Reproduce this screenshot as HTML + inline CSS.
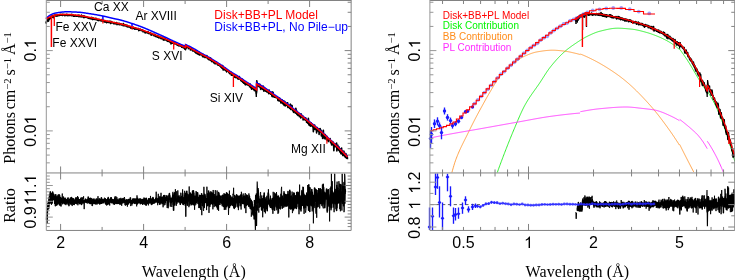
<!DOCTYPE html>
<html><head><meta charset="utf-8"><title>Spectrum</title>
<style>
html,body{margin:0;padding:0;background:#fff;}
body{width:735px;height:280px;overflow:hidden;font-family:"Liberation Sans",sans-serif;}
svg{display:block;}
</style></head><body>
<svg width="735" height="280" viewBox="0 0 735 280">
<rect width="735" height="280" fill="#fff"/>
<defs>
<clipPath id="cl"><rect x="46.5" y="0" width="305" height="230.5"/></clipPath>
<clipPath id="cr"><rect x="430" y="0" width="305" height="230.5"/></clipPath>
</defs>
<g id="left-top">
<polyline points="46,21.62 46.25,23.22 46.5,21.38 46.75,21.5 47,21.31 47.25,20.54 47.5,19.8 47.75,20.9 48,20.42 48.25,18.57 48.5,21.19 48.75,19.98 49,18.57 49.25,19.39 49.5,18.23 49.75,18.24 50,18.53 50.25,17.07 50.5,18.08 50.75,18.45 51,18.24 51.25,17.09 51.5,17.68 51.75,16 52,16.75 52.25,16.97 52.5,15.77 52.75,16.38 53,17.29 53.25,17.71 53.5,16.57 53.75,16.51 54,15.43 54.25,15.23 54.5,15.06 54.75,16.07 55,16.13 55.25,15.32 55.5,14.98 55.75,15.73 56,15.72 56.25,15.45 56.5,16.12 56.75,15.39 57,15.37 57.25,14.82 57.5,15.4 57.75,15.95 58,15.29 58.25,15.27 58.5,15.41 58.75,15.31 59,15.4 59.25,15.38 59.5,15.39 59.75,14.74 60,15.21 60.25,14.36 60.5,15.18 60.75,14.5 61,15.02 61.25,15.26 61.5,14.87 61.75,15.09 62,14.33 62.25,14.67 62.5,15.35 62.75,14.54 63,15.34 63.25,14.44 63.5,14.65 63.75,14.56 64,15.05 64.25,15.29 64.5,14.58 64.75,14.97 65,15.77 65.25,14.91 65.5,14.69 65.75,15.22 66,14.95 66.25,14.74 66.5,14.25 66.75,15.41 67,14.8 67.25,15.05 67.5,14.58 67.75,15.64 68,15.4 68.25,15.51 68.5,15.03 68.75,15.3 69,15.49 69.25,15.57 69.5,15.26 69.75,15.1 70,14.99 70.25,14.83 70.5,14.74 70.75,15.36 71,15.1 71.25,14.33 71.5,15.18 71.75,15.75 72,15.17 72.25,14.48 72.5,15.28 72.75,15.71 73,15.47 73.25,15.21 73.5,16.27 73.75,16.31 74,15.44 74.25,15.87 74.5,15.71 74.75,15.91 75,16.24 75.25,15.99 75.5,15.68 75.75,15.37 76,15.33 76.25,15.71 76.5,16.28 76.75,15.92 77,15.83 77.25,15.95 77.5,15.88 77.75,16.14 78,15.41 78.25,15.04 78.5,15.78 78.75,15.48 79,16.77 79.25,15.99 79.5,15.98 79.75,15.42 80,16.29 80.25,15.91 80.5,16.75 80.75,16.66 81,15.96 81.25,16.54 81.5,15.14 81.75,16.12 82,17.05 82.25,16.88 82.5,16.64 82.75,16.59 83,15.99 83.25,16.07 83.5,16.84 83.75,17.6 84,15.83 84.25,17.17 84.5,17.2 84.75,17.41 85,16.62 85.25,16.83 85.5,17.14 85.75,16.69 86,16.65 86.25,16.86 86.5,17.29 86.75,17.54 87,17.41 87.25,17.5 87.5,17.2 87.75,17.23 88,18.14 88.25,17.64 88.5,17.68 88.75,18.2 89,18.39 89.25,18.46 89.5,18.1 89.75,17.94 90,18.14 90.25,18.14 90.5,18.76 90.75,18.29 91,18.5 91.25,18.24 91.5,18.95 91.75,17.39 92,18.58 92.25,18.81 92.5,17.97 92.75,19.57 93,18.54 93.25,18.59 93.5,18.21 93.75,19.18 94,18.93 94.25,18.6 94.5,19.04 94.75,19.31 95,19.61 95.25,19.2 95.5,18.69 95.75,18.94 96,18.17 96.25,18.96 96.5,19.71 96.75,19.64 97,19.42 97.25,19.37 97.5,20.33 97.75,19.77 98,20.12 98.25,19.94 98.5,19.49 98.75,20.6 99,19.32 99.25,19.4 99.5,19.82 99.75,19.73 100,19.87 100.25,19.9 100.5,20.71 100.75,20.32 101,20.51 101.25,19.64 101.5,20.05 101.75,21.02 102,19.99 102.25,21.18 102.5,20.17 102.75,20.86 103,20.37 103.25,20.92 103.5,20.44 103.75,20.8 104,21.78 104.25,20.85 104.5,22.06 104.75,20.91 105,20.62 105.25,21.27 105.5,21.09 105.75,22.18 106,21.8 106.25,22.01 106.5,21.8 106.75,22.73 107,21.98 107.25,21.9 107.5,21.3 107.75,21.31 108,21.89 108.25,22.33 108.5,22.44 108.75,21.5 109,22.26 109.25,22.15 109.5,21.56 109.75,22.4 110,21.11 110.25,22.39 110.5,23.51 110.75,21.87 111,22.42 111.25,21.55 111.5,22.15 111.75,22.94 112,22.12 112.25,22.66 112.5,22.56 112.75,22.6 113,22.93 113.25,23.12 113.5,23.54 113.75,23.4 114,22.77 114.25,23.79 114.5,23.76 114.75,22.44 115,23.58 115.25,23.71 115.5,23.83 115.75,23.68 116,22.83 116.25,23.39 116.5,22.56 116.75,23.55 117,24.67 117.25,24.07 117.5,24.2 117.75,23.59 118,23.4 118.25,23.43 118.5,24.07 118.75,23.67 119,23.81 119.25,24.74 119.5,23.43 119.75,23.64 120,24.1 120.25,24.36 120.5,24.4 120.75,23.84 121,24.68 121.25,24.58 121.5,24.88 121.75,24.23 122,24.95 122.25,25 122.5,24.62 122.75,24.9 123,24.79 123.25,25.8 123.5,23.64 123.75,24.54 124,24.47 124.25,25.19 124.5,25.11 124.75,25.3 125,25.93 125.25,24.82 125.5,25.28 125.75,25.65 126,25.23 126.25,26.08 126.5,26.12 126.75,25.67 127,25.2 127.25,26.95 127.5,26.45 127.75,26.5 128,26.39 128.25,26.41 128.5,26.9 128.75,26.54 129,26.3 129.25,27.04 129.5,26.79 129.75,26.44 130,26.44 130.25,27.55 130.5,27.35 130.75,28.09 131,26.9 131.25,26.86 131.5,27.51 131.75,28.07 132,27.75 132.25,27.74 132.5,28.54 132.75,27.29 133,27.11 133.25,27.43 133.5,27.72 133.75,28.14 134,28.54 134.25,28.31 134.5,28.95 134.75,27.83 135,29.29 135.25,27.99 135.5,29.07 135.75,28.07 136,28.8 136.25,28.73 136.5,29.04 136.75,29.24 137,28.82 137.25,28.97 137.5,29.21 137.75,28.5 138,28.87 138.25,28.49 138.5,29.4 138.75,30.61 139,29.94 139.25,29.2 139.5,29.36 139.75,30.3 140,29.64 140.25,29.14 140.5,29.52 140.75,29.59 141,29.69 141.25,30.64 141.5,30.41 141.75,29.7 142,30.27 142.25,30.05 142.5,30.09 142.75,30.03 143,31.78 143.25,30.81 143.5,31.35 143.75,31.59 144,31.03 144.25,31.6 144.5,31.69 144.75,31.61 145,32.71 145.25,31.83 145.5,31.65 145.75,32.2 146,32.87 146.25,32.56 146.5,31.89 146.75,31.79 147,31.85 147.25,32.08 147.5,32.72 147.75,33.05 148,31.53 148.25,32.79 148.5,32.33 148.75,33.35 149,33.57 149.25,32.78 149.5,33.05 149.75,32.89 150,33.68 150.25,32.74 150.5,33.08 150.75,33.41 151,34.51 151.25,35.22 151.5,34.07 151.75,33.51 152,34.3 152.25,33.9 152.5,34.69 152.75,33.96 153,34.45 153.25,34.74 153.5,35.12 153.75,34.9 154,35.71 154.25,35.2 154.5,34.26 154.75,35.82 155,35.26 155.25,35.16 155.5,36.43 155.75,35.17 156,35.84 156.25,35.52 156.5,36.73 156.75,35.9 157,36.32 157.25,35.53 157.5,37.17 157.75,35.9 158,37.08 158.25,37.29 158.5,37.45 158.75,37.87 159,36.32 159.25,37.29 159.5,37.24 159.75,37.49 160,37.97 160.25,37.52 160.5,37.1 160.75,37.6 161,38.61 161.25,37.19 161.5,37.99 161.75,37.5 162,38.77 162.25,37.32 162.5,38.15 162.75,38.38 163,38.61 163.25,39.98 163.5,39.63 163.75,38.26 164,40.18 164.25,38.37 164.5,38.09 164.75,38.4 165,39.48 165.25,39.77 165.5,38.3 165.75,39.92 166,39.62 166.25,40.29 166.5,39.76 166.75,40.61 167,40.53 167.25,39.63 167.5,41.26 167.75,40.65 168,41.06 168.25,41.48 168.5,40.29 168.75,40.92 169,40.59 169.25,40.63 169.5,41.45 169.75,41.61 170,42.31 170.25,42.45 170.5,41.73 170.75,41.36 171,43.87 171.25,43.35 171.5,42.12 171.75,41.74 172,42.16 172.25,42.69 172.5,43.31 172.75,43.32 173,43.11 173.25,42.81 173.5,43.17 173.75,42.98 174,43.32 174.25,43.32 174.5,43.81 174.75,42.46 175,43.5 175.25,43.64 175.5,43.23 175.75,43.92 176,43.49 176.25,43.83 176.5,44.17 176.75,44.3 177,44.21 177.25,45.34 177.5,44.9 177.75,45.08 178,45.13 178.25,44.68 178.5,44.65 178.75,45.82 179,45.19 179.25,44.41 179.5,44.25 179.75,45.86 180,45.37 180.25,45.89 180.5,45.69 180.75,45.88 181,46.14 181.25,45.56 181.5,46.44 181.75,47.18 182,47.1 182.25,45.67 182.5,46.02 182.75,46.13 183,46.92 183.25,47.73 183.5,47.49 183.75,46.27 184,47.53 184.25,48.11 184.5,47.41 184.75,49.02 185,47.49 185.25,48.76 185.5,49.62 185.6,47.33 185.6,45.74 185.85,46.47 186.1,48.33 186.35,45.24 186.6,46.92 186.85,46.88 187.1,46.57 187.35,46.45 187.6,46.8 187.85,47.09 188.1,46.61 188.35,48.62 188.6,47.01 188.85,47.6 189.1,47.59 189.35,47.9 189.6,48.38 189.85,47.96 190.1,48.45 190.35,49.9 190.6,49.6 190.85,48.85 191.1,49.79 191.35,48.82 191.6,49.63 191.85,48.67 192.1,49 192.35,49.33 192.6,50.87 192.85,50.34 193.1,50.7 193.35,50.57 193.6,50.86 193.85,51.04 194.1,51.41 194.35,51.14 194.6,50.55 194.85,50.78 195.1,52.28 195.35,52.55 195.6,52.11 195.85,50.75 196.1,53.08 196.35,52.36 196.6,52.23 196.85,52.43 197.1,52.29 197.35,53.89 197.6,53.97 197.85,52.21 198.1,52.95 198.35,53.42 198.6,54.22 198.85,51.79 199.1,54.24 199.35,54.88 199.6,53.62 199.85,53.95 200.1,54.98 200.35,54.49 200.6,53.43 200.85,53.67 201.1,53.89 201.35,53.75 201.6,54.86 201.85,54.63 202.1,55.15 202.35,55.75 202.6,56.64 202.85,55.66 203.1,54.32 203.35,56.75 203.6,55.81 203.85,56.85 204.1,55.83 204.35,56.5 204.6,56.32 204.85,56.53 205.1,57.59 205.35,56.34 205.6,57.06 205.85,57.24 206.1,56.94 206.35,55.77 206.6,57.74 206.85,55.58 207.1,56.68 207.35,57.58 207.6,58.36 207.85,58.82 208.1,58.94 208.35,58.91 208.6,58.36 208.85,59.65 209.1,58.72 209.35,59.88 209.6,57.58 209.85,58.66 210.1,59.08 210.35,59.65 210.6,58.05 210.85,60.55 211.1,60.83 211.35,60.83 211.6,60.02 211.85,61.63 212.1,60.31 212.35,61.53 212.6,60.97 212.85,61.16 213.1,61.21 213.35,61.46 213.6,62.46 213.85,62.86 214.1,63.01 214.35,62.78 214.6,62.76 214.85,62.76 215.1,63.89 215.35,62.4 215.6,62.42 215.85,63.09 216.1,61.96 216.35,63.19 216.6,63.49 216.85,62.91 217.1,63.42 217.35,64.54 217.6,64 217.85,64.39 218.1,65.28 218.35,64.19 218.6,63.96 218.85,64.96 219.1,65.48 219.35,63.94 219.6,65.99 219.85,65.42 220.1,65.51 220.35,65.34 220.6,66.02 220.85,67.08 221.1,66.91 221.35,67.3 221.6,66.57 221.85,68.25 222.1,68.18 222.35,67.36 222.6,65.51 222.85,67.77 223.1,70.03 223.35,68.02 223.6,67.45 223.85,69.75 224.1,68.11 224.35,69.15 224.6,69.54 224.85,67.97 225.1,69.4 225.35,70.42 225.6,69.4 225.85,70.36 226.1,70.01 226.35,71.02 226.6,71.86 226.85,69.72 227.1,70.54 227.35,71.27 227.6,70.64 227.85,70.67 228.1,71.23 228.35,71.47 228.6,71.35 228.85,72.31 229.1,72.87 229.35,73 229.6,73.12 229.85,73.7 230.1,71.82 230.35,72.99 230.6,73.4 230.85,73.84 231.1,72.27 231.35,75.26 231.6,73.17 231.85,74.26 232.1,74.81 232.35,75.25 232.6,73.95 232.85,74.23 233.1,75.13 233.35,75.47 233.6,75.89 233.85,75.24 234.1,74.87 234.35,74.48 234.6,77.22 234.85,74.76 235.1,76.66 235.35,76.46 235.6,77.03 235.85,77.36 236.1,77.86 236.35,76.82 236.6,77.37 236.85,75.52 237.1,77.4 237.35,76.74 237.6,77.55 237.85,78.91 238.1,78.1 238.35,79.12 238.6,78.16 238.85,78.84 239.1,78.3 239.35,76.6 239.6,78.36 239.85,78.92 240.1,79.45 240.35,79.48 240.6,79.53 240.85,80.65 241.1,80.53 241.35,79.79 241.6,81.08 241.85,78.69 242.1,80.38 242.35,80.67 242.6,82.14 242.85,80.65 243.1,79.97 243.35,81.63 243.6,83.17 243.85,81.61 244.1,81.87 244.35,81.94 244.6,82.34 244.85,83.66 245.1,84.44 245.35,83.23 245.6,82.87 245.85,84.85 246.1,83.39 246.35,83.52 246.6,83.3 246.85,83.5 247.1,84.19 247.35,83.86 247.6,84.69 247.85,84.55 248.1,85.16 248.35,84.44 248.6,84.78 248.85,85.36 249.1,85.37 249.35,85.56 249.6,86.76 249.85,84.78 250.1,84.11 250.35,86.84 250.6,86.07 250.85,87.78 251.1,86.56 251.35,85.68 251.6,89.11 251.85,87.54 252.1,86.87 252.35,86.75 252.6,88.2 252.85,87.16 253.1,88.37 253.35,89.31 253.6,86.95 253.85,88.14 254.1,89.14 254.35,90.49 254.6,89.93 254.85,88.72 255.1,90.81 255.35,89.15 255.6,89.52 255.85,90.23 256.1,88.92 256.35,93.3 256.6,91.57 256.6,90.58 256.6,83.99 256.85,83.52 257.1,85.21 257.35,85.68 257.6,84.71 257.85,85.05 258.1,85.96 258.35,85.47 258.6,83.77 258.85,86.51 259.1,86.22 259.35,86.86 259.6,85.47 259.85,84.19 260.1,85.25 260.35,87 260.6,89.01 260.85,89.45 261.1,87.46 261.35,85.76 261.6,87.09 261.85,88.06 262.1,88.21 262.35,88 262.6,89.47 262.85,87.25 263.1,86.06 263.35,87.59 263.6,87.44 263.85,91.23 264.1,88.8 264.35,87.63 264.6,89.99 264.85,90.58 265.1,89.72 265.35,90.03 265.6,91.1 265.85,90.72 266.1,89.57 266.35,91.14 266.6,91.69 266.85,91.22 267.1,91.97 267.35,91.83 267.6,91.1 267.85,91.37 268.1,92.39 268.35,91.27 268.6,93.34 268.85,93.59 269.1,90.16 269.35,92.52 269.6,91.93 269.85,92.24 270.1,93.29 270.35,93.12 270.6,94.12 270.85,94.03 271.1,94.26 271.35,93.14 271.6,93.81 271.85,96.04 272.1,91.74 272.35,96.69 272.6,94.28 272.85,96.44 273.1,92.3 273.35,94.97 273.6,96.61 273.85,95.98 274.1,97.16 274.35,95.15 274.6,95.69 274.85,95.76 275.1,97.28 275.35,97.41 275.6,96.9 275.85,96.91 276.1,97.05 276.35,97.67 276.6,96.63 276.85,97.85 277.1,97.93 277.35,97.63 277.6,97.77 277.85,100.37 278.1,98.07 278.35,99.46 278.6,100.77 278.85,100.2 279.1,99.52 279.35,100.88 279.6,98.14 279.85,98.55 280.1,99.72 280.35,100.11 280.6,100.44 280.85,103 281.1,102.95 281.35,101.04 281.6,101.57 281.85,100.33 282.1,102 282.35,100.16 282.6,103.68 282.85,101.51 283.1,103.01 283.35,100.9 283.6,104.39 283.85,103.61 284.1,105.46 284.35,103.31 284.6,101.4 284.85,102.61 285.1,102.21 285.35,105.91 285.6,103.35 285.85,103.37 286.1,105.24 286.35,105.01 286.6,105.48 286.85,104.41 287.1,102.72 287.35,103.7 287.6,102.83 287.85,107.4 288.1,107.12 288.35,105.69 288.6,107.14 288.85,107.39 289.1,107.53 289.35,107.59 289.6,108.23 289.85,107.4 290.1,104.64 290.35,104.12 290.6,109.49 290.85,108.82 291.1,105.01 291.35,108.66 291.6,107.5 291.85,108.12 292.1,105.64 292.35,110.21 292.6,109.3 292.85,110.66 293.1,111.22 293.35,111.67 293.6,112.34 293.85,110.76 294.1,110.86 294.35,109.93 294.6,111.66 294.85,110.85 295.1,109.8 295.35,113.14 295.6,112.7 295.85,108.38 296.1,109.66 296.35,112.05 296.6,110.74 296.85,114.38 297.1,113.18 297.35,113.9 297.6,114.6 297.85,115.34 298.1,113.36 298.35,114.78 298.6,114.48 298.85,115.42 299.1,115.29 299.35,116.67 299.6,115.66 299.85,114.47 300.1,115.49 300.35,113.96 300.6,116.17 300.85,118.02 301.1,115.28 301.35,114.02 301.6,116.41 301.85,116.01 302.1,116.93 302.35,116.29 302.6,117.44 302.85,116.08 303.1,119.96 303.35,117.61 303.6,118.88 303.85,119.44 304.1,118.32 304.35,119.41 304.6,118.59 304.85,118.49 305.1,119.02 305.35,120.28 305.6,117.88 305.85,118.61 306.1,118.97 306.35,119.52 306.6,122.32 306.85,120.73 307.1,120.52 307.35,121.4 307.6,123.01 307.85,120.45 308.1,123.37 308.35,118.41 308.6,120.83 308.85,124.7 309.1,125.04 309.35,123.13 309.6,122.36 309.85,124.53 310.1,122.79 310.35,126.09 310.6,125.73 310.85,125.28 311.1,122.91 311.35,126.02 311.6,124.26 311.85,124.49 312.1,124.38 312.35,125.08 312.6,126.29 312.85,127.06 313.1,127.27 313.35,131.66 313.6,125.72 313.85,128.41 314.1,125.59 314.35,126.57 314.6,125.15 314.85,129.33 315.1,127.94 315.35,127.93 315.6,127.71 315.85,129.68 316.1,127.47 316.35,129.21 316.6,133.05 316.85,128.7 317.1,128.07 317.35,127.61 317.6,130.97 317.85,129.89 318.1,128.67 318.35,128.74 318.6,130.46 318.85,128.86 319.1,134.54 319.35,130.71 319.6,130.95 319.85,131.32 320.1,128.46 320.35,129.32 320.6,131.49 320.85,132.32 321.1,130.35 321.35,135.89 321.6,133.87 321.85,135.62 322.1,135.63 322.35,133.31 322.6,138.43 322.85,134.4 323.1,130.92 323.35,130.31 323.6,134.87 323.85,136.72 324.1,135.46 324.35,138.81 324.6,135.23 324.85,137.09 325.1,137.64 325.35,134.53 325.6,137.3 325.85,137.64 326.1,139.27 326.35,139.72 326.6,139.53 326.85,136.4 327.1,139.51 327.35,140.39 327.6,138.61 327.85,140.23 328.1,140.5 328.35,141.54 328.6,139.61 328.85,140.62 329.1,140.3 329.35,140.27 329.6,139.15 329.85,139.93 330.1,138.59 330.35,140.65 330.6,142.65 330.85,142.74 331.1,143.23 331.35,141.73 331.6,144.99 331.85,141.49 332.1,144.2 332.35,143.73 332.6,141.59 332.85,141.9 333.1,145.1 333.35,143.88 333.6,144.6 333.85,150.62 334.1,145.68 334.35,145 334.6,146.51 334.85,143.97 335.1,145.09 335.35,146.62 335.6,144.21 335.85,146.09 336.1,146 336.35,146.86 336.6,143.12 336.85,150.86 337.1,147.14 337.35,148.74 337.6,145.58 337.85,145.23 338.1,148.32 338.35,147.81 338.6,150.14 338.85,146.97 339.1,147.07 339.35,150.17 339.6,151.21 339.85,151.94 340.1,150.09 340.35,150.97 340.6,148.88 340.85,153.78 341.1,153.64 341.35,153.81 341.6,148.03 341.85,153.8 342.1,150.45 342.35,153.43 342.6,153.53 342.85,155.56 343.1,152.63 343.35,152.54 343.6,151.27 343.85,151.12 344.1,155.38 344.35,152.24 344.6,156.1 344.85,153.95 345.1,153.77 345.35,157.54 345.6,157.57 345.85,153.57 346.1,155.73 346.35,156.37 346.6,158.22 346.85,155.24 347.1,156.26 347.35,157.25 347.5,159.31" fill="none" stroke="#000" stroke-width="1.6" stroke-linejoin="round"/>
<polyline points="255.9,90 256.3,97 256.8,80 257.6,84.5" fill="none" stroke="#000" stroke-width="1.3" />
<polyline points="185,47.5 185.5,49.6 185.9,45" fill="none" stroke="#000" stroke-width="1.1" />
<polyline points="46,18.6 46.25,18.35 46.5,18.11 46.75,17.87 47,17.63 47.25,17.39 47.5,17.15 47.75,16.92 48,16.69 48.25,16.47 48.5,16.25 48.75,16.05 49,15.86 49.25,15.68 49.5,15.52 49.75,15.37 50,15.23 50.25,15.1 50.5,14.96 50.75,14.83 51,14.7 51.25,14.58 51.5,14.45 51.75,14.34 52,14.22 52.25,14.11 52.5,14 52.75,13.9 53,13.8 53.25,13.71 53.5,13.62 53.75,13.53 54,13.45 54.25,13.38 54.5,13.31 54.75,13.24 55,13.18 55.25,13.13 55.5,13.08 55.75,13.03 56,12.99 56.25,12.94 56.5,12.9 56.75,12.85 57,12.81 57.25,12.76 57.5,12.72 57.75,12.68 58,12.64 58.25,12.6 58.5,12.56 58.75,12.52 59,12.48 59.25,12.44 59.5,12.4 59.75,12.37 60,12.33 60.25,12.3 60.5,12.26 60.75,12.23 61,12.2 61.25,12.17 61.5,12.14 61.75,12.11 62,12.08 62.25,12.05 62.5,12.03 62.75,12.01 63,11.98 63.25,11.96 63.5,11.94 63.75,11.92 64,11.9 64.25,11.89 64.5,11.87 64.75,11.86 65,11.85 65.25,11.83 65.5,11.82 65.75,11.82 66,11.81 66.25,11.81 66.5,11.8 66.75,11.8 67,11.8 67.25,11.8 67.5,11.8 67.75,11.8 68,11.81 68.25,11.81 68.5,11.81 68.75,11.81 69,11.82 69.25,11.82 69.5,11.83 69.75,11.83 70,11.84 70.25,11.84 70.5,11.85 70.75,11.86 71,11.87 71.25,11.87 71.5,11.88 71.75,11.89 72,11.9 72.25,11.91 72.5,11.92 72.75,11.93 73,11.94 73.25,11.95 73.5,11.96 73.75,11.97 74,11.98 74.25,11.99 74.5,12 74.75,12.01 75,12.03 75.25,12.04 75.5,12.05 75.75,12.06 76,12.08 76.25,12.09 76.5,12.1 76.75,12.12 77,12.13 77.25,12.14 77.5,12.16 77.75,12.17 78,12.18 78.25,12.2 78.5,12.21 78.75,12.23 79,12.24 79.25,12.26 79.5,12.28 79.75,12.3 80,12.33 80.25,12.35 80.5,12.37 80.75,12.4 81,12.43 81.25,12.45 81.5,12.48 81.75,12.51 82,12.54 82.25,12.58 82.5,12.61 82.75,12.64 83,12.67 83.25,12.71 83.5,12.74 83.75,12.78 84,12.82 84.25,12.85 84.5,12.89 84.75,12.93 85,12.97 85.25,13 85.5,13.04 85.75,13.08 86,13.12 86.25,13.16 86.5,13.2 86.75,13.24 87,13.28 87.25,13.32 87.5,13.36 87.75,13.4 88,13.44 88.25,13.48 88.5,13.52 88.75,13.56 89,13.59 89.25,13.63 89.5,13.67 89.75,13.71 90,13.74 90.25,13.78 90.5,13.82 90.75,13.86 91,13.9 91.25,13.94 91.5,13.97 91.75,14.01 92,14.05 92.25,14.09 92.5,14.13 92.75,14.17 93,14.21 93.25,14.25 93.5,14.29 93.75,14.33 94,14.37 94.25,14.42 94.5,14.46 94.75,14.5 95,14.54 95.25,14.58 95.5,14.63 95.75,14.67 96,14.71 96.25,14.75 96.5,14.8 96.75,14.84 97,14.88 97.25,14.93 97.5,14.97 97.75,15.02 98,15.06 98.25,15.11 98.5,15.15 98.75,15.2 99,15.25 99.25,15.29 99.5,15.34 99.75,15.39 100,15.43 100.25,15.48 100.5,15.53 100.75,15.58 101,15.62 101.25,15.67 101.5,15.72 101.75,15.77 102,15.82 102.25,15.87 102.5,15.92 102.75,15.97 103,16.02 103.25,16.07 103.5,16.12 103.75,16.18 104,16.23 104.25,16.29 104.5,16.34 104.75,16.4 105,16.46 105.25,16.52 105.5,16.57 105.75,16.63 106,16.69 106.25,16.75 106.5,16.81 106.75,16.87 107,16.94 107.25,17 107.5,17.06 107.75,17.12 108,17.18 108.25,17.25 108.5,17.31 108.75,17.37 109,17.43 109.25,17.5 109.5,17.56 109.75,17.62 110,17.68 110.25,17.74 110.5,17.8 110.75,17.87 111,17.93 111.25,17.99 111.5,18.05 111.75,18.1 112,18.16 112.25,18.22 112.5,18.28 112.75,18.33 113,18.39 113.25,18.44 113.5,18.5 113.75,18.55 114,18.6 114.25,18.66 114.5,18.71 114.75,18.76 115,18.81 115.25,18.86 115.5,18.92 115.75,18.97 116,19.02 116.25,19.07 116.5,19.12 116.75,19.17 117,19.22 117.25,19.28 117.5,19.33 117.75,19.38 118,19.44 118.25,19.49 118.5,19.55 118.75,19.6 119,19.66 119.25,19.72 119.5,19.78 119.75,19.84 120,19.9 120.25,19.96 120.5,20.03 120.75,20.09 121,20.15 121.25,20.22 121.5,20.29 121.75,20.35 122,20.42 122.25,20.49 122.5,20.56 122.75,20.63 123,20.7 123.25,20.77 123.5,20.84 123.75,20.91 124,20.98 124.25,21.06 124.5,21.13 124.75,21.2 125,21.28 125.25,21.35 125.5,21.43 125.75,21.51 126,21.58 126.25,21.66 126.5,21.74 126.75,21.81 127,21.89 127.25,21.97 127.5,22.05 127.75,22.13 128,22.21 128.25,22.29 128.5,22.37 128.75,22.45 129,22.53 129.25,22.61 129.5,22.69 129.75,22.77 130,22.85 130.25,22.93 130.5,23.01 130.75,23.09 131,23.17 131.25,23.26 131.5,23.34 131.75,23.42 132,23.5 132.25,23.58 132.5,23.66 132.75,23.75 133,23.83 133.25,23.91 133.5,24 133.75,24.08 134,24.16 134.25,24.25 134.5,24.33 134.75,24.42 135,24.51 135.25,24.59 135.5,24.68 135.75,24.76 136,24.85 136.25,24.94 136.5,25.03 136.75,25.11 137,25.2 137.25,25.29 137.5,25.38 137.75,25.47 138,25.56 138.25,25.65 138.5,25.74 138.75,25.83 139,25.92 139.25,26.02 139.5,26.11 139.75,26.2 140,26.29 140.25,26.39 140.5,26.48 140.75,26.58 141,26.67 141.25,26.76 141.5,26.86 141.75,26.96 142,27.05 142.25,27.15 142.5,27.24 142.75,27.34 143,27.44 143.25,27.54 143.5,27.64 143.75,27.74 144,27.84 144.25,27.94 144.5,28.04 144.75,28.14 145,28.24 145.25,28.35 145.5,28.45 145.75,28.56 146,28.66 146.25,28.77 146.5,28.87 146.75,28.98 147,29.09 147.25,29.2 147.5,29.3 147.75,29.41 148,29.52 148.25,29.63 148.5,29.74 148.75,29.85 149,29.96 149.25,30.07 149.5,30.18 149.75,30.29 150,30.4 150.25,30.51 150.5,30.62 150.75,30.73 151,30.84 151.25,30.95 151.5,31.06 151.75,31.17 152,31.28 152.25,31.4 152.5,31.51 152.75,31.62 153,31.73 153.25,31.84 153.5,31.95 153.75,32.06 154,32.17 154.25,32.28 154.5,32.39 154.75,32.5 155,32.61 155.25,32.72 155.5,32.83 155.75,32.94 156,33.05 156.25,33.16 156.5,33.27 156.75,33.38 157,33.49 157.25,33.6 157.5,33.71 157.75,33.82 158,33.93 158.25,34.04 158.5,34.15 158.75,34.26 159,34.37 159.25,34.48 159.5,34.59 159.75,34.71 160,34.82 160.25,34.93 160.5,35.04 160.75,35.15 161,35.26 161.25,35.38 161.5,35.49 161.75,35.6 162,35.71 162.25,35.83 162.5,35.94 162.75,36.05 163,36.17 163.25,36.28 163.5,36.39 163.75,36.51 164,36.62 164.25,36.73 164.5,36.85 164.75,36.96 165,37.08 165.25,37.19 165.5,37.31 165.75,37.42 166,37.54 166.25,37.66 166.5,37.77 166.75,37.89 167,38.01 167.25,38.13 167.5,38.25 167.75,38.37 168,38.49 168.25,38.61 168.5,38.73 168.75,38.85 169,38.97 169.25,39.09 169.5,39.21 169.75,39.33 170,39.45 170.25,39.58 170.5,39.7 170.75,39.82 171,39.94 171.25,40.06 171.5,40.18 171.75,40.29 172,40.41 172.25,40.53 172.5,40.65 172.75,40.76 173,40.88 173.25,41 173.5,41.11 173.75,41.22 174,41.34 174.25,41.45 174.5,41.56 174.75,41.67 175,41.78 175.25,41.9 175.5,42.01 175.75,42.12 176,42.23 176.25,42.34 176.5,42.45 176.75,42.56 177,42.67 177.25,42.78 177.5,42.89 177.75,43 178,43.11 178.25,43.22 178.5,43.33 178.75,43.44 179,43.55 179.25,43.65 179.5,43.76 179.75,43.87 180,43.98 180.25,44.08 180.5,44.19 180.75,44.3 181,44.4 181.25,44.51 181.5,44.61 181.75,44.72 182,44.82 182.25,44.93 182.5,45.03 182.75,45.14 183,45.24 183.25,45.34 183.5,45.45 183.75,45.55 184,45.65 184.25,45.75 184.5,45.86 184.75,45.96 185,46.06 185.25,46.16 185.5,46.26 185.6,46.3 185.6,44.6 185.85,44.7 186.1,44.81 186.35,44.91 186.6,45.02 186.85,45.13 187.1,45.24 187.35,45.35 187.6,45.47 187.85,45.58 188.1,45.7 188.35,45.81 188.6,45.93 188.85,46.05 189.1,46.17 189.35,46.29 189.6,46.42 189.85,46.54 190.1,46.66 190.35,46.79 190.6,46.92 190.85,47.04 191.1,47.17 191.35,47.3 191.6,47.43 191.85,47.57 192.1,47.7 192.35,47.83 192.6,47.97 192.85,48.1 193.1,48.24 193.35,48.37 193.6,48.51 193.85,48.65 194.1,48.79 194.35,48.93 194.6,49.07 194.85,49.21 195.1,49.36 195.35,49.5 195.6,49.65 195.85,49.8 196.1,49.95 196.35,50.11 196.6,50.26 196.85,50.42 197.1,50.58 197.35,50.74 197.6,50.9 197.85,51.06 198.1,51.22 198.35,51.39 198.6,51.55 198.85,51.72 199.1,51.89 199.35,52.06 199.6,52.23 199.85,52.4 200.1,52.66 200.35,52.79 200.6,52.91 200.85,53.04 201.1,53.17 201.35,53.29 201.6,53.42 201.85,53.54 202.1,53.67 202.35,53.8 202.6,53.92 202.85,54.05 203.1,54.18 203.35,54.3 203.6,54.43 203.85,54.56 204.1,54.69 204.35,54.82 204.6,54.95 204.85,55.08 205.1,55.21 205.35,55.34 205.6,55.47 205.85,55.61 206.1,55.74 206.35,55.88 206.6,56.01 206.85,56.15 207.1,56.29 207.35,56.43 207.6,56.57 207.85,56.71 208.1,56.85 208.35,56.99 208.6,57.14 208.85,57.28 209.1,57.42 209.35,57.57 209.6,57.71 209.85,57.86 210.1,58.01 210.35,58.15 210.6,58.3 210.85,58.45 211.1,58.6 211.35,58.75 211.6,58.9 211.85,59.05 212.1,59.2 212.35,59.35 212.6,59.5 212.85,59.65 213.1,59.81 213.35,59.96 213.6,60.11 213.85,60.27 214.1,60.42 214.35,60.58 214.6,60.73 214.85,60.89 215.1,61.04 215.35,61.2 215.6,61.36 215.85,61.52 216.1,61.67 216.35,61.83 216.6,61.99 216.85,62.15 217.1,62.31 217.35,62.47 217.6,62.63 217.85,62.79 218.1,62.95 218.35,63.11 218.6,63.27 218.85,63.44 219.1,63.6 219.35,63.77 219.6,63.93 219.85,64.1 220.1,64.27 220.35,64.43 220.6,64.6 220.85,64.77 221.1,64.94 221.35,65.11 221.6,65.28 221.85,65.45 222.1,65.62 222.35,65.79 222.6,65.97 222.85,66.14 223.1,66.31 223.35,66.48 223.6,66.66 223.85,66.83 224.1,67 224.35,67.18 224.6,67.35 224.85,67.53 225.1,67.7 225.35,67.88 225.6,68.06 225.85,68.24 226.1,68.42 226.35,68.61 226.6,68.79 226.85,68.97 227.1,69.16 227.35,69.34 227.6,69.52 227.85,69.71 228.1,69.89 228.35,70.07 228.6,70.25 228.85,70.42 229.1,70.6 229.35,70.78 229.6,70.95 229.85,71.12 230.1,71.28 230.35,71.45 230.6,71.61 230.85,71.77 231.1,71.93 231.35,72.09 231.6,72.25 231.85,72.41 232.1,72.56 232.35,72.72 232.6,72.87 232.85,73.02 233.1,73.18 233.35,73.33 233.6,73.48 233.85,73.64 234.1,73.79 234.35,73.95 234.6,74.1 234.85,74.26 235.1,74.41 235.35,74.57 235.6,74.73 235.85,74.89 236.1,75.05 236.35,75.21 236.6,75.37 236.85,75.53 237.1,75.69 237.35,75.86 237.6,76.02 237.85,76.18 238.1,76.34 238.35,76.5 238.6,76.67 238.85,76.83 239.1,76.99 239.35,77.16 239.6,77.32 239.85,77.48 240.1,77.65 240.35,77.81 240.6,77.97 240.85,78.14 241.1,78.3 241.35,78.47 241.6,78.63 241.85,78.8 242.1,78.96 242.35,79.12 242.6,79.29 242.85,79.45 243.1,79.62 243.35,79.78 243.6,79.95 243.85,80.12 244.1,80.28 244.35,80.45 244.6,80.61 244.85,80.78 245.1,80.94 245.35,81.11 245.6,81.27 245.85,81.44 246.1,81.61 246.35,81.77 246.6,81.94 246.85,82.1 247.1,82.27 247.35,82.44 247.6,82.6 247.85,82.77 248.1,82.93 248.35,83.1 248.6,83.27 248.85,83.43 249.1,83.6 249.35,83.77 249.6,83.93 249.85,84.1 250.1,84.27 250.35,84.44 250.6,84.6 250.85,84.77 251.1,84.94 251.35,85.11 251.6,85.27 251.85,85.44 252.1,85.61 252.35,85.78 252.6,85.95 252.85,86.11 253.1,86.28 253.35,86.45 253.6,86.62 253.85,86.79 254.1,86.96 254.35,87.13 254.6,87.29 254.85,87.46 255.1,87.63 255.35,87.8 255.6,87.97 255.85,88.14 256.1,88.31 256.35,88.48 256.6,88.65 256.6,88.65 256.6,82.85 256.85,82.99 257.1,83.13 257.35,83.27 257.6,83.41 257.85,83.55 258.1,83.69 258.35,83.84 258.6,83.98 258.85,84.12 259.1,84.27 259.35,84.41 259.6,84.56 259.85,84.71 260.1,84.85 260.35,85 260.6,85.15 260.85,85.3 261.1,85.45 261.35,85.61 261.6,85.76 261.85,85.91 262.1,86.07 262.35,86.22 262.6,86.38 262.85,86.53 263.1,86.69 263.35,86.85 263.6,87.01 263.85,87.17 264.1,87.33 264.35,87.5 264.6,87.66 264.85,87.83 265.1,87.99 265.35,88.16 265.6,88.33 265.85,88.5 266.1,88.67 266.35,88.84 266.6,89.01 266.85,89.19 267.1,89.36 267.35,89.53 267.6,89.71 267.85,89.88 268.1,90.06 268.35,90.24 268.6,90.41 268.85,90.59 269.1,90.77 269.35,90.95 269.6,91.13 269.85,91.31 270.1,91.49 270.35,91.67 270.6,91.85 270.85,92.03 271.1,92.21 271.35,92.39 271.6,92.57 271.85,92.75 272.1,92.93 272.35,93.11 272.6,93.29 272.85,93.47 273.1,93.65 273.35,93.83 273.6,94.01 273.85,94.19 274.1,94.36 274.35,94.54 274.6,94.72 274.85,94.9 275.1,95.07 275.35,95.25 275.6,95.43 275.85,95.61 276.1,95.78 276.35,95.96 276.6,96.13 276.85,96.31 277.1,96.49 277.35,96.66 277.6,96.84 277.85,97.02 278.1,97.19 278.35,97.37 278.6,97.55 278.85,97.72 279.1,97.9 279.35,98.08 279.6,98.25 279.85,98.43 280.1,98.61 280.35,98.78 280.6,98.96 280.85,99.14 281.1,99.32 281.35,99.49 281.6,99.67 281.85,99.85 282.1,100.03 282.35,100.21 282.6,100.39 282.85,100.56 283.1,100.74 283.35,100.92 283.6,101.1 283.85,101.28 284.1,101.47 284.35,101.65 284.6,101.83 284.85,102.01 285.1,102.19 285.35,102.37 285.6,102.56 285.85,102.74 286.1,102.92 286.35,103.11 286.6,103.29 286.85,103.48 287.1,103.66 287.35,103.85 287.6,104.04 287.85,104.23 288.1,104.41 288.35,104.6 288.6,104.79 288.85,104.98 289.1,105.17 289.35,105.36 289.6,105.55 289.85,105.74 290.1,105.93 290.35,106.13 290.6,106.32 290.85,106.52 291.1,106.71 291.35,106.91 291.6,107.1 291.85,107.3 292.1,107.49 292.35,107.69 292.6,107.89 292.85,108.09 293.1,108.28 293.35,108.48 293.6,108.68 293.85,108.88 294.1,109.08 294.35,109.28 294.6,109.47 294.85,109.67 295.1,109.87 295.35,110.07 295.6,110.27 295.85,110.47 296.1,110.67 296.35,110.87 296.6,111.07 296.85,111.27 297.1,111.47 297.35,111.67 297.6,111.87 297.85,112.08 298.1,112.28 298.35,112.48 298.6,112.68 298.85,112.88 299.1,113.08 299.35,113.28 299.6,113.48 299.85,113.68 300.1,113.89 300.35,114.09 300.6,114.29 300.85,114.49 301.1,114.7 301.35,114.9 301.6,115.11 301.85,115.31 302.1,115.51 302.35,115.72 302.6,115.92 302.85,116.13 303.1,116.33 303.35,116.54 303.6,116.74 303.85,116.95 304.1,117.15 304.35,117.36 304.6,117.57 304.85,117.77 305.1,117.98 305.35,118.18 305.6,118.39 305.85,118.6 306.1,118.8 306.35,119.01 306.6,119.22 306.85,119.42 307.1,119.63 307.35,119.84 307.6,120.04 307.85,120.25 308.1,120.46 308.35,120.66 308.6,120.87 308.85,121.07 309.1,121.28 309.35,121.49 309.6,121.69 309.85,121.9 310.1,122.11 310.35,122.31 310.6,122.52 310.85,122.72 311.1,122.93 311.35,123.13 311.6,123.34 311.85,123.54 312.1,123.74 312.35,123.95 312.6,124.15 312.85,124.35 313.1,124.55 313.35,124.76 313.6,124.96 313.85,125.16 314.1,125.37 314.35,125.57 314.6,125.77 314.85,125.98 315.1,126.18 315.35,126.38 315.6,126.59 315.85,126.79 316.1,127 316.35,127.21 316.6,127.41 316.85,127.62 317.1,127.83 317.35,128.04 317.6,128.25 317.85,128.46 318.1,128.67 318.35,128.89 318.6,129.1 318.85,129.32 319.1,129.53 319.35,129.75 319.6,129.97 319.85,130.19 320.1,130.41 320.35,130.63 320.6,130.85 320.85,131.08 321.1,131.3 321.35,131.53 321.6,131.76 321.85,131.98 322.1,132.21 322.35,132.44 322.6,132.67 322.85,132.9 323.1,133.13 323.35,133.37 323.6,133.6 323.85,133.83 324.1,134.06 324.35,134.3 324.6,134.53 324.85,134.76 325.1,135 325.35,135.23 325.6,135.46 325.85,135.7 326.1,135.93 326.35,136.16 326.6,136.39 326.85,136.62 327.1,136.85 327.35,137.08 327.6,137.31 327.85,137.54 328.1,137.78 328.35,138.01 328.6,138.24 328.85,138.47 329.1,138.7 329.35,138.93 329.6,139.16 329.85,139.39 330.1,139.62 330.35,139.85 330.6,140.08 330.85,140.31 331.1,140.54 331.35,140.78 331.6,141.01 331.85,141.24 332.1,141.47 332.35,141.71 332.6,141.94 332.85,142.18 333.1,142.41 333.35,142.64 333.6,142.88 333.85,143.12 334.1,143.35 334.35,143.59 334.6,143.83 334.85,144.06 335.1,144.3 335.35,144.54 335.6,144.77 335.85,145.01 336.1,145.25 336.35,145.48 336.6,145.72 336.85,145.95 337.1,146.19 337.35,146.42 337.6,146.66 337.85,146.9 338.1,147.13 338.35,147.37 338.6,147.61 338.85,147.84 339.1,148.08 339.35,148.32 339.6,148.56 339.85,148.8 340.1,149.04 340.35,149.28 340.6,149.52 340.85,149.76 341.1,150 341.35,150.25 341.6,150.49 341.85,150.74 342.1,150.98 342.35,151.23 342.6,151.48 342.85,151.73 343.1,151.98 343.35,152.23 343.6,152.48 343.85,152.74 344.1,152.99 344.35,153.25 344.6,153.51 344.85,153.76 345.1,154.03 345.35,154.29 345.6,154.55 345.85,154.82 346.1,155.09 346.35,155.37 346.6,155.65 346.85,155.93 347.1,156.22 347.35,156.5 347.5,156.68" fill="none" stroke="#0000ff" stroke-width="1.5" />
<line x1="102.9" y1="16" x2="102.9" y2="20.2" stroke="#0000ff" stroke-width="1.5" />
<line x1="132" y1="23.5" x2="132" y2="26.3" stroke="#0000ff" stroke-width="1.5" />
<line x1="173.7" y1="41.2" x2="173.7" y2="42.8" stroke="#0000ff" stroke-width="1.5" />
<polyline points="46,19.1 46.25,18.93 46.5,18.78 46.75,18.63 47,18.48 47.25,18.34 47.5,18.2 47.75,18.06 48,17.92 48.25,17.79 48.5,17.66 48.75,17.54 49,17.42 49.25,17.3 49.5,17.19 49.75,17.08 50,16.97 50.25,16.86 50.5,16.75 50.75,16.65 51,16.54 51.25,16.43 51.5,16.33 51.75,16.23 52,16.12 52.25,16.03 52.5,15.93 52.75,15.83 53,15.74 53.25,15.66 53.5,15.57 53.75,15.49 54,15.42 54.25,15.35 54.5,15.29 54.75,15.23 55,15.17 55.25,15.13 55.5,15.08 55.75,15.04 56,15 56.25,14.96 56.5,14.93 56.75,14.89 57,14.85 57.25,14.81 57.5,14.78 57.75,14.75 58,14.71 58.25,14.68 58.5,14.66 58.75,14.63 59,14.61 59.25,14.58 59.5,14.56 59.75,14.55 60,14.53 60.25,14.52 60.5,14.51 60.75,14.5 61,14.5 61.25,14.5 61.5,14.5 61.75,14.5 62,14.5 62.25,14.5 62.5,14.5 62.75,14.5 63,14.5 63.25,14.5 63.5,14.5 63.75,14.5 64,14.5 64.25,14.5 64.5,14.5 64.75,14.5 65,14.5 65.25,14.5 65.5,14.5 65.75,14.5 66,14.5 66.25,14.5 66.5,14.5 66.75,14.5 67,14.5 67.25,14.5 67.5,14.5 67.75,14.51 68,14.51 68.25,14.52 68.5,14.53 68.75,14.54 69,14.55 69.25,14.56 69.5,14.57 69.75,14.58 70,14.6 70.25,14.61 70.5,14.63 70.75,14.64 71,14.66 71.25,14.68 71.5,14.7 71.75,14.72 72,14.74 72.25,14.76 72.5,14.79 72.75,14.81 73,14.83 73.25,14.86 73.5,14.88 73.75,14.91 74,14.93 74.25,14.96 74.5,14.98 74.75,15.01 75,15.04 75.25,15.06 75.5,15.09 75.75,15.12 76,15.15 76.25,15.17 76.5,15.2 76.75,15.23 77,15.26 77.25,15.28 77.5,15.31 77.75,15.34 78,15.37 78.25,15.39 78.5,15.42 78.75,15.45 79,15.48 79.25,15.51 79.5,15.54 79.75,15.58 80,15.61 80.25,15.65 80.5,15.69 80.75,15.72 81,15.76 81.25,15.8 81.5,15.84 81.75,15.88 82,15.92 82.25,15.97 82.5,16.01 82.75,16.05 83,16.1 83.25,16.14 83.5,16.19 83.75,16.24 84,16.28 84.25,16.33 84.5,16.38 84.75,16.43 85,16.47 85.25,16.52 85.5,16.57 85.75,16.62 86,16.67 86.25,16.72 86.5,16.77 86.75,16.82 87,16.87 87.25,16.92 87.5,16.97 87.75,17.02 88,17.07 88.25,17.12 88.5,17.17 88.75,17.22 89,17.26 89.25,17.31 89.5,17.36 89.75,17.41 90,17.46 90.25,17.51 90.5,17.56 90.75,17.6 91,17.65 91.25,17.7 91.5,17.75 91.75,17.81 92,17.86 92.25,17.91 92.5,17.96 92.75,18.01 93,18.06 93.25,18.12 93.5,18.17 93.75,18.22 94,18.27 94.25,18.33 94.5,18.38 94.75,18.44 95,18.49 95.25,18.54 95.5,18.6 95.75,18.65 96,18.71 96.25,18.76 96.5,18.81 96.75,18.87 97,18.92 97.25,18.98 97.5,19.03 97.75,19.09 98,19.14 98.25,19.2 98.5,19.25 98.75,19.31 99,19.36 99.25,19.42 99.5,19.47 99.75,19.53 100,19.58 100.25,19.63 100.5,19.69 100.75,19.74 101,19.8 101.25,19.85 101.5,19.9 101.75,19.96 102,20.01 102.25,20.06 102.5,20.12 102.75,20.17 103,20.22 103.25,20.27 103.5,20.32 103.75,20.38 104,20.43 104.25,20.48 104.5,20.53 104.75,20.58 105,20.63 105.25,20.69 105.5,20.74 105.75,20.79 106,20.84 106.25,20.89 106.5,20.94 106.75,20.99 107,21.04 107.25,21.1 107.5,21.15 107.75,21.2 108,21.25 108.25,21.3 108.5,21.35 108.75,21.4 109,21.45 109.25,21.5 109.5,21.56 109.75,21.61 110,21.66 110.25,21.71 110.5,21.76 110.75,21.81 111,21.87 111.25,21.92 111.5,21.97 111.75,22.02 112,22.07 112.25,22.13 112.5,22.18 112.75,22.23 113,22.28 113.25,22.34 113.5,22.39 113.75,22.44 114,22.49 114.25,22.55 114.5,22.6 114.75,22.65 115,22.7 115.25,22.76 115.5,22.81 115.75,22.86 116,22.92 116.25,22.97 116.5,23.02 116.75,23.08 117,23.13 117.25,23.18 117.5,23.24 117.75,23.29 118,23.35 118.25,23.4 118.5,23.46 118.75,23.51 119,23.57 119.25,23.63 119.5,23.68 119.75,23.74 120,23.8 120.25,23.86 120.5,23.92 120.75,23.98 121,24.04 121.25,24.1 121.5,24.16 121.75,24.22 122,24.28 122.25,24.34 122.5,24.4 122.75,24.46 123,24.52 123.25,24.58 123.5,24.64 123.75,24.71 124,24.77 124.25,24.83 124.5,24.89 124.75,24.96 125,25.02 125.25,25.08 125.5,25.15 125.75,25.21 126,25.28 126.25,25.34 126.5,25.41 126.75,25.47 127,25.54 127.25,25.6 127.5,25.67 127.75,25.73 128,25.8 128.25,25.87 128.5,25.93 128.75,26 129,26.07 129.25,26.14 129.5,26.21 129.75,26.27 130,26.34 130.25,26.41 130.5,26.48 130.75,26.55 131,26.62 131.25,26.69 131.5,26.76 131.75,26.83 132,26.9 132.25,26.97 132.5,27.04 132.75,27.11 133,27.19 133.25,27.26 133.5,27.33 133.75,27.4 134,27.48 134.25,27.55 134.5,27.62 134.75,27.7 135,27.77 135.25,27.85 135.5,27.92 135.75,28 136,28.07 136.25,28.15 136.5,28.23 136.75,28.3 137,28.38 137.25,28.46 137.5,28.54 137.75,28.61 138,28.69 138.25,28.77 138.5,28.85 138.75,28.93 139,29.01 139.25,29.09 139.5,29.17 139.75,29.25 140,29.33 140.25,29.41 140.5,29.5 140.75,29.58 141,29.66 141.25,29.74 141.5,29.83 141.75,29.91 142,30 142.25,30.08 142.5,30.16 142.75,30.25 143,30.33 143.25,30.42 143.5,30.51 143.75,30.59 144,30.68 144.25,30.77 144.5,30.86 144.75,30.95 145,31.04 145.25,31.13 145.5,31.22 145.75,31.31 146,31.4 146.25,31.5 146.5,31.59 146.75,31.68 147,31.78 147.25,31.87 147.5,31.97 147.75,32.06 148,32.16 148.25,32.25 148.5,32.35 148.75,32.44 149,32.54 149.25,32.64 149.5,32.73 149.75,32.83 150,32.93 150.25,33.02 150.5,33.12 150.75,33.22 151,33.32 151.25,33.41 151.5,33.51 151.75,33.61 152,33.71 152.25,33.8 152.5,33.9 152.75,34 153,34.1 153.25,34.19 153.5,34.29 153.75,34.39 154,34.48 154.25,34.58 154.5,34.68 154.75,34.77 155,34.87 155.25,34.97 155.5,35.06 155.75,35.16 156,35.26 156.25,35.35 156.5,35.45 156.75,35.54 157,35.64 157.25,35.74 157.5,35.83 157.75,35.93 158,36.03 158.25,36.12 158.5,36.22 158.75,36.32 159,36.42 159.25,36.51 159.5,36.61 159.75,36.71 160,36.81 160.25,36.9 160.5,37 160.75,37.1 161,37.2 161.25,37.3 161.5,37.4 161.75,37.5 162,37.6 162.25,37.7 162.5,37.8 162.75,37.9 163,38 163.25,38.1 163.5,38.2 163.75,38.3 164,38.4 164.25,38.5 164.5,38.6 164.75,38.71 165,38.81 165.25,38.91 165.5,39.02 165.75,39.12 166,39.23 166.25,39.33 166.5,39.44 166.75,39.54 167,39.65 167.25,39.76 167.5,39.87 167.75,39.98 168,40.09 168.25,40.2 168.5,40.31 168.75,40.42 169,40.53 169.25,40.64 169.5,40.75 169.75,40.86 170,40.97 170.25,41.08 170.5,41.19 170.75,41.3 171,41.42 171.25,41.53 171.5,41.64 171.75,41.75 172,41.86 172.25,41.97 172.5,42.08 172.75,42.19 173,42.3 173.25,42.41 173.5,42.51 173.75,42.62 174,42.73 174.25,42.84 174.5,42.94 174.75,43.05 175,43.16 175.25,43.26 175.5,43.37 175.75,43.48 176,43.58 176.25,43.69 176.5,43.8 176.75,43.9 177,44.01 177.25,44.12 177.5,44.22 177.75,44.33 178,44.43 178.25,44.54 178.5,44.64 178.75,44.75 179,44.86 179.25,44.96 179.5,45.07 179.75,45.17 180,45.28 180.25,45.38 180.5,45.49 180.75,45.59 181,45.7 181.25,45.8 181.5,45.9 181.75,46.01 182,46.11 182.25,46.22 182.5,46.32 182.75,46.42 183,46.53 183.25,46.63 183.5,46.74 183.75,46.84 184,46.94 184.25,47.05 184.5,47.15 184.75,47.25 185,47.35 185.25,47.46 185.5,47.56 185.6,47.6 185.6,45.4 185.85,45.55 186.1,45.7 186.35,45.85 186.6,46 186.85,46.15 187.1,46.3 187.35,46.45 187.6,46.59 187.85,46.74 188.1,46.89 188.35,47.04 188.6,47.18 188.85,47.33 189.1,47.48 189.35,47.62 189.6,47.77 189.85,47.91 190.1,48.06 190.35,48.2 190.6,48.35 190.85,48.49 191.1,48.64 191.35,48.78 191.6,48.93 191.85,49.07 192.1,49.21 192.35,49.35 192.6,49.5 192.85,49.64 193.1,49.78 193.35,49.92 193.6,50.06 193.85,50.2 194.1,50.34 194.35,50.48 194.6,50.62 194.85,50.76 195.1,50.9 195.35,51.04 195.6,51.18 195.85,51.32 196.1,51.46 196.35,51.59 196.6,51.73 196.85,51.86 197.1,52 197.35,52.13 197.6,52.26 197.85,52.4 198.1,52.53 198.35,52.66 198.6,52.79 198.85,52.92 199.1,53.05 199.35,53.18 199.6,53.3 199.85,53.43 200.1,53.56 200.35,53.69 200.6,53.82 200.85,53.94 201.1,54.07 201.35,54.2 201.6,54.33 201.85,54.45 202.1,54.58 202.35,54.71 202.6,54.84 202.85,54.97 203.1,55.09 203.35,55.22 203.6,55.35 203.85,55.48 204.1,55.61 204.35,55.74 204.6,55.88 204.85,56.01 205.1,56.14 205.35,56.27 205.6,56.41 205.85,56.54 206.1,56.68 206.35,56.81 206.6,56.95 206.85,57.09 207.1,57.23 207.35,57.37 207.6,57.51 207.85,57.66 208.1,57.8 208.35,57.94 208.6,58.09 208.85,58.23 209.1,58.38 209.35,58.52 209.6,58.67 209.85,58.82 210.1,58.97 210.35,59.12 210.6,59.26 210.85,59.41 211.1,59.56 211.35,59.72 211.6,59.87 211.85,60.02 212.1,60.17 212.35,60.32 212.6,60.48 212.85,60.63 213.1,60.79 213.35,60.94 213.6,61.1 213.85,61.25 214.1,61.41 214.35,61.56 214.6,61.72 214.85,61.88 215.1,62.04 215.35,62.19 215.6,62.35 215.85,62.51 216.1,62.67 216.35,62.83 216.6,62.99 216.85,63.15 217.1,63.31 217.35,63.47 217.6,63.64 217.85,63.8 218.1,63.96 218.35,64.12 218.6,64.29 218.85,64.45 219.1,64.62 219.35,64.78 219.6,64.95 219.85,65.12 220.1,65.29 220.35,65.46 220.6,65.63 220.85,65.8 221.1,65.97 221.35,66.14 221.6,66.31 221.85,66.48 222.1,66.66 222.35,66.83 222.6,67 222.85,67.18 223.1,67.35 223.35,67.52 223.6,67.7 223.85,67.87 224.1,68.05 224.35,68.22 224.6,68.4 224.85,68.58 225.1,68.75 225.35,68.93 225.6,69.12 225.85,69.3 226.1,69.48 226.35,69.67 226.6,69.85 226.85,70.04 227.1,70.22 227.35,70.41 227.6,70.59 227.85,70.77 228.1,70.96 228.35,71.14 228.6,71.32 228.85,71.5 229.1,71.68 229.35,71.85 229.6,72.03 229.85,72.2 230.1,72.37 230.35,72.53 230.6,72.7 230.85,72.86 231.1,73.02 231.35,73.18 231.6,73.34 231.85,73.5 232.1,73.66 232.35,73.81 232.6,73.97 232.85,74.12 233.1,74.28 233.35,74.43 233.6,74.58 233.85,74.74 234.1,74.89 234.35,75.05 234.6,75.2 234.85,75.36 235.1,75.52 235.35,75.68 235.6,75.84 235.85,76 236.1,76.16 236.35,76.32 236.6,76.48 236.85,76.64 237.1,76.8 237.35,76.97 237.6,77.13 237.85,77.29 238.1,77.45 238.35,77.62 238.6,77.78 238.85,77.94 239.1,78.11 239.35,78.27 239.6,78.43 239.85,78.6 240.1,78.76 240.35,78.93 240.6,79.09 240.85,79.25 241.1,79.42 241.35,79.58 241.6,79.75 241.85,79.91 242.1,80.08 242.35,80.24 242.6,80.41 242.85,80.58 243.1,80.74 243.35,80.91 243.6,81.07 243.85,81.24 244.1,81.4 244.35,81.57 244.6,81.74 244.85,81.9 245.1,82.07 245.35,82.24 245.6,82.4 245.85,82.57 246.1,82.73 246.35,82.9 246.6,83.07 246.85,83.23 247.1,83.4 247.35,83.57 247.6,83.73 247.85,83.9 248.1,84.07 248.35,84.23 248.6,84.4 248.85,84.57 249.1,84.74 249.35,84.9 249.6,85.07 249.85,85.24 250.1,85.41 250.35,85.57 250.6,85.74 250.85,85.91 251.1,86.08 251.35,86.25 251.6,86.41 251.85,86.58 252.1,86.75 252.35,86.92 252.6,87.09 252.85,87.26 253.1,87.43 253.35,87.59 253.6,87.76 253.85,87.93 254.1,88.1 254.35,88.27 254.6,88.44 254.85,88.61 255.1,88.78 255.35,88.95 255.6,89.12 255.85,89.29 256.1,89.46 256.35,89.63 256.6,89.8 256.6,89.8 256.6,84 256.85,84.14 257.1,84.28 257.35,84.41 257.6,84.55 257.85,84.69 258.1,84.83 258.35,84.98 258.6,85.12 258.85,85.26 259.1,85.4 259.35,85.55 259.6,85.69 259.85,85.84 260.1,85.99 260.35,86.13 260.6,86.28 260.85,86.43 261.1,86.58 261.35,86.73 261.6,86.88 261.85,87.04 262.1,87.19 262.35,87.34 262.6,87.5 262.85,87.65 263.1,87.81 263.35,87.97 263.6,88.13 263.85,88.29 264.1,88.45 264.35,88.61 264.6,88.77 264.85,88.94 265.1,89.1 265.35,89.27 265.6,89.44 265.85,89.61 266.1,89.78 266.35,89.95 266.6,90.12 266.85,90.29 267.1,90.46 267.35,90.63 267.6,90.81 267.85,90.98 268.1,91.16 268.35,91.33 268.6,91.51 268.85,91.69 269.1,91.86 269.35,92.04 269.6,92.22 269.85,92.4 270.1,92.57 270.35,92.75 270.6,92.93 270.85,93.11 271.1,93.29 271.35,93.47 271.6,93.65 271.85,93.83 272.1,94.01 272.35,94.19 272.6,94.37 272.85,94.54 273.1,94.72 273.35,94.9 273.6,95.08 273.85,95.26 274.1,95.43 274.35,95.61 274.6,95.79 274.85,95.96 275.1,96.14 275.35,96.32 275.6,96.49 275.85,96.67 276.1,96.84 276.35,97.02 276.6,97.19 276.85,97.37 277.1,97.54 277.35,97.72 277.6,97.89 277.85,98.07 278.1,98.25 278.35,98.42 278.6,98.6 278.85,98.77 279.1,98.95 279.35,99.12 279.6,99.3 279.85,99.47 280.1,99.65 280.35,99.83 280.6,100 280.85,100.18 281.1,100.35 281.35,100.53 281.6,100.71 281.85,100.89 282.1,101.06 282.35,101.24 282.6,101.42 282.85,101.6 283.1,101.77 283.35,101.95 283.6,102.13 283.85,102.31 284.1,102.49 284.35,102.67 284.6,102.85 284.85,103.03 285.1,103.21 285.35,103.39 285.6,103.58 285.85,103.76 286.1,103.94 286.35,104.13 286.6,104.31 286.85,104.49 287.1,104.68 287.35,104.86 287.6,105.05 287.85,105.23 288.1,105.42 288.35,105.61 288.6,105.8 288.85,105.98 289.1,106.17 289.35,106.36 289.6,106.55 289.85,106.74 290.1,106.93 290.35,107.12 290.6,107.31 290.85,107.5 291.1,107.7 291.35,107.89 291.6,108.08 291.85,108.27 292.1,108.47 292.35,108.66 292.6,108.85 292.85,109.05 293.1,109.24 293.35,109.44 293.6,109.63 293.85,109.83 294.1,110.02 294.35,110.22 294.6,110.41 294.85,110.61 295.1,110.8 295.35,111 295.6,111.2 295.85,111.39 296.1,111.59 296.35,111.79 296.6,111.98 296.85,112.18 297.1,112.38 297.35,112.58 297.6,112.77 297.85,112.97 298.1,113.17 298.35,113.37 298.6,113.56 298.85,113.76 299.1,113.96 299.35,114.16 299.6,114.35 299.85,114.55 300.1,114.75 300.35,114.95 300.6,115.15 300.85,115.35 301.1,115.55 301.35,115.75 301.6,115.95 301.85,116.15 302.1,116.35 302.35,116.55 302.6,116.75 302.85,116.96 303.1,117.16 303.35,117.36 303.6,117.56 303.85,117.76 304.1,117.97 304.35,118.17 304.6,118.37 304.85,118.57 305.1,118.78 305.35,118.98 305.6,119.18 305.85,119.39 306.1,119.59 306.35,119.79 306.6,119.99 306.85,120.2 307.1,120.4 307.35,120.6 307.6,120.81 307.85,121.01 308.1,121.21 308.35,121.42 308.6,121.62 308.85,121.82 309.1,122.03 309.35,122.23 309.6,122.43 309.85,122.64 310.1,122.84 310.35,123.04 310.6,123.24 310.85,123.44 311.1,123.65 311.35,123.85 311.6,124.05 311.85,124.25 312.1,124.45 312.35,124.65 312.6,124.85 312.85,125.05 313.1,125.25 313.35,125.45 313.6,125.64 313.85,125.84 314.1,126.04 314.35,126.24 314.6,126.44 314.85,126.64 315.1,126.85 315.35,127.05 315.6,127.25 315.85,127.45 316.1,127.65 316.35,127.86 316.6,128.06 316.85,128.26 317.1,128.47 317.35,128.68 317.6,128.88 317.85,129.09 318.1,129.3 318.35,129.51 318.6,129.72 318.85,129.93 319.1,130.14 319.35,130.36 319.6,130.57 319.85,130.79 320.1,131.01 320.35,131.23 320.6,131.45 320.85,131.67 321.1,131.89 321.35,132.11 321.6,132.34 321.85,132.56 322.1,132.79 322.35,133.02 322.6,133.25 322.85,133.47 323.1,133.7 323.35,133.93 323.6,134.16 323.85,134.39 324.1,134.62 324.35,134.85 324.6,135.08 324.85,135.32 325.1,135.55 325.35,135.78 325.6,136.01 325.85,136.24 326.1,136.47 326.35,136.7 326.6,136.93 326.85,137.15 327.1,137.38 327.35,137.61 327.6,137.84 327.85,138.07 328.1,138.29 328.35,138.52 328.6,138.75 328.85,138.98 329.1,139.21 329.35,139.43 329.6,139.66 329.85,139.89 330.1,140.12 330.35,140.35 330.6,140.58 330.85,140.8 331.1,141.03 331.35,141.26 331.6,141.49 331.85,141.72 332.1,141.95 332.35,142.18 332.6,142.41 332.85,142.65 333.1,142.88 333.35,143.11 333.6,143.34 333.85,143.58 334.1,143.81 334.35,144.05 334.6,144.28 334.85,144.52 335.1,144.75 335.35,144.98 335.6,145.22 335.85,145.45 336.1,145.68 336.35,145.92 336.6,146.15 336.85,146.38 337.1,146.62 337.35,146.85 337.6,147.08 337.85,147.32 338.1,147.55 338.35,147.79 338.6,148.02 338.85,148.26 339.1,148.49 339.35,148.73 339.6,148.96 339.85,149.2 340.1,149.44 340.35,149.67 340.6,149.91 340.85,150.15 341.1,150.39 341.35,150.63 341.6,150.88 341.85,151.12 342.1,151.36 342.35,151.61 342.6,151.85 342.85,152.1 343.1,152.35 343.35,152.6 343.6,152.85 343.85,153.1 344.1,153.35 344.35,153.6 344.6,153.86 344.85,154.12 345.1,154.37 345.35,154.63 345.6,154.9 345.85,155.16 346.1,155.43 346.35,155.7 346.6,155.98 346.85,156.26 347.1,156.55 347.35,156.83 347.5,157" fill="none" stroke="#ff0000" stroke-width="1.5" />
<line x1="51.4" y1="16.37" x2="51.4" y2="47" stroke="#ff0000" stroke-width="1.5" />
<line x1="54.3" y1="15.34" x2="54.3" y2="26" stroke="#ff0000" stroke-width="1.3" />
<line x1="102.9" y1="20.2" x2="102.9" y2="23.6" stroke="#ff0000" stroke-width="1.2" />
<line x1="132" y1="26.9" x2="132" y2="29.6" stroke="#ff0000" stroke-width="1.2" />
<line x1="173.7" y1="42.6" x2="173.7" y2="49.4" stroke="#ff0000" stroke-width="1.3" />
<line x1="233.4" y1="74.46" x2="233.4" y2="87" stroke="#ff0000" stroke-width="1.3" />
<line x1="326.9" y1="137.2" x2="326.9" y2="143.7" stroke="#ff0000" stroke-width="1.2" />
</g>
<g id="left-ratio">
<polyline points="46.6,219.76 46.8,215.73 47,219 47.2,215.01 47.4,211.04 47.6,207.96 47.8,209.05 48,203.14 48.2,208.17 48.4,207.9 48.6,208.61 48.8,205.3 49,197.73 49.2,201.23 49.4,203.48 49.6,194.47 49.8,197.82 50,201.51 50.2,199.21 50.4,192.37 50.6,196.31 50.8,197.31 51,203.07 51.2,195.24 51.4,193.71 51.6,197.28 51.8,197.52 52,198.23 52.2,200.93 52.4,196.1 52.6,191.97 52.8,196.34 53,196.21 53.2,199.24 53.4,198.95 53.6,194.33 53.8,198.95 54,199.74 54.2,196.36 54.4,199.79 54.6,197.64 54.8,197.79 55,196.99 55.2,199.79 55.4,205.66 55.6,198.41 55.8,194.72 56,197.4 56.2,196.59 56.4,199.12 56.6,198.03 56.8,205 57,200.52 57.2,203.35 57.4,197.13 57.6,198.45 57.8,203.91 58,195.29 58.2,199.6 58.4,195.92 58.6,202.86 58.8,196.54 59,199.05 59.2,199.43 59.4,196.47 59.6,204.94 59.8,199.79 60,203.38 60.2,199.01 60.4,197.69 60.6,200.94 60.8,200.99 61,206 61.2,198.98 61.4,198.23 61.6,199.85 61.8,201.69 62,202.23 62.2,200.04 62.4,200.71 62.6,202.15 62.8,203 63,200.34 63.2,201.47 63.4,197.09 63.6,199.82 63.8,201.89 64,201.24 64.2,200.99 64.4,203.58 64.6,200.84 64.8,199.68 65,201.56 65.2,201.56 65.4,199.61 65.6,202.7 65.8,203.72 66,200.41 66.2,200 66.4,201.14 66.6,203.06 66.8,200.45 67,200.21 67.2,200.41 67.4,201.61 67.6,201.57 67.8,201.02 68,203 68.2,204.51 68.4,200.43 68.6,202.76 68.8,201.66 69,205.59 69.2,200 69.4,200.77 69.6,201.42 69.8,199.21 70,200.97 70.2,202.3 70.4,199.19 70.6,201.45 70.8,203.84 71,200.41 71.2,199.98 71.4,197.62 71.6,201.11 71.8,198.92 72,202.07 72.2,203.64 72.4,202.07 72.6,200.13 72.8,202.21 73,200.59 73.2,199.64 73.4,200.55 73.6,201.61 73.8,200.74 74,202.03 74.2,204.36 74.4,202.15 74.6,202.36 74.8,200.31 75,203.19 75.2,201.78 75.4,202.72 75.6,200.15 75.8,201.6 76,197.88 76.2,200.75 76.4,200.05 76.6,199.81 76.8,203.76 77,199.05 77.2,201.05 77.4,201.06 77.6,202.03 77.8,202.71 78,198.95 78.2,200.48 78.4,200.24 78.6,202.26 78.8,202.61 79,200.66 79.2,200.47 79.4,199.79 79.6,201.78 79.8,203.65 80,201.79 80.2,200.24 80.4,200.05 80.6,200.22 80.8,198.87 81,203.75 81.2,201.35 81.4,200.77 81.6,204.47 81.8,201.56 82,203.38 82.2,201.64 82.4,202.83 82.6,201.35 82.8,200.72 83,201.84 83.2,202.28 83.4,202.81 83.6,201.53 83.8,200.89 84,200.71 84.2,201.69 84.4,200.54 84.6,200.77 84.8,202.03 85,202.09 85.2,201.97 85.4,200.17 85.6,199.17 85.8,201.64 86,201.41 86.2,200.7 86.4,201.54 86.6,202.47 86.8,200.96 87,201.82 87.2,199.84 87.4,200.93 87.6,200.05 87.8,199.16 88,201.87 88.2,197.16 88.4,201.16 88.6,202.37 88.8,201.82 89,199.01 89.2,201.59 89.4,198.61 89.6,199.97 89.8,203.31 90,201.47 90.2,202.94 90.4,199.66 90.6,198.25 90.8,200.16 91,203.09 91.2,202.57 91.4,202.78 91.6,201.03 91.8,201.12 92,200.95 92.2,205.42 92.4,201.37 92.6,203.79 92.8,201 93,203.24 93.2,199.69 93.4,200.53 93.6,201.77 93.8,200.43 94,200.67 94.2,201.03 94.4,200.48 94.6,203.5 94.8,202.9 95,199.25 95.2,203.74 95.4,201.21 95.6,201.22 95.8,201.03 96,202.53 96.2,202.3 96.4,200.52 96.6,201.35 96.8,199.39 97,203.95 97.2,200.05 97.4,200 97.6,200.25 97.8,201.48 98,202.36 98.2,200.77 98.4,201.32 98.6,200.8 98.8,203.15 99,201.62 99.2,198.84 99.4,203.42 99.6,201.78 99.8,204.07 100,200.41 100.2,200.58 100.4,201.04 100.6,199.27 100.8,200.76 101,203.11 101.2,202.31 101.4,197.83 101.6,203.16 101.8,201.82 102,202.48 102.2,201.36 102.4,201.58 102.6,201.39 102.8,201.38 103,199.81 103.2,202.81 103.4,201.62 103.6,201.86 103.8,201.8 104,200.87 104.2,201.22 104.4,199.38 104.6,201.69 104.8,201.71 105,200.96 105.2,198.83 105.4,203.23 105.6,201.06 105.8,201.28 106,200.86 106.2,200.45 106.4,200.73 106.6,199.71 106.8,200.47 107,204.28 107.2,203.01 107.4,204.2 107.6,200.42 107.8,198.59 108,199.35 108.2,197.51 108.4,202.88 108.6,203.08 108.8,201.47 109,201.86 109.2,201.85 109.4,201.15 109.6,202.37 109.8,199.85 110,200.68 110.2,201.1 110.4,198.86 110.6,199.86 110.8,201.95 111,201.82 111.2,197.76 111.4,202.64 111.6,201.82 111.8,202.43 112,201.22 112.2,202.16 112.4,199.45 112.6,201.01 112.8,199.78 113,200.57 113.2,203.01 113.4,203.66 113.6,201.37 113.8,200.68 114,202.44 114.2,201.98 114.4,204.08 114.6,202.23 114.8,197.95 115,201.41 115.2,200.86 115.4,200.16 115.6,201.52 115.8,201.4 116,200.81 116.2,203.49 116.4,201.86 116.6,201.91 116.8,201.55 117,203.08 117.2,199.72 117.4,203.06 117.6,200.98 117.8,203.47 118,203.37 118.2,202.04 118.4,200.67 118.6,201.73 118.8,201.84 119,199.23 119.2,200.86 119.4,200.32 119.6,203.3 119.8,203.77 120,200.28 120.2,200.57 120.4,199.43 120.6,201.7 120.8,202.49 121,203.91 121.2,199.48 121.4,202.66 121.6,201.11 121.8,200.29 122,200.83 122.2,200.23 122.4,201.97 122.6,201.33 122.8,203.03 123,200.57 123.2,198.64 123.4,199.9 123.6,201.81 123.8,199.2 124,200.24 124.2,202.09 124.4,199.35 124.6,202.53 124.8,201.81 125,200.48 125.2,201.26 125.4,200.6 125.6,200.75 125.8,200.85 126,201.35 126.2,201.19 126.4,200.25 126.6,199.91 126.8,204.29 127,199.74 127.2,201.1 127.4,203.04 127.6,202.74 127.8,200.28 128,204.2 128.2,203.85 128.4,200.87 128.6,199.55 128.8,202.23 129,201.06 129.2,200.9 129.4,200.16 129.6,200.46 129.8,201.56 130,202.61 130.2,198.35 130.4,197.91 130.6,202.71 130.8,200.11 131,202.31 131.2,201.48 131.4,203.11 131.6,202.63 131.8,200.93 132,201.09 132.2,201.78 132.4,202.39 132.6,200.42 132.8,199.15 133,201.47 133.2,201.26 133.4,201.1 133.6,199.89 133.8,202.2 134,198.85 134.2,200.63 134.4,203.18 134.6,199.73 134.8,201.93 135,201.98 135.2,201.94 135.4,198.93 135.6,202.78 135.8,201.54 136,202.04 136.2,201.77 136.4,201.42 136.6,203.09 136.8,203.4 137,198.67 137.2,200.22 137.4,201.1 137.6,198.22 137.8,203.44 138,200.23 138.2,202.15 138.4,201.66 138.6,201.03 138.8,199.9 139,200.83 139.2,201.48 139.4,202.47 139.6,201.05 139.8,200.78 140,200.99 140.2,203.22 140.4,201.76 140.6,200.37 140.8,199.52 141,200.74 141.2,200.02 141.4,200.72 141.6,203.27 141.8,202.31 142,201.64 142.2,201.89 142.4,203.78 142.6,199.66 142.8,201.93 143,201 143.2,201.49 143.4,201.39 143.6,200.82 143.8,202.05 144,198.17 144.2,201.68 144.4,202.24 144.6,199.89 144.8,199.85 145,203.99 145.2,199.96 145.4,200.7 145.6,200.13 145.8,200.36 146,200.27 146.2,198.2 146.4,204.64 146.6,200.18 146.8,201.76 147,201.09 147.2,203.14 147.4,202.19 147.6,202.81 147.8,202.86 148,202.39 148.2,201.23 148.4,202.48 148.6,198.89 148.8,202.44 149,202.17 149.2,201.6 149.4,199.25 149.6,203.06 149.8,200.18 150,202.04 150.2,198.46 150.4,200.87 150.6,200.17 150.8,199.96 151,200.12 151.2,203.85 151.4,201.06 151.6,201.65 151.8,204.49 152,198.81 152.2,203.58 152.4,200.49 152.6,200.06 152.8,200.41 153,198.03 153.2,198.47 153.4,199.13 153.6,200.1 153.8,202.32 154,202.99 154.2,200.4 154.4,201.73 154.6,201.85 154.8,200.63 155,201.47 155.2,199.93 155.4,202.07 155.6,200.58 155.8,201.07 156,201.47 156.2,201.25 156.4,199.54 156.6,198.25 156.8,200.79 157,199.76 157.2,199.81 157.4,200.67 157.6,199.39 157.8,201.8 158,201.69 158.2,198.92 158.4,201.61 158.6,198.73 158.8,202.36 159,202.13 159.2,200.74 159.4,202.73 159.6,203.03 159.8,201.72 160,196.52 160.2,200.99 160.4,201.14 160.6,202.54 160.8,198.34 161,202.3 161.2,201.46 161.4,201.58 161.6,197.6 161.8,198.47 162,203.34 162.2,202.59 162.4,200.33 162.6,203.24 162.8,201.17 163,199.44 163.2,196.45 163.4,203.07 163.6,200.09 163.8,201.05 164,195.71 164.2,198.98 164.4,201.18 164.6,199.72 164.8,198.38 165,197.34 165.2,200.89 165.4,199.32 165.6,199.38 165.8,199.5 166,198.52 166.2,199.36 166.4,198.57 166.6,200.3 166.8,196.48 167,197.22 167.2,200.25 167.4,199.72 167.6,200.58 167.8,205.6 168,202.16 168.2,203.18 168.4,201.23 168.6,199.76 168.8,197.9 169,194.98 169.2,196.18 169.4,193.65 169.6,196.95 169.8,195.66 170,197.34 170.2,199.92 170.4,198.85 170.6,202.39 170.8,202.42 171,202.75 171.2,202.3 171.4,200.66 171.6,198.51 171.8,201.16 172,199.23 172.2,199.35 172.4,201.02 172.6,196.88 172.8,195.39 173,200.76 173.2,204.77 173.4,202.95 173.6,210.23 173.8,195.96 174,198.05 174.2,193.46 174.4,197.43 174.6,205.05 174.8,204.28 175,196.97 175.2,198.89 175.4,197.49 175.6,196.03 175.8,199.09 176,198.84 176.2,200.01 176.4,200.47 176.6,201.68 176.8,203.55 177,199.5 177.2,199.12 177.4,199.72 177.6,200.93 177.8,199.32 178,196.91 178.2,198.21 178.4,201.73 178.6,196.77 178.8,201.92 179,195.73 179.2,201.34 179.4,201.28 179.6,199.02 179.8,199.54 180,198.95 180.2,204.32 180.4,198.35 180.6,197.52 180.8,200.63 181,202.68 181.2,200.5 181.4,199.13 181.6,202.42 181.8,197.38 182,197.31 182.2,196.01 182.4,202.92 182.6,193.24 182.8,195.84 183,200.18 183.2,200.63 183.4,204.39 183.6,200.66 183.8,198.04 184,203.37 184.2,202.46 184.4,202.72 184.6,202.45 184.8,200.86 185,195.26 185.2,196.27 185.4,205.51 185.6,199.55 185.8,193.25 186,199.61 186.2,202.77 186.4,200.8 186.6,199.48 186.8,191.37 187,199.65 187.2,198.97 187.4,205.27 187.6,199.47 187.8,199.28 188,197.93 188.2,199.04 188.4,200.42 188.6,197.7 188.8,196.41 189,195.19 189.2,199.89 189.4,198.26 189.6,198.39 189.8,194.23 190,196.69 190.2,192.94 190.4,202.81 190.6,203.6 190.8,200.93 191,199.12 191.2,201.13 191.4,194.38 191.6,194.93 191.8,203.61 192,195.94 192.2,199.36 192.4,197.22 192.6,191.09 192.8,197.22 193,202.4 193.2,204.1 193.4,190.83 193.6,194.13 193.8,197.57 194,203.02 194.2,203.82 194.4,205.09 194.6,205.43 194.8,198.13 195,196.18 195.2,202.81 195.4,198.74 195.6,199.73 195.8,198.39 196,198.28 196.2,202.8 196.4,196.15 196.6,193.6 196.8,197.23 197,200 197.2,198.59 197.4,199.17 197.6,192.77 197.8,196.62 198,203.38 198.2,199.07 198.4,197.31 198.6,203.55 198.8,197.71 199,202.26 199.2,200.4 199.4,201.06 199.6,203.24 199.8,207.44 200,204.07 200.2,196.73 200.4,195.83 200.6,198.54 200.8,199.07 201,202.08 201.2,199.78 201.4,200.37 201.6,193.8 201.8,199.51 202,201.52 202.2,205.58 202.4,202.42 202.6,200.02 202.8,195.62 203,199.68 203.2,199.73 203.4,199.22 203.6,200.25 203.8,201.47 204,201.26 204.2,207.43 204.4,196.35 204.6,194.31 204.8,201.09 205,195.49 205.2,199.02 205.4,199.46 205.6,196.95 205.8,202.49 206,201.97 206.2,200.24 206.4,201.85 206.6,202.76 206.8,198.7 207,201.82 207.2,200.25 207.4,199.76 207.6,198.17 207.8,205.79 208,200.91 208.2,194.89 208.4,201.49 208.6,190.99 208.8,200.72 209,202.44 209.2,204.69 209.4,200.52 209.6,197.39 209.8,206.5 210,203.39 210.2,204.28 210.4,198.96 210.6,202.01 210.8,193.77 211,201.48 211.2,192.6 211.4,196.31 211.6,194.8 211.8,203.79 212,203.03 212.2,197.84 212.4,204.12 212.6,200.14 212.8,193.05 213,198.54 213.2,193.95 213.4,200.14 213.6,201.13 213.8,197.35 214,202.68 214.2,203.52 214.4,196.84 214.6,201.87 214.8,199.58 215,198.96 215.2,205.73 215.4,197.52 215.6,198.72 215.8,199.73 216,201.93 216.2,202.63 216.4,196.74 216.6,204.69 216.8,206.28 217,206.91 217.2,200.58 217.4,198.27 217.6,196.35 217.8,201.22 218,199.78 218.2,199.84 218.4,197.91 218.6,192.46 218.8,199.07 219,199.47 219.2,198.81 219.4,195.21 219.6,199.14 219.8,199.58 220,196.23 220.2,202.32 220.4,199.99 220.6,200.58 220.8,201.48 221,199.27 221.2,199.87 221.4,201.97 221.6,202.76 221.8,203.22 222,199.53 222.2,202.81 222.4,204.1 222.6,195.38 222.8,198.8 223,200.12 223.2,200.22 223.4,206.37 223.6,204.28 223.8,199.77 224,199.85 224.2,195.47 224.4,196.89 224.6,204.86 224.8,194.38 225,202.43 225.2,197.88 225.4,199.25 225.6,199.96 225.8,206.57 226,201.48 226.2,202.07 226.4,203.82 226.6,192.77 226.8,206.75 227,194.65 227.2,197.92 227.4,202.74 227.6,196.2 227.8,194.44 228,204.39 228.2,199.35 228.4,203.64 228.6,202.11 228.8,199.79 229,206.25 229.2,199.59 229.4,207.37 229.6,197.44 229.8,197.09 230,198.17 230.2,201.32 230.4,196.65 230.6,198.15 230.8,205.45 231,201.18 231.2,204.5 231.4,201.83 231.6,198.59 231.8,197.98 232,201.23 232.2,200.85 232.4,198.84 232.6,198.72 232.8,205.56 233,204.18 233.2,201.67 233.4,199.5 233.6,199.23 233.8,207.47 234,198.64 234.2,208.51 234.4,198.44 234.6,195.63 234.8,207.54 235,200.31 235.2,205.87 235.4,202.19 235.6,199.89 235.8,203.9 236,199.72 236.2,202.19 236.4,200.24 236.6,194.76 236.8,202.07 237,198.93 237.2,200.25 237.4,202.13 237.6,195.94 237.8,202.57 238,202.71 238.2,207.25 238.4,203.53 238.6,201.91 238.8,198.57 239,200.68 239.2,196.01 239.4,202.13 239.6,200.09 239.8,199.54 240,200.82 240.2,202.31 240.4,201.68 240.6,196.84 240.8,205.3 241,200.96 241.2,202 241.4,200.92 241.6,197.76 241.8,201.82 242,199.64 242.2,198.12 242.4,201.41 242.6,203.55 242.8,203.08 243,201.7 243.2,199.02 243.4,200 243.6,200.67 243.8,196.37 244,203.86 244.2,201.49 244.4,196.94 244.6,206.23 244.8,207.7 245,196.96 245.2,200.7 245.4,198.52 245.6,203.9 245.8,196.77 246,203.02 246.2,202.68 246.4,205.12 246.6,195.12 246.8,198.9 247,200.79 247.2,204.69 247.4,201.82 247.6,204.04 247.8,203.08 248,198.6 248.2,201.22 248.4,200.3 248.6,200.6 248.8,198.62 249,204.2 249.2,203.11 249.4,196.17 249.6,205.37 249.8,201.46 250,198.82 250.2,208.18 250.4,204.5 250.6,206.15 250.8,204.94 251,205.68 251.2,200.21 251.4,209.14 251.6,204.59 251.8,207.5 252,207.59 252.2,204.89 252.4,204.18 252.6,208.08 252.8,213.06 253,206.88 253.2,207.3 253.4,209.86 253.6,207.86 253.8,214.4 254,211.81 254.2,218.87 254.4,211.49 254.6,217.49 254.8,206.54 255,207.67 255.2,201.78 255.4,202.43 255.6,201.08 255.8,202.57 256,203.48 256.2,198.02 256.4,194 256.6,198.76 256.8,198.13 257,197.01 257.2,201.45 257.4,202.31 257.6,196.26 257.8,196.4 258,190.28 258.2,197.02 258.4,202.09 258.6,196.39 258.8,202.67 259,202.07 259.2,202.06 259.4,202.29 259.6,200.09 259.8,203.95 260,204.25 260.2,202.06 260.4,200.94 260.6,205.58 260.8,206.42 261,199.47 261.2,204.56 261.4,202.13 261.6,209.93 261.8,201.2 262,200.37 262.2,199.37 262.4,205.5 262.6,198.87 262.8,204.58 263,200.67 263.2,206.94 263.4,207.71 263.6,206.25 263.8,195.74 264,197.39 264.2,193.13 264.4,211.35 264.6,200.29 264.8,200.9 265,202.46 265.2,204.37 265.4,201.13 265.6,202.5 265.8,202.23 266,197.73 266.2,208.54 266.4,208.28 266.6,202.33 266.8,201.76 267,208.8 267.2,210.79 267.4,202.39 267.6,204.32 267.8,200.74 268,203.36 268.2,193.12 268.4,194.19 268.6,203.77 268.8,201.48 269,203.57 269.2,202.42 269.4,204.3 269.6,203.05 269.8,201.51 270,203.64 270.2,199.72 270.4,207.22 270.6,198.58 270.8,200.66 271,205.38 271.2,200.76 271.4,205.59 271.6,207.42 271.8,204.96 272,200.47 272.2,209.08 272.4,203.76 272.6,198.51 272.8,209.5 273,202.74 273.2,204.34 273.4,205.39 273.6,200.13 273.8,205.38 274,197.39 274.2,198.35 274.4,200.54 274.6,210.19 274.8,204.26 275,206.37 275.2,200.36 275.4,204 275.6,194 275.8,201.01 276,203.62 276.2,199.81 276.4,194.43 276.6,195.72 276.8,204.35 277,207.05 277.2,200.48 277.4,207.99 277.6,196.9 277.8,204.24 278,203 278.2,205.86 278.4,196.04 278.6,205.64 278.8,202.21 279,198.43 279.2,199.97 279.4,200.87 279.6,202.79 279.8,198.37 280,198.3 280.2,201.97 280.4,201.47 280.6,203.53 280.8,205.1 281,194.3 281.2,201.16 281.4,202.41 281.6,201.65 281.8,197.23 282,204.22 282.2,208.15 282.4,200.7 282.6,198.23 282.8,204.4 283,201.39 283.2,201.77 283.4,202.18 283.6,199.46 283.8,201.2 284,198.36 284.2,193.39 284.4,205.35 284.6,202.34 284.8,200.89 285,206.56 285.2,200.53 285.4,205.64 285.6,204.44 285.8,199.95 286,196.04 286.2,203.01 286.4,201.99 286.6,205.16 286.8,194.78 287,200.54 287.2,201.98 287.4,202.41 287.6,201.49 287.8,202.25 288,191.5 288.2,199.69 288.4,198.22 288.6,194.62 288.8,201.4 289,199.31 289.2,196.15 289.4,195.16 289.6,202.21 289.8,190.41 290,200.47 290.2,196.22 290.4,201.39 290.6,208.77 290.8,205.05 291,200.56 291.2,207.06 291.4,208.63 291.6,204.93 291.8,208.52 292,201.69 292.2,203.44 292.4,200.43 292.6,199.18 292.8,200.87 293,197.49 293.2,200.34 293.4,210.05 293.6,203.74 293.8,199.92 294,208 294.2,206.83 294.4,196.18 294.6,197.73 294.8,208.03 295,201.09 295.2,201.45 295.4,198.41 295.6,195.92 295.8,205.54 296,197.16 296.2,202.93 296.4,208.57 296.6,202.9 296.8,199.68 297,203.29 297.2,202.97 297.4,198.58 297.6,201.69 297.8,195.3 298,192.93 298.2,198.12 298.4,192.87 298.6,197.72 298.8,199.91 299,201.23 299.2,208.53 299.4,196.36 299.6,198.38 299.8,198.34 300,195.92 300.2,209.21 300.4,196.87 300.6,199.21 300.8,199.44 301,210.98 301.2,198.8 301.4,196.73 301.6,205.62 301.8,197.14 302,190.64 302.2,205.11 302.4,204.2 302.6,193.55 302.8,194.36 303,199.75 303.2,195.49 303.4,192.95 303.6,194.37 303.8,207.92 304,204.66 304.2,194.83 304.4,198.97 304.6,200.13 304.8,198.05 305,199.41 305.2,207.64 305.4,196.56 305.6,195.9 305.8,199.23 306,196.27 306.2,197.31 306.4,197.29 306.6,194.65 306.8,204.97 307,196.13 307.2,205.47 307.4,195.18 307.6,194.84 307.8,200.33 308,197.87 308.2,203.12 308.4,202.29 308.6,210.13 308.8,184.89 309,193.99 309.2,198.76 309.4,197.91 309.6,198.66 309.8,211.42 310,187.91 310.2,202.15 310.4,197.7 310.6,198.84 310.8,204.07 311,198.46 311.2,202.61 311.4,205.07 311.6,204.57 311.8,189.44 312,195.4 312.2,192.14 312.4,194.67 312.6,197.58 312.8,208.86 313,195.27 313.2,196.95 313.4,197.57 313.6,205.91 313.8,195.55 314,200.61 314.2,202.45 314.4,201.17 314.6,187.99 314.8,191.58 315,201.59 315.2,189.1 315.4,196.89 315.6,190.32 315.8,199.99 316,197.68 316.2,189.91 316.4,196.55 316.6,192.33 316.8,194.89 317,204.18 317.2,199.15 317.4,199.42 317.6,205.6 317.8,198.17 318,204.4 318.2,199.64 318.4,198.96 318.6,195.64 318.8,193.17 319,192.1 319.2,192.6 319.4,200.17 319.6,199.56 319.8,193 320,203.82 320.2,194 320.4,195.27 320.6,190.04 320.8,192.85 321,201.89 321.2,199.58 321.4,193.85 321.6,203.79 321.8,196.83 322,197.58 322.2,202.81 322.4,199.6 322.6,195.3 322.8,191.35 323,204.03 323.2,184.22 323.4,193.61 323.6,187.43 323.8,193.73 324,201.57 324.2,195.06 324.4,194.52 324.6,196.57 324.8,207.68 325,204.42 325.2,198.05 325.4,193.19 325.6,194.52 325.8,198.63 326,195.36 326.2,196 326.4,190.79 326.6,188.96 326.8,190.41 327,197.94 327.2,191.34 327.4,210.99 327.6,199.75 327.8,200.31 328,202.29 328.2,190.59 328.4,189.83 328.6,195.25 328.8,199.99 329,199.78 329.2,206.13 329.4,204.73 329.6,202.75 329.8,203.28 330,198.27 330.2,201.75 330.4,195.13 330.6,194.32 330.8,202.33 331,187.07 331.2,205.09 331.4,207.84 331.6,193.99 331.8,201.36 332,197.92 332.2,191.07 332.4,199.13 332.6,200.11 332.8,203.02 333,194.94 333.2,197.77 333.4,193.22 333.6,202.99 333.8,196.27 334,202.1 334.2,192.73 334.4,197.56 334.6,191.3 334.8,192.22 335,203.58 335.2,195.6 335.4,196.18 335.6,201.25 335.8,191.6 336,208.84 336.2,191.74 336.4,194.12 336.6,210.44 336.8,185.59 337,207.87 337.2,199.02 337.4,199.82 337.6,189.64 337.8,197.56 338,188.11 338.2,202.95 338.4,194.71 338.6,191.97 338.8,193.02 339,195.19 339.2,202.75 339.4,198.63 339.6,190.94 339.8,190.16 340,189.01 340.2,201.47 340.4,199.29 340.6,188.27 340.8,184.64 341,195.46 341.2,191.8 341.4,199.49 341.6,194.91 341.8,198.36 342,201.42 342.2,203.1 342.4,194.08 342.6,200.72 342.8,191.43 343,186.8 343.2,197.12 343.4,204.2 343.6,205.8 343.8,194.92 344,182.66 344.2,197.7 344.4,193.69 344.6,199.88 344.8,203.24 345,191.91 345.2,189.79 345.4,192.17" fill="none" stroke="#000" stroke-width="1.6" stroke-linejoin="round"/>
<polyline points="46.7,215.23 47,212.05 47.3,214.09 47.6,208.63 47.9,208.34 48.2,206.17 48.5,202.99 48.8,206.48 49.1,199.98 49.4,200.85 49.7,204.17 50,198.73 50.3,191.38 50.6,195.27 50.9,194.33 51.2,199.54 51.5,204.76 51.8,197.22 52.1,195.42 52.4,203.51 52.7,192.44 53,197.38 53.3,198.42 53.6,196 53.9,195.54 54.2,197.47 54.5,203.94 54.8,199.65 55.1,194.46 55.4,198.68 55.7,201.86 56,205.6 56.3,201.42 56.6,198.95 56.9,204.01 57.2,202.06 57.5,199.23 57.8,196.29 58.1,199.31 58.4,202.6 58.7,195.55 59,194 59.3,201.35 59.6,194.84 59.9,195.89 60.2,199.49 60.5,199.57 60.8,200.61 61.1,201.08 61.4,202.25 61.7,200.63 62,198.83 62.3,193.56 62.6,204.3 62.9,203.07 63.2,202.62 63.5,201.01 63.8,198.98 64.1,202.18 64.4,200.89 64.7,197.89 65,203.44 65.3,197.74 65.6,200.04 65.9,205.14 66.2,199.16 66.5,201.46 66.8,203.5 67.1,201.05 67.4,197.75 67.7,199.88 68,200.91 68.3,197.53 68.6,204.35 68.9,201.76 69.2,202.67 69.5,201.63 69.8,201.89 70.1,200.17 70.4,197.57 70.7,202.56 71,201.08 71.3,204.65 71.6,198.29 71.9,201.37 72.2,206.06 72.5,197.87 72.8,198.22 73.1,201.51 73.4,204.93 73.7,198.21 74,201.12 74.3,200.55 74.6,199.67 74.9,200.38 75.2,203.81 75.5,201.28 75.8,197.89 76.1,199.52 76.4,201.18 76.7,197.68 77,199.33 77.3,200 77.6,196.04 77.9,205.26 78.2,197.17 78.5,201.08 78.8,200.53 79.1,199.52 79.4,203.76 79.7,201.08 80,198.98 80.3,203.67 80.6,202.22 80.9,198.51 81.2,197.37 81.5,203 81.8,200.61 82.1,197.52 82.4,202.22 82.7,197.57 83,199.32 83.3,199.02 83.6,196.3 83.9,202.54 84.2,209.14 84.5,202.44 84.8,201.9 85.1,200.35 85.4,200.79 85.7,201.6 86,202.41 86.3,199.78 86.6,201.06 86.9,200.48 87.2,202.29 87.5,203.2 87.8,203.58 88.1,199.98 88.4,199.9 88.7,202.65 89,200.44 89.3,200.56 89.6,202.15 89.9,201.97 90.2,204.2 90.5,198.25 90.8,203.74 91.1,200.02 91.4,202.7 91.7,198.09 92,200.83 92.3,199.68 92.6,205.29 92.9,198.92 93.2,203.82 93.5,199.26 93.8,198.53 94.1,201.88 94.4,203.64 94.7,201.03 95,202.58 95.3,201.73 95.6,201.04 95.9,204.43 96.2,201.2 96.5,203.23 96.8,198.48 97.1,200.76 97.4,203.41 97.7,200.13 98,196.19 98.3,202.98 98.6,202.58 98.9,200.55 99.2,201.49 99.5,200.45 99.8,202.14 100.1,203.83 100.4,201.98 100.7,201.04 101,200.12 101.3,200.88 101.6,200.08 101.9,203.53 102.2,198.78 102.5,199.9 102.8,202.09 103.1,202.06 103.4,201.86 103.7,200.29 104,201.75 104.3,197.94 104.6,197.71 104.9,198.28 105.2,202.18 105.5,204.5 105.8,200.29 106.1,199.99 106.4,200.62 106.7,205.56 107,201.82 107.3,201.56 107.6,200.01 107.9,202.5 108.2,204.39 108.5,201.8 108.8,199.46 109.1,204.43 109.4,201.31 109.7,205.53 110,198.89 110.3,201.02 110.6,201.99 110.9,197.26 111.2,201.59 111.5,202.8 111.8,201.06 112.1,202.39 112.4,201.77 112.7,199.38 113,203.04 113.3,199.59 113.6,200.63 113.9,199.61 114.2,202.83 114.5,200.23 114.8,200.22 115.1,196.32 115.4,200.67 115.7,203.65 116,196.45 116.3,202.18 116.6,201.22 116.9,197.26 117.2,200.34 117.5,203.53 117.8,201.29 118.1,202.13 118.4,203.9 118.7,200.56 119,203.33 119.3,198.41 119.6,199.31 119.9,204.7 120.2,204.48 120.5,203.51 120.8,197.83 121.1,200.81 121.4,199.27 121.7,205.8 122,198.21 122.3,198.38 122.6,199.96 122.9,202.12 123.2,200.01 123.5,200.66 123.8,202.05 124.1,201.44 124.4,197 124.7,198.45 125,205.17 125.3,201.49 125.6,205.61 125.9,204.78 126.2,203.97 126.5,201.55 126.8,204.97 127.1,200.36 127.4,206.61 127.7,202.8 128,202.82 128.3,200.55 128.6,200.14 128.9,200.9 129.2,200.29 129.5,199.48 129.8,199 130.1,201.97 130.4,204.29 130.7,206.08 131,203.31 131.3,201.3 131.6,202.99 131.9,205.52 132.2,201.89 132.5,203.92 132.8,202.49 133.1,201.9 133.4,200.29 133.7,203.26 134,199.68 134.3,199.28 134.6,202.4 134.9,203.86 135.2,203.75 135.5,203.56 135.8,200.9 136.1,201.3 136.4,204.21 136.7,206.38 137,195.38 137.3,204.41 137.6,202.11 137.9,201.47 138.2,199.88 138.5,200.12 138.8,198.8 139.1,202.2 139.4,199.32 139.7,201.14 140,198.08 140.3,204.32 140.6,203.12 140.9,198.83 141.2,202.59 141.5,200.6 141.8,199.49 142.1,201.66 142.4,203.44 142.7,204.98 143,202.1 143.3,204.18 143.6,203.04 143.9,203.02 144.2,203.72 144.5,198.29 144.8,200.51 145.1,204.89 145.4,198.31 145.7,199.45 146,205.77 146.3,199.01 146.6,201.66 146.9,201.98 147.2,200.67 147.5,203.5 147.8,203.34 148.1,199.7 148.4,205.36 148.7,199.39 149,200.24 149.3,200.93 149.6,201.72 149.9,198.66 150.2,201.78 150.5,195.93 150.8,199.97 151.1,198.92 151.4,199.35 151.7,200.89 152,201.7 152.3,199.09 152.6,201.11 152.9,196.93 153.2,199.96 153.5,203.59 153.8,199.02 154.1,200.06 154.4,200.87 154.7,203.32 155,202.02 155.3,200.38 155.6,197.78 155.9,201.58 156.2,191.72 156.5,202.13 156.8,198.33 157.1,202.84 157.4,200.5 157.7,205.2 158,198.48 158.3,193.82 158.6,200.69 158.9,198.85 159.2,200.21 159.5,204.8 159.8,197.22 160.1,202.96 160.4,203.75 160.7,204.46 161,192.82 161.3,200.96 161.6,197.68 161.9,199.43 162.2,197.09 162.5,198.99 162.8,204.08 163.1,207.27 163.4,203.12 163.7,195.1 164,205.45 164.3,194.93 164.6,198.54 164.9,205.02 165.2,197.56 165.5,203.21 165.8,198.92 166.1,195.03 166.4,200.97 166.7,197.68 167,207.69 167.3,208.02 167.6,206.83 167.9,195.49 168.2,208.25 168.5,201.29 168.8,202.13 169.1,200.75 169.4,197.46 169.7,200.43 170,203.73 170.3,206.67 170.6,202.33 170.9,199.87 171.2,197.68 171.5,198.38 171.8,206.98 172.1,202.82 172.4,200.78 172.7,192.42 173,191.85 173.3,202.73 173.6,202.52 173.9,204.68 174.2,200.56 174.5,196.73 174.8,191.97 175.1,195.51 175.4,189.21 175.7,200.95 176,201.73 176.3,205.79 176.6,191.32 176.9,193.16 177.2,202.31 177.5,201.01 177.8,190.4 178.1,196.27 178.4,199.9 178.7,197.68 179,201.13 179.3,199.57 179.6,196.84 179.9,201.13 180.2,199.01 180.5,204.67 180.8,192.71 181.1,198.26 181.4,196.19 181.7,198.17 182,201.15 182.3,202.25 182.6,189.39 182.9,204.6 183.2,201.73 183.5,201.65 183.8,199.53 184.1,203.59 184.4,201.1 184.7,190.83 185,196.07 185.3,197.89 185.6,197.22 185.9,196.62 186.2,202.59 186.5,192.78 186.8,194.88 187.1,193.51 187.4,198.99 187.7,201.66 188,194.02 188.3,201.39 188.6,196.08 188.9,207.19 189.2,186.48 189.5,199.11 189.8,205.72 190.1,197.13 190.4,192.94 190.7,194.3 191,202.39 191.3,196.16 191.6,205.28 191.9,199.58 192.2,196.16 192.5,196.84 192.8,202.03 193.1,205.13 193.4,194.8 193.7,192.67 194,192.76 194.3,202.11 194.6,209.77 194.9,196.49 195.2,203.29 195.5,197.23 195.8,204.76 196.1,191.1 196.4,202.9 196.7,192.14 197,194.74 197.3,201.44 197.6,198.21 197.9,199.19 198.2,202.57 198.5,200.72 198.8,208.05 199.1,203.9 199.4,194.8 199.7,199.24 200,196.53 200.3,197.36 200.6,209.76 200.9,195.26 201.2,206.9 201.5,208.23 201.8,215.18 202.1,199.79 202.4,201.22 202.7,201.46 203,197.72 203.3,209.83 203.6,210.89 203.9,186.83 204.2,198.01 204.5,206.56 204.8,193.98 205.1,195.9 205.4,200 205.7,199.75 206,198.79 206.3,199.04 206.6,210.09 206.9,186.72 207.2,196.96 207.5,193.37 207.8,201.19 208.1,197.33 208.4,202.58 208.7,199.92 209,212.92 209.3,192.43 209.6,197.15 209.9,204.85 210.2,197.74 210.5,200.76 210.8,191.24 211.1,203.95 211.4,199.19 211.7,203.11 212,194.72 212.3,196.8 212.6,195.04 212.9,209.3 213.2,189.98 213.5,202.33 213.8,201.37 214.1,207.11 214.4,201.51 214.7,194.09 215,202.83 215.3,190.15 215.6,205.91 215.9,199.32 216.2,195.73 216.5,197.12 216.8,203.26 217.1,190.49 217.4,209.62 217.7,195.97 218,208.57 218.3,200.94 218.6,210.85 218.9,193.12 219.2,204.97 219.5,199.67 219.8,196.43 220.1,204.78 220.4,198.69 220.7,195.87 221,198.81 221.3,195.64 221.6,198.78 221.9,199.8 222.2,206.17 222.5,199.53 222.8,195.7 223.1,204.35 223.4,198 223.7,194.59 224,193.25 224.3,210.02 224.6,199.47 224.9,209.2 225.2,194.55 225.5,194.11 225.8,209.8 226.1,198.66 226.4,199.03 226.7,198.84 227,194.31 227.3,205.88 227.6,193.29 227.9,204.44 228.2,194.09 228.5,214.91 228.8,204.23 229.1,206.42 229.4,190.62 229.7,202.16 230,196.62 230.3,195.29 230.6,195.46 230.9,204.87 231.2,200.45 231.5,197.42 231.8,196.83 232.1,196.62 232.4,197.21 232.7,198.68 233,193.8 233.3,195.15 233.6,187.79 233.9,200.08 234.2,203.5 234.5,197.52 234.8,208.07 235.1,196.02 235.4,200.5 235.7,206.82 236,201.71 236.3,195.91 236.6,202.37 236.9,198.14 237.2,206.63 237.5,204.69 237.8,199.17 238.1,203.36 238.4,210.12 238.7,206.76 239,205.27 239.3,199.45 239.6,197.21 239.9,196.3 240.2,206.25 240.5,194.54 240.8,202.85 241.1,209.53 241.4,191.81 241.7,202.66 242,195.21 242.3,200.05 242.6,203.69 242.9,195.34 243.2,193.54 243.5,198.65 243.8,202.1 244.1,198.78 244.4,195.7 244.7,204.83 245,194.83 245.3,193.1 245.6,201.71 245.9,213.1 246.2,198.4 246.5,200.74 246.8,195.6 247.1,197.93 247.4,195.07 247.7,202.89 248,197.64 248.3,197.06 248.6,206.62 248.9,193.45 249.2,207.06 249.5,201.53 249.8,198.1 250.1,203.63 250.4,202.89 250.7,206.78 251,204.45 251.3,216.68 251.6,212.73 251.9,213.72 252.2,201.31 252.5,206.43 252.8,215.27 253.1,212.38 253.4,209.56 253.7,209.34 254,215.95 254.3,200 254.6,205.2 254.9,199.94 255.2,211.56 255.5,195.17 255.8,198.91 256.1,206.24 256.4,197.01 256.7,200.16 257,198.66 257.3,202.16 257.6,210.58 257.9,192.19 258.2,198.64 258.5,208.34 258.8,212.57 259.1,198.5 259.4,207.62 259.7,203.93 260,203.96 260.3,192.88 260.6,191.98 260.9,202 261.2,200.81 261.5,201.2 261.8,195.47 262.1,210.16 262.4,201.13 262.7,217.25 263,200.83 263.3,204.2 263.6,206.34 263.9,200.14 264.2,196.41 264.5,198.86 264.8,202.14 265.1,199.18 265.4,213.37 265.7,199.04 266,206.44 266.3,206.66 266.6,203.07 266.9,195.79 267.2,204.93 267.5,207.45 267.8,202.95 268.1,202.07 268.4,189.26 268.7,195.5 269,200.8 269.3,202.99 269.6,206.3 269.9,200.04 270.2,202.87 270.5,195.69 270.8,205.54 271.1,206.11 271.4,201.08 271.7,207.57 272,199.93 272.3,198.75 272.6,199.93 272.9,213.79 273.2,191.83 273.5,202.86 273.8,199.5 274.1,202.31 274.4,192.55 274.7,206.13 275,205.66 275.3,199.95 275.6,198.91 275.9,201.96 276.2,207.49 276.5,192.02 276.8,210.28 277.1,199.57 277.4,206.76 277.7,196.32 278,213.83 278.3,203.2 278.6,212.7 278.9,197.66 279.2,197.46 279.5,208.7 279.8,206.04 280.1,203.73 280.4,209.42 280.7,204.26 281,199.37 281.3,189.41 281.6,186.84 281.9,205.66 282.2,205.16 282.5,195.67 282.8,204.97 283.1,200.14 283.4,201.71 283.7,207.73 284,191.2 284.3,203.74 284.6,204.84 284.9,200.18 285.2,202.49 285.5,193.91 285.8,202.38 286.1,205.52 286.4,206.48 286.7,196.76 287,206.65 287.3,203.32 287.6,205.72 287.9,201.02 288.2,205.46 288.5,202.56 288.8,217.44 289.1,199.18 289.4,208.78 289.7,201.01 290,191.1 290.3,204.3 290.6,209.33 290.9,206.17 291.2,206.35 291.5,195.54 291.8,203.09 292.1,191.61 292.4,213.09 292.7,211.54 293,193.86 293.3,198.26 293.6,192.47 293.9,195.76 294.2,197.84 294.5,192.78 294.8,197.66 295.1,205.24 295.4,198.83 295.7,205.78 296,199.6 296.3,201.46 296.6,191.92 296.9,207.19 297.2,192.74 297.5,198.14 297.8,191.64 298.1,204.18 298.4,193.24 298.7,204.63 299,214.23 299.3,203.01 299.6,184.63 299.9,207.59 300.2,201.79 300.5,204.9 300.8,203.46 301.1,208.81 301.4,207.77 301.7,200.01 302,191.42 302.3,199.77 302.6,205.95 302.9,186.73 303.2,201.4 303.5,187.05 303.8,208.48 304.1,213.9 304.4,206.7 304.7,197.05 305,206.03 305.3,210.09 305.6,212.63 305.9,210.74 306.2,208.28 306.5,192.6 306.8,199.24 307.1,203.55 307.4,200.28 307.7,185.01 308,198.56 308.3,194.38 308.6,201.38 308.9,202.39 309.2,188.61 309.5,193.8 309.8,200.85 310.1,191.43 310.4,199.26 310.7,192.91 311,193.89 311.3,206.29 311.6,198.31 311.9,194.94 312.2,211.39 312.5,196.71 312.8,198.93 313.1,199.28 313.4,223.3 313.7,204.14 314,205.96 314.3,196.04 314.6,205.8 314.9,208.07 315.2,189.42 315.5,202.42 315.8,212.28 316.1,213.72 316.4,200.84 316.7,217.74 317,193.18 317.3,207.41 317.6,203.2 317.9,190.03 318.2,207.1 318.5,188.07 318.8,193.21 319.1,197.85 319.4,188.52 319.7,208.44 320,194.75 320.3,188.03 320.6,200.68 320.9,198.38 321.2,189.12 321.5,193.72 321.8,206.07 322.1,205.47 322.4,184.59 322.7,206.76 323,206.82 323.3,208.36 323.6,194.05 323.9,191.43 324.2,197.35 324.5,192.38 324.8,195.88 325.1,192.74 325.4,195.53 325.7,193.61 326,198.36 326.3,199.49 326.6,195.61 326.9,192.94 327.2,212.61 327.5,206.46 327.8,202.36 328.1,189.66 328.4,203.62 328.7,196.24 329,203.28 329.3,199.84 329.6,221.4 329.9,197.76 330.2,187.96 330.5,207.82 330.8,208.47 331.1,210.27 331.4,173.75 331.7,188.26 332,189.33 332.3,181.24 332.6,198.35 332.9,203.48 333.2,207.57 333.5,205.91 333.8,197.11 334.1,212.2 334.4,199.25 334.7,173.75 335,193.4 335.3,188.9 335.6,199.87 335.9,192.02 336.2,192.93 336.5,210.46 336.8,188.21 337.1,181.64 337.4,198.57 337.7,202.79 338,194.62 338.3,195.71 338.6,189.32 338.9,181.2 339.2,187.24 339.5,183.74 339.8,209.14 340.1,192.55 340.4,211.25 340.7,193.77 341,184.84 341.3,197.37 341.6,197.5 341.9,210.56 342.2,173.75 342.5,190.07 342.8,199.79 343.1,186.01 343.4,196.36 343.7,191.39 344,212.18 344.3,210.16 344.6,173.75 344.9,175.8 345.2,184.91 345.5,193.85" fill="none" stroke="#000" stroke-width="0.9" stroke-linejoin="round"/>
<polyline points="46.8,212 47,224 47.4,206" fill="none" stroke="#000" stroke-width="1" />
<polyline points="185.4,200 185.8,216.7 186.2,200" fill="none" stroke="#000" stroke-width="1" />
<polyline points="254.9,212 255.4,230.3 256,205 256.6,226 257.2,181.6 257.8,200 258.2,188 258.7,200" fill="none" stroke="#000" stroke-width="1.1" />
</g>
<g id="right-top">
<polyline points="497.3,172.5 497.8,171.09 498.3,169.68 498.8,168.29 499.3,166.9 499.8,165.54 500.3,164.2 500.8,162.86 501.3,161.52 501.8,160.2 502.3,158.87 502.8,157.55 503.3,156.23 503.8,154.92 504.3,153.61 504.8,152.31 505.3,151.01 505.8,149.72 506.3,148.43 506.8,147.15 507.3,145.87 507.8,144.6 508.3,143.34 508.8,142.08 509.3,140.83 509.8,139.59 510.3,138.35 510.8,137.12 511.3,135.89 511.8,134.68 512.3,133.47 512.8,132.26 513.3,131.07 513.8,129.88 514.3,128.69 514.8,127.5 515.3,126.31 515.8,125.12 516.3,123.93 516.8,122.74 517.3,121.55 517.8,120.37 518.3,119.2 518.8,118.04 519.3,116.88 519.8,115.74 520.3,114.62 520.8,113.51 521.3,112.41 521.8,111.34 522.3,110.28 522.8,109.25 523.3,108.24 523.8,107.25 524.3,106.29 524.8,105.36 525.3,104.46 525.8,103.58 526.3,102.72 526.8,101.87 527.3,101.04 527.8,100.23 528.3,99.43 528.8,98.65 529.3,97.88 529.8,97.12 530.3,96.37 530.8,95.63 531.3,94.9 531.8,94.17 532.3,93.46 532.8,92.75 533.3,92.04 533.8,91.34 534.3,90.64 534.8,89.94 535.3,89.24 535.8,88.54 536.3,87.84 536.8,87.13 537.3,86.43 537.8,85.72 538.3,85 538.8,84.27 539.3,83.54 539.8,82.8 540.3,82.05 540.8,81.29 541.3,80.52 541.8,79.74 542.3,78.96 542.8,78.17 543.3,77.38 543.8,76.59 544.3,75.81 544.8,75.02 545.3,74.25 545.8,73.47 546.3,72.71 546.8,71.96 547.3,71.22 547.8,70.49 548.3,69.78 548.8,69.09 549.3,68.41 549.8,67.76 550.3,67.12 550.8,66.49 551.3,65.87 551.8,65.25 552.3,64.64 552.8,64.04 553.3,63.44 553.8,62.85 554.3,62.26 554.8,61.68 555.3,61.11 555.8,60.54 556.3,59.98 556.8,59.42 557.3,58.88 557.8,58.34 558.3,57.8 558.8,57.27 559.3,56.75 559.8,56.24 560.3,55.73 560.8,55.23 561.3,54.73 561.8,54.25 562.3,53.77 562.8,53.29 563.3,52.83 563.8,52.37 564.3,51.92 564.8,51.48 565.3,51.04 565.8,50.61 566.3,50.19 566.8,49.78 567.3,49.37 567.8,48.98 568.3,48.58 568.8,48.2 569.3,47.82 569.8,47.45 570.3,47.08 570.8,46.72 571.3,46.36 571.8,46 572.3,45.65 572.8,45.3 573.3,44.96 573.8,44.61 574.3,44.27 574.8,43.93 575.3,43.6 575.8,43.26 576.3,42.93 576.8,42.59 577.3,42.26 577.8,41.92 578.3,41.59 578.8,41.27 579.3,40.94 579.8,40.62 580.3,40.3 580.8,39.98 581.3,39.67 581.8,39.36 582.3,39.06 582.8,38.76 583.3,38.46 583.8,38.17 584.3,37.88 584.8,37.6 585.3,37.33 585.8,37.06 586.3,36.8 586.8,36.54 587.3,36.3 587.8,36.06 588.3,35.81 588.8,35.58 589.3,35.34 589.8,35.1 590.3,34.87 590.8,34.63 591.3,34.4 591.8,34.18 592.3,33.95 592.8,33.73 593.3,33.52 593.8,33.31 594.3,33.1 594.8,32.9 595.3,32.71 595.8,32.52 596.3,32.33 596.8,32.16 597.3,31.99 597.8,31.82 598.3,31.67 598.8,31.52 599.3,31.38 599.8,31.25 600.3,31.13 600.8,31 601.3,30.88 601.8,30.76 602.3,30.63 602.8,30.51 603.3,30.39 603.8,30.27 604.3,30.15 604.8,30.03 605.3,29.91 605.8,29.79 606.3,29.68 606.8,29.57 607.3,29.46 607.8,29.36 608.3,29.25 608.8,29.15 609.3,29.06 609.8,28.97 610.3,28.88 610.8,28.79 611.3,28.71 611.8,28.64 612.3,28.57 612.8,28.51 613.3,28.45 613.8,28.39 614.3,28.35 614.8,28.31 615.3,28.27 615.8,28.24 616.3,28.22 616.8,28.21 617.3,28.2 617.8,28.2 618.3,28.2 618.8,28.21 619.3,28.22 619.8,28.24 620.3,28.25 620.8,28.27 621.3,28.29 621.8,28.32 622.3,28.34 622.8,28.37 623.3,28.41 623.8,28.44 624.3,28.47 624.8,28.51 625.3,28.55 625.8,28.59 626.3,28.64 626.8,28.68 627.3,28.73 627.8,28.77 628.3,28.82 628.8,28.87 629.3,28.92 629.8,28.97 630.3,29.02 630.8,29.07 631.3,29.13 631.8,29.18 632.3,29.23 632.8,29.29 633.3,29.36 633.8,29.43 634.3,29.51 634.8,29.59 635.3,29.68 635.8,29.77 636.3,29.87 636.8,29.97 637.3,30.07 637.8,30.18 638.3,30.29 638.8,30.41 639.3,30.53 639.8,30.65 640.3,30.77 640.8,30.9 641.3,31.03 641.8,31.15 642.3,31.28 642.8,31.42 643.3,31.55 643.8,31.68 644.3,31.81 644.8,31.95 645.3,32.08 645.8,32.22 646.3,32.36 646.8,32.5 647.3,32.65 647.8,32.8 648.3,32.95 648.8,33.11 649.3,33.27 649.8,33.44 650.3,33.6 650.8,33.77 651.3,33.95 651.8,34.12 652.3,34.3 652.8,34.48 653.3,34.66 653.8,34.85 654.3,35.04 654.8,35.23 655.3,35.42 655.8,35.62 656.3,35.81 656.8,36.01 657.3,36.21 657.8,36.42 658.3,36.62 658.8,36.83 659.3,37.04 659.8,37.26 660.3,37.48 660.8,37.7 661.3,37.93 661.8,38.16 662.3,38.39 662.8,38.63 663.3,38.87 663.8,39.12 664.3,39.36 664.8,39.62 665.3,39.88 665.8,40.14 666.3,40.4 666.8,40.67 667.3,40.95 667.8,41.22 668.3,41.51 668.8,41.79 669.3,42.08 669.8,42.38 670.3,42.68 670.8,42.99 671.3,43.31 671.8,43.64 672.3,43.97 672.8,44.31 673.3,44.66 673.8,45.02 674.3,45.38 674.8,45.75 675.3,46.13 675.8,46.51 676.3,46.9 676.8,47.29 677.3,47.69 677.8,48.09 678.3,48.5 678.8,48.91 679.3,49.33" fill="none" stroke="#00ee00" stroke-width="0.8" />
<polyline points="679.5,49 680,49.66 680.5,50.33 681,51.01 681.5,51.69 682,52.38 682.5,53.07 683,53.77 683.5,54.48 684,55.19 684.5,55.91 685,56.64 685.5,57.38 686,58.12 686.5,58.87 687,59.62 687.5,60.38 688,61.16 688.5,61.95 689,62.75 689.5,63.56 690,64.38 690.5,65.21 691,66.04 691.5,66.89 692,67.73 692.5,68.59 693,69.44 693.5,70.3 694,71.15 694.5,72.01 695,72.86 695.5,73.71 696,74.56 696.5,75.4 697,76.24 697.5,77.07 698,77.89 698.5,78.7 699,79.5 699.5,80.31 700,81.11 700.5,81.9 701,82.7 701.5,83.49 702,84.28 702.5,85.07 703,85.85 703.5,86.63 704,87.41 704.5,88.19 705,88.96 705.5,89.74 706,90.51 706.5,91.28 707,92.04" fill="none" stroke="#00ee00" stroke-width="0.8" />
<polyline points="707.3,91.5 707.8,92.18 708.3,92.88 708.8,93.61 709.3,94.36 709.8,95.14 710.3,95.93 710.8,96.75 711.3,97.6 711.8,98.46 712.3,99.35 712.8,100.25 713.3,101.17 713.8,102.12 714.3,103.08 714.8,104.08 715.3,105.11 715.8,106.16 716.3,107.25 716.8,108.36 717.3,109.5 717.8,110.66 718.3,111.84 718.8,113.05 719.3,114.27 719.8,115.52 720.3,116.77 720.8,118.05 721.3,119.34 721.8,120.63 722.3,121.95 722.8,123.26 723.3,124.61 723.8,125.97 724.3,127.36 724.8,128.78 725.3,130.22 725.8,131.68 726.3,133.16 726.8,134.67 727.3,136.19 727.8,137.73 728.3,139.29 728.8,140.87 729.3,142.46 729.8,144.07 730.3,145.69 730.8,147.33 731.3,149 731.8,150.7 732.3,152.43 732.8,154.2 733.3,155.99 733.8,157.81 734.3,159.65 734.8,161.5" fill="none" stroke="#00ee00" stroke-width="0.8" />
<polyline points="451.9,172.5 452.4,170.73 452.9,168.96 453.4,167.22 453.9,165.52 454.4,163.88 454.9,162.31 455.4,160.84 455.9,159.46 456.4,158.14 456.9,156.85 457.4,155.59 457.9,154.37 458.4,153.17 458.9,152.01 459.4,150.87 459.9,149.75 460.4,148.65 460.9,147.58 461.4,146.52 461.9,145.48 462.4,144.45 462.9,143.43 463.4,142.42 463.9,141.42 464.4,140.43 464.9,139.43 465.4,138.44 465.9,137.45 466.4,136.46 466.9,135.46 467.4,134.45 467.9,133.44 468.4,132.41 468.9,131.38 469.4,130.35 469.9,129.33 470.4,128.31 470.9,127.29 471.4,126.29 471.9,125.28 472.4,124.29 472.9,123.3 473.4,122.31 473.9,121.33 474.4,120.36 474.9,119.39 475.4,118.43 475.9,117.47 476.4,116.53 476.9,115.58 477.4,114.64 477.9,113.71 478.4,112.78 478.9,111.85 479.4,110.93 479.9,110.01 480.4,109.1 480.9,108.18 481.4,107.27 481.9,106.36 482.4,105.46 482.9,104.55 483.4,103.64 483.9,102.73 484.4,101.83 484.9,100.92 485.4,100.02 485.9,99.12 486.4,98.23 486.9,97.34 487.4,96.46 487.9,95.59 488.4,94.72 488.9,93.86 489.4,93.01 489.9,92.17 490.4,91.33 490.9,90.49 491.4,89.64 491.9,88.79 492.4,87.94 492.9,87.09 493.4,86.25 493.9,85.41 494.4,84.58 494.9,83.75 495.4,82.94 495.9,82.14 496.4,81.35 496.9,80.59 497.4,79.83 497.9,79.1 498.4,78.4 498.9,77.71 499.4,77.05 499.9,76.42 500.4,75.82 500.9,75.22 501.4,74.63 501.9,74.06 502.4,73.49 502.9,72.93 503.4,72.39 503.9,71.85 504.4,71.32 504.9,70.81 505.4,70.3 505.9,69.8 506.4,69.31 506.9,68.83 507.4,68.35 507.9,67.89 508.4,67.44 508.9,66.99 509.4,66.55 509.9,66.12 510.4,65.69 510.9,65.28 511.4,64.87 511.9,64.47 512.4,64.08 512.9,63.69 513.4,63.31 513.9,62.93 514.4,62.55 514.9,62.18 515.4,61.81 515.9,61.45 516.4,61.09 516.9,60.73 517.4,60.39 517.9,60.04 518.4,59.71 518.9,59.38 519.4,59.06 519.9,58.74 520.4,58.43 520.9,58.13 521.4,57.84 521.9,57.56 522.4,57.28 522.9,57.01 523.4,56.76 523.9,56.51 524.4,56.27 524.9,56.04 525.4,55.82 525.9,55.61 526.4,55.39 526.9,55.18 527.4,54.97 527.9,54.76 528.4,54.55 528.9,54.35 529.4,54.16 529.9,53.96 530.4,53.78 530.9,53.59 531.4,53.42 531.9,53.24 532.4,53.08 532.9,52.92 533.4,52.77 533.9,52.62 534.4,52.48 534.9,52.35 535.4,52.23 535.9,52.11 536.4,52 536.9,51.91 537.4,51.82 537.9,51.73 538.4,51.65 538.9,51.57 539.4,51.49 539.9,51.41 540.4,51.33 540.9,51.26 541.4,51.18 541.9,51.11 542.4,51.03 542.9,50.96 543.4,50.89 543.9,50.83 544.4,50.76 544.9,50.7 545.4,50.64 545.9,50.59 546.4,50.54 546.9,50.49 547.4,50.44 547.9,50.4 548.4,50.36 548.9,50.32 549.4,50.29 549.9,50.27 550.4,50.24 550.9,50.23 551.4,50.21 551.9,50.2 552.4,50.2 552.9,50.2 553.4,50.21 553.9,50.22 554.4,50.23 554.9,50.25 555.4,50.28 555.9,50.3 556.4,50.33 556.9,50.37 557.4,50.4 557.9,50.44 558.4,50.49 558.9,50.53 559.4,50.58 559.9,50.63 560.4,50.68 560.9,50.73 561.4,50.79 561.9,50.84 562.4,50.9 562.9,50.96 563.4,51.01 563.9,51.07 564.4,51.13 564.9,51.19 565.4,51.25 565.9,51.32 566.4,51.39 566.9,51.47 567.4,51.55 567.9,51.64 568.4,51.73 568.9,51.83 569.4,51.93 569.9,52.04 570.4,52.15 570.9,52.26 571.4,52.37 571.9,52.48 572.4,52.6 572.9,52.71 573.4,52.83 573.9,52.95 574.4,53.06 574.9,53.18 575.4,53.29 575.9,53.41 576.4,53.53 576.9,53.66 577.4,53.79 577.9,53.92 578.4,54.05 578.9,54.19 579.4,54.32 579.9,54.46 580.4,54.6" fill="none" stroke="#ff8c1a" stroke-width="0.8" />
<polyline points="580.4,54 580.9,54.2 581.4,54.41 581.9,54.61 582.4,54.82 582.9,55.04 583.4,55.25 583.9,55.46 584.4,55.68 584.9,55.9 585.4,56.12 585.9,56.35 586.4,56.57 586.9,56.8 587.4,57.03 587.9,57.26 588.4,57.5 588.9,57.73 589.4,57.97 589.9,58.21 590.4,58.46 590.9,58.7 591.4,58.95 591.9,59.19 592.4,59.44 592.9,59.7 593.4,59.95 593.9,60.2 594.4,60.46 594.9,60.72 595.4,60.99 595.9,61.25 596.4,61.52 596.9,61.79 597.4,62.06 597.9,62.33 598.4,62.61 598.9,62.89 599.4,63.17 599.9,63.45 600.4,63.74 600.9,64.02 601.4,64.31 601.9,64.6 602.4,64.9 602.9,65.19 603.4,65.49 603.9,65.79 604.4,66.09 604.9,66.39 605.4,66.7 605.9,67.01 606.4,67.31 606.9,67.63 607.4,67.94 607.9,68.25 608.4,68.57 608.9,68.89 609.4,69.21 609.9,69.54 610.4,69.86 610.9,70.19 611.4,70.52 611.9,70.85 612.4,71.18 612.9,71.51 613.4,71.85 613.9,72.19 614.4,72.53 614.9,72.88 615.4,73.23 615.9,73.58 616.4,73.93 616.9,74.28 617.4,74.64 617.9,75 618.4,75.37 618.9,75.73 619.4,76.1 619.9,76.48 620.4,76.85 620.9,77.23 621.4,77.62 621.9,78 622.4,78.39 622.9,78.78 623.4,79.18 623.9,79.58 624.4,79.98 624.9,80.39 625.4,80.8 625.9,81.22 626.4,81.64 626.9,82.06 627.4,82.48 627.9,82.92 628.4,83.35 628.9,83.79 629.4,84.23 629.9,84.67 630.4,85.12 630.9,85.58 631.4,86.03 631.9,86.49 632.4,86.95 632.9,87.42 633.4,87.89 633.9,88.36 634.4,88.84 634.9,89.32 635.4,89.8 635.9,90.29 636.4,90.78 636.9,91.27 637.4,91.77 637.9,92.27 638.4,92.77 638.9,93.27 639.4,93.78 639.9,94.29 640.4,94.8 640.9,95.32 641.4,95.84 641.9,96.36 642.4,96.89 642.9,97.41 643.4,97.94 643.9,98.48 644.4,99.01 644.9,99.55 645.4,100.09 645.9,100.63 646.4,101.18 646.9,101.73 647.4,102.28 647.9,102.83 648.4,103.38 648.9,103.94 649.4,104.5 649.9,105.06 650.4,105.62 650.9,106.19 651.4,106.76 651.9,107.33 652.4,107.91 652.9,108.49 653.4,109.08 653.9,109.68 654.4,110.28 654.9,110.89 655.4,111.5 655.9,112.11 656.4,112.73 656.9,113.36 657.4,113.98 657.9,114.62 658.4,115.25 658.9,115.89 659.4,116.54 659.9,117.19 660.4,117.84 660.9,118.49 661.4,119.15 661.9,119.82 662.4,120.48 662.9,121.15 663.4,121.82 663.9,122.49 664.4,123.17 664.9,123.85 665.4,124.53 665.9,125.21 666.4,125.9 666.9,126.59 667.4,127.28 667.9,127.97 668.4,128.66 668.9,129.36 669.4,130.06 669.9,130.77 670.4,131.48 670.9,132.19 671.4,132.92 671.9,133.64 672.4,134.37 672.9,135.11 673.4,135.85 673.9,136.59 674.4,137.34 674.9,138.1 675.4,138.85 675.9,139.61 676.4,140.38 676.9,141.14 677.4,141.92 677.9,142.69 678.4,143.47 678.9,144.25 679.4,145.03" fill="none" stroke="#ff8c1a" stroke-width="0.8" />
<polyline points="679.7,144.5 680.2,145.51 680.7,146.51 681.2,147.51 681.7,148.52 682.2,149.51 682.7,150.51 683.2,151.51 683.7,152.5 684.2,153.49 684.7,154.48 685.2,155.46 685.7,156.45 686.2,157.43 686.7,158.41 687.2,159.39 687.7,160.37 688.2,161.34 688.7,162.31 689.2,163.29 689.7,164.25 690.2,165.22 690.7,166.18 691.2,167.15 691.7,168.11 692.2,169.07 692.7,170.02 693.2,170.98 693.7,171.93" fill="none" stroke="#ff8c1a" stroke-width="0.8" />
<polyline points="430,138 430.5,137.9 431,137.79 431.5,137.69 432,137.59 432.5,137.48 433,137.38 433.5,137.28 434,137.18 434.5,137.07 435,136.97 435.5,136.87 436,136.77 436.5,136.67 437,136.57 437.5,136.47 438,136.37 438.5,136.27 439,136.17 439.5,136.07 440,135.97 440.5,135.87 441,135.77 441.5,135.67 442,135.58 442.5,135.48 443,135.38 443.5,135.29 444,135.19 444.5,135.09 445,135 445.5,134.91 446,134.81 446.5,134.72 447,134.62 447.5,134.53 448,134.44 448.5,134.35 449,134.25 449.5,134.16 450,134.07 450.5,133.98 451,133.89 451.5,133.8 452,133.71 452.5,133.62 453,133.53 453.5,133.44 454,133.35 454.5,133.26 455,133.17 455.5,133.08 456,132.99 456.5,132.9 457,132.81 457.5,132.72 458,132.64 458.5,132.55 459,132.46 459.5,132.37 460,132.29 460.5,132.2 461,132.11 461.5,132.02 462,131.94 462.5,131.85 463,131.76 463.5,131.68 464,131.59 464.5,131.5 465,131.42 465.5,131.33 466,131.24 466.5,131.16 467,131.07 467.5,130.98 468,130.9 468.5,130.81 469,130.72 469.5,130.64 470,130.55 470.5,130.46 471,130.38 471.5,130.29 472,130.2 472.5,130.12 473,130.03 473.5,129.94 474,129.85 474.5,129.77 475,129.68 475.5,129.59 476,129.51 476.5,129.42 477,129.33 477.5,129.24 478,129.15 478.5,129.07 479,128.98 479.5,128.89 480,128.8 480.5,128.71 481,128.62 481.5,128.53 482,128.44 482.5,128.36 483,128.27 483.5,128.18 484,128.09 484.5,128 485,127.91 485.5,127.82 486,127.73 486.5,127.64 487,127.55 487.5,127.46 488,127.37 488.5,127.28 489,127.19 489.5,127.1 490,127.01 490.5,126.93 491,126.84 491.5,126.75 492,126.66 492.5,126.57 493,126.48 493.5,126.39 494,126.3 494.5,126.21 495,126.12 495.5,126.03 496,125.94 496.5,125.85 497,125.76 497.5,125.67 498,125.58 498.5,125.49 499,125.4 499.5,125.31 500,125.22 500.5,125.13 501,125.04 501.5,124.95 502,124.86 502.5,124.78 503,124.69 503.5,124.6 504,124.51 504.5,124.42 505,124.33 505.5,124.24 506,124.15 506.5,124.06 507,123.97 507.5,123.88 508,123.79 508.5,123.7 509,123.62 509.5,123.53 510,123.44 510.5,123.35 511,123.26 511.5,123.17 512,123.08 512.5,122.99 513,122.91 513.5,122.82 514,122.73 514.5,122.64 515,122.55 515.5,122.46 516,122.38 516.5,122.29 517,122.2 517.5,122.11 518,122.02 518.5,121.93 519,121.84 519.5,121.75 520,121.66 520.5,121.57 521,121.48 521.5,121.39 522,121.3 522.5,121.21 523,121.12 523.5,121.02 524,120.93 524.5,120.84 525,120.75 525.5,120.65 526,120.56 526.5,120.47 527,120.37 527.5,120.28 528,120.19 528.5,120.09 529,120 529.5,119.91 530,119.82 530.5,119.72 531,119.63 531.5,119.54 532,119.45 532.5,119.35 533,119.26 533.5,119.17 534,119.08 534.5,118.99 535,118.9 535.5,118.81 536,118.72 536.5,118.63 537,118.54 537.5,118.45 538,118.36 538.5,118.27 539,118.19 539.5,118.1 540,118.01 540.5,117.93 541,117.84 541.5,117.76 542,117.67 542.5,117.59 543,117.51 543.5,117.43 544,117.34 544.5,117.26 545,117.18 545.5,117.11 546,117.03 546.5,116.95 547,116.88 547.5,116.8 548,116.73 548.5,116.65 549,116.58 549.5,116.51 550,116.44 550.5,116.37 551,116.3 551.5,116.23 552,116.17 552.5,116.1 553,116.03 553.5,115.96 554,115.9 554.5,115.83 555,115.77 555.5,115.7 556,115.64 556.5,115.57 557,115.51 557.5,115.45 558,115.38 558.5,115.32 559,115.26 559.5,115.2 560,115.13 560.5,115.07 561,115.01 561.5,114.95 562,114.89 562.5,114.83 563,114.77 563.5,114.71 564,114.66 564.5,114.6 565,114.54 565.5,114.48 566,114.43 566.5,114.37 567,114.31 567.5,114.26 568,114.2 568.5,114.15 569,114.09 569.5,114.04 570,113.99 570.5,113.94 571,113.88 571.5,113.83 572,113.78 572.5,113.73 573,113.68 573.5,113.63 574,113.58 574.5,113.53 575,113.48 575.5,113.44 576,113.39 576.5,113.34 577,113.3 577.5,113.25 578,113.21 578.5,113.16 579,113.12 579.5,113.08 580,113.03" fill="none" stroke="#ff2cff" stroke-width="0.9" />
<polyline points="580.4,111.7 580.9,111.6 581.4,111.51 581.9,111.42 582.4,111.32 582.9,111.23 583.4,111.14 583.9,111.04 584.4,110.95 584.9,110.86 585.4,110.77 585.9,110.68 586.4,110.6 586.9,110.51 587.4,110.42 587.9,110.34 588.4,110.25 588.9,110.17 589.4,110.09 589.9,110.01 590.4,109.93 590.9,109.85 591.4,109.77 591.9,109.7 592.4,109.63 592.9,109.55 593.4,109.48 593.9,109.41 594.4,109.34 594.9,109.28 595.4,109.21 595.9,109.15 596.4,109.09 596.9,109.03 597.4,108.97 597.9,108.91 598.4,108.86 598.9,108.81 599.4,108.76 599.9,108.71 600.4,108.66 600.9,108.62 601.4,108.57 601.9,108.52 602.4,108.47 602.9,108.43 603.4,108.38 603.9,108.33 604.4,108.29 604.9,108.24 605.4,108.19 605.9,108.15 606.4,108.1 606.9,108.06 607.4,108.01 607.9,107.97 608.4,107.92 608.9,107.88 609.4,107.84 609.9,107.79 610.4,107.75 610.9,107.71 611.4,107.67 611.9,107.63 612.4,107.59 612.9,107.55 613.4,107.52 613.9,107.48 614.4,107.45 614.9,107.41 615.4,107.38 615.9,107.35 616.4,107.32 616.9,107.29 617.4,107.26 617.9,107.23 618.4,107.2 618.9,107.18 619.4,107.16 619.9,107.13 620.4,107.11 620.9,107.1 621.4,107.08 621.9,107.06 622.4,107.05 622.9,107.04 623.4,107.03 623.9,107.02 624.4,107.01 624.9,107 625.4,107 625.9,107 626.4,107 626.9,107.01 627.4,107.02 627.9,107.03 628.4,107.05 628.9,107.07 629.4,107.1 629.9,107.13 630.4,107.16 630.9,107.19 631.4,107.23 631.9,107.27 632.4,107.32 632.9,107.36 633.4,107.41 633.9,107.46 634.4,107.51 634.9,107.56 635.4,107.62 635.9,107.67 636.4,107.73 636.9,107.79 637.4,107.85 637.9,107.91 638.4,107.97 638.9,108.02 639.4,108.08 639.9,108.14 640.4,108.2 640.9,108.26 641.4,108.32 641.9,108.38 642.4,108.43 642.9,108.49 643.4,108.54 643.9,108.6 644.4,108.65 644.9,108.71 645.4,108.76 645.9,108.82 646.4,108.87 646.9,108.93 647.4,108.99 647.9,109.05 648.4,109.11 648.9,109.17 649.4,109.23 649.9,109.3 650.4,109.36 650.9,109.43 651.4,109.51 651.9,109.58 652.4,109.66 652.9,109.74 653.4,109.82 653.9,109.9 654.4,109.99 654.9,110.08 655.4,110.18 655.9,110.28 656.4,110.4 656.9,110.52 657.4,110.66 657.9,110.8 658.4,110.96 658.9,111.12 659.4,111.28 659.9,111.45 660.4,111.63 660.9,111.81 661.4,111.99 661.9,112.16 662.4,112.35 662.9,112.54 663.4,112.73 663.9,112.94 664.4,113.15 664.9,113.36 665.4,113.58 665.9,113.8 666.4,114.03 666.9,114.25 667.4,114.48 667.9,114.71 668.4,114.93 668.9,115.16 669.4,115.38 669.9,115.61 670.4,115.84 670.9,116.08 671.4,116.31 671.9,116.55 672.4,116.8 672.9,117.04 673.4,117.29 673.9,117.55 674.4,117.81 674.9,118.07 675.4,118.34 675.9,118.61 676.4,118.89 676.9,119.17 677.4,119.45 677.9,119.74 678.4,120.03 678.9,120.32 679.4,120.62" fill="none" stroke="#ff2cff" stroke-width="0.9" />
<polyline points="679.7,119.4 680.2,119.78 680.7,120.16 681.2,120.55 681.7,120.94 682.2,121.33 682.7,121.72 683.2,122.12 683.7,122.52 684.2,122.92 684.7,123.32 685.2,123.73 685.7,124.14 686.2,124.55 686.7,124.96 687.2,125.37 687.7,125.79 688.2,126.21 688.7,126.63 689.2,127.05 689.7,127.48 690.2,127.91 690.7,128.35 691.2,128.79 691.7,129.23 692.2,129.68 692.7,130.13 693.2,130.57 693.7,131.02 694.2,131.47 694.7,131.93 695.2,132.4 695.7,132.87 696.2,133.36 696.7,133.87 697.2,134.39 697.7,134.93 698.2,135.48 698.7,136.06 699.2,136.66 699.7,137.27 700.2,137.9 700.7,138.54 701.2,139.21 701.7,139.88 702.2,140.58 702.7,141.3 703.2,142.03 703.7,142.79 704.2,143.57 704.7,144.36 705.2,145.18 705.7,146.01 706.2,146.86 706.7,147.73 707.2,148.62" fill="none" stroke="#ff2cff" stroke-width="0.9" />
<polyline points="707.3,141.3 707.8,142.02 708.3,142.75 708.8,143.5 709.3,144.27 709.8,145.06 710.3,145.86 710.8,146.68 711.3,147.51 711.8,148.36 712.3,149.22 712.8,150.1 713.3,150.99 713.8,151.89 714.3,152.8 714.8,153.73 715.3,154.67 715.8,155.62 716.3,156.58 716.8,157.56 717.3,158.57 717.8,159.59 718.3,160.63 718.8,161.69 719.3,162.78 719.8,163.87 720.3,164.99 720.8,166.12 721.3,167.27 721.8,168.44 722.3,169.61 722.8,170.81 723.3,172.01" fill="none" stroke="#ff2cff" stroke-width="0.9" />
<polyline points="575.5,20.21 575.75,19.39 576,20.85 576.25,20.98 576.5,19.56 576.75,18.74 577,18.99 577.25,17.54 577.5,19.63 577.75,19.41 578,16.84 578.25,19.79 578.5,17.62 578.75,18.54 579,17.31 579.25,16.91 579.5,17.81 579.75,15.66 580,16.35 580.25,15.14 580.5,16.89 580.75,15.95 581,15.74 581.25,15.4 581.5,16.54 581.75,16.03 582,15.41 582.25,15.06 582.5,17.24 582.75,16.84 583,14.14 583.25,16.33 583.5,15.58 583.75,15.29 584,15.32 584.25,13.6 584.5,17.04 584.75,16.58 585,14.73 585.25,14.66 585.5,14.74 585.75,14 586,14.97 586.25,14.44 586.5,13.56 586.75,14 587,13.84 587.25,13.84 587.5,14.01 587.75,14.7 588,13.9 588.25,13 588.5,15.19 588.75,13.7 589,15.15 589.25,14.27 589.5,14.48 589.75,13.48 590,14.14 590.25,13.81 590.5,14.04 590.75,14.41 591,13.81 591.25,14.66 591.5,13.11 591.75,13.35 592,14.4 592.25,14.46 592.5,14.84 592.75,15.22 593,14.43 593.25,14.65 593.5,14.32 593.75,14.26 594,14.1 594.25,14.25 594.5,13.82 594.75,14.09 595,14.73 595.25,14.54 595.5,14.98 595.75,13.93 596,14.02 596.25,14.54 596.5,13.72 596.75,13.71 597,14.69 597.25,14.11 597.5,14.86 597.75,14.39 598,14.08 598.25,13.72 598.5,15.14 598.75,14.37 599,13.9 599.25,13.55 599.5,13.74 599.75,14.29 600,15.32 600.25,14.05 600.5,14.82 600.75,14.81 601,12.7 601.25,13.98 601.5,15.29 601.75,13.59 602,15.56 602.25,14.93 602.5,13.95 602.75,16.15 603,14.99 603.25,16.07 603.5,15.29 603.75,14.75 604,15.94 604.25,16.4 604.5,16.14 604.75,14.68 605,15.84 605.25,14.79 605.5,15.19 605.75,16.43 606,14.78 606.25,17.24 606.5,14.8 606.75,15 607,16.31 607.25,15.76 607.5,15.84 607.75,15.4 608,16.48 608.25,16.21 608.5,16.06 608.75,15.66 609,15.28 609.25,16.24 609.5,14.94 609.75,15.93 610,16.77 610.25,16.86 610.5,16.22 610.75,14.92 611,16.91 611.25,17.17 611.5,16.7 611.75,17.51 612,17.41 612.25,15.77 612.5,16.72 612.75,16.61 613,17.94 613.25,17.68 613.5,17.13 613.75,17.46 614,17.71 614.25,16.77 614.5,17.15 614.75,17.25 615,17.1 615.25,17.21 615.5,17.61 615.75,16.7 616,16.84 616.25,18.11 616.5,18.63 616.75,18.9 617,16.67 617.25,18.06 617.5,17.35 617.75,17.59 618,17.85 618.25,18.29 618.5,18.45 618.75,16.62 619,17.82 619.25,18.94 619.5,18.39 619.75,17.35 620,17.8 620.25,17.97 620.5,19.18 620.75,19.71 621,17.96 621.25,19.04 621.5,18.59 621.75,19.19 622,18.74 622.25,18.24 622.5,18.6 622.75,18.66 623,20.06 623.25,18.72 623.5,19.61 623.75,18.79 624,18.96 624.25,19.59 624.5,19.15 624.75,20.83 625,20.48 625.25,18.99 625.5,20.1 625.75,20.8 626,19.14 626.25,19.71 626.5,20.99 626.75,19.58 627,20.58 627.25,20.19 627.5,20.43 627.75,19.72 628,20.4 628.25,20.24 628.5,21.71 628.75,21.07 629,20.8 629.25,20.78 629.5,21.3 629.75,19.91 630,20.36 630.25,20.48 630.5,20.63 630.75,20.15 631,21.61 631.25,21.05 631.5,22.23 631.75,21.42 632,21.32 632.25,21.92 632.5,21.98 632.75,21.59 633,22.22 633.25,22.73 633.5,21.7 633.75,22.89 634,22.01 634.25,22.76 634.5,22.25 634.75,22.1 635,22.61 635.25,21.77 635.5,21.53 635.75,22.61 636,22.56 636.25,22.06 636.5,24.23 636.75,23.2 637,22.54 637.25,23.42 637.5,23.51 637.75,22.98 638,23.16 638.25,22.18 638.5,23.61 638.75,24.76 639,24.36 639.25,24.37 639.5,23.39 639.75,23.15 640,24.5 640.25,24.2 640.5,23.96 640.75,23.96 641,24.87 641.25,24.74 641.5,24.1 641.75,24.41 642,23.46 642.25,23.87 642.5,25.11 642.75,24.51 643,24.32 643.25,25.17 643.5,25.92 643.75,24.58 644,25.01 644.25,25.14 644.5,27.08 644.75,26.19 645,25.76 645.25,24.68 645.5,26.27 645.75,26.23 646,25.78 646.25,25.48 646.5,25.78 646.75,25.02 647,26 647.25,26.04 647.5,25.81 647.75,26.31 648,25.51 648.25,27.53 648.5,26.7 648.75,26.06 649,27.55 649.25,27.5 649.5,26.83 649.75,26.33 650,27.33 650.25,27.82 650.5,28.04 650.75,28.35 651,28.4 651.25,26.78 651.5,28.06 651.75,26.68 652,28.89 652.25,28.58 652.5,29.09 652.75,28.51 653,28.59 653.25,28.29 653.5,26.71 653.75,28.76 654,30.97 654.25,30.11 654.5,29.08 654.75,29.61 655,29.81 655.25,29.14 655.5,29.7 655.75,30.08 656,29.55 656.25,30.41 656.5,31.13 656.75,30.94 657,30.63 657.25,30.4 657.5,31.23 657.75,30.36 658,30.4 658.25,32.04 658.5,30.86 658.75,30.21 659,32.09 659.25,32.11 659.5,32.57 659.75,31.72 660,32.85 660.25,31.95 660.5,31.37 660.75,32.18 661,32.66 661.25,31.71 661.5,32.58 661.75,33.07 662,32.65 662.25,33.2 662.5,33.25 662.75,32.75 663,33.83 663.25,34.18 663.5,32.18 663.75,33.43 664,34.82 664.25,34.66 664.5,32.85 664.75,34.78 665,35.92 665.25,35.63 665.5,35.7 665.75,35.11 666,35.43 666.25,34.54 666.5,35.69 666.75,37.8 667,35.97 667.25,35.36 667.5,36.76 667.75,34.71 668,38.6 668.25,37.33 668.5,36.73 668.75,36.8 669,36.49 669.25,37.55 669.5,37.65 669.75,36.42 670,38.82 670.25,37.8 670.5,37.31 670.75,39.28 671,39.28 671.25,38.28 671.5,38.38 671.75,40.12 672,38.95 672.25,39.67 672.5,40.9 672.75,38.75 673,38.66 673.25,39.44 673.5,39.87 673.75,40.6 674,41.66 674.25,40.56 674.5,42.7 674.75,41.54 675,39.7 675.25,41.69 675.5,42.58 675.75,43.13 676,41.65 676.25,42.41 676.5,44.79 676.75,43.05 677,42.25 677.25,41.89 677.5,43.11 677.75,44.07 678,42.89 678.25,45.43 678.5,43.64 678.75,42.75 679,45.4 679.25,45.03 679.5,44.99 679.6,44.92 679.85,43.39 680.1,44.92 680.35,44.01 680.6,46.4 680.85,45.11 681.1,45.42 681.35,46.28 681.6,45.93 681.85,46.76 682.1,46.39 682.35,47.57 682.6,47.33 682.85,47.05 683.1,48.5 683.35,48.74 683.6,47.52 683.85,48.63 684.1,47.57 684.35,49.74 684.6,50.85 684.85,52.85 685.1,51 685.35,52.16 685.6,52.97 685.85,52.56 686.1,50.2 686.35,52.05 686.6,53.3 686.85,53.65 687.1,53.88 687.35,53.2 687.6,52.57 687.85,55.42 688.1,56.71 688.35,55.37 688.6,56.94 688.85,56.19 689.1,57.06 689.35,57.02 689.6,59.02 689.85,57.52 690.1,59.15 690.35,60.44 690.6,59.82 690.85,58.88 691.1,61.12 691.35,60.89 691.6,60.03 691.85,61.69 692.1,61.95 692.35,63.39 692.6,62.52 692.85,63.58 693.1,64.56 693.35,62.03 693.6,65.8 693.85,65.08 694.1,64.29 694.35,66.04 694.6,67.54 694.85,65.93 695.1,66.53 695.35,69.29 695.6,70 695.85,70.98 696.1,69.12 696.35,68.42 696.6,68.9 696.85,70.17 697.1,69.85 697.35,72.12 697.6,73.65 697.85,71.29 698.1,74.96 698.35,72.52 698.6,73.3 698.85,72.95 699.1,76.11 699.35,75.6 699.6,76.25 699.85,73.04 700.1,76.46 700.35,78.11 700.6,74.7 700.85,81.25 701.1,79.65 701.35,81.16 701.6,79.85 701.85,81.94 702.1,82.94 702.35,85.13 702.6,80.92 702.85,85.55 703.1,81.89 703.35,84.04 703.6,83.82 703.85,84.62 704.1,82.77 704.35,85.48 704.6,84.77 704.85,86.62 705.1,87.76 705.35,88 705.6,88.29 705.85,90.84 706.1,89.91 706.35,90.79 706.6,92.33 706.85,90.9 707.1,91.65 707.35,92.95 707.4,85.24 707.65,87.84 707.9,85.69 708.15,86.76 708.4,87.34 708.65,87.57 708.9,88.49 709.15,88.32 709.4,86.1 709.65,91.63 709.9,89.86 710.15,92.03 710.4,89.92 710.65,92.83 710.9,90.59 711.15,95.15 711.4,93.31 711.65,93.35 711.9,90.22 712.15,91.6 712.4,94.8 712.65,95.11 712.9,95.64 713.15,96.33 713.4,99.16 713.65,97.55 713.9,98.08 714.15,98.06 714.4,98.07 714.65,100.94 714.9,100.19 715.15,100.82 715.4,102.47 715.65,102.64 715.9,104.41 716.15,104.91 716.4,102.05 716.65,103.45 716.9,107.01 717.15,105.28 717.4,107.61 717.65,105.56 717.9,103.42 718.15,104.4 718.4,107.63 718.65,108.68 718.9,114.25 719.15,112.01 719.4,112.53 719.65,113.55 719.9,109.55 720.15,113.21 720.4,113.52 720.65,117.99 720.9,113.64 721.15,112.82 721.4,116.33 721.65,116.46 721.9,117.64 722.15,118.54 722.4,119.04 722.65,118.14 722.9,119.16 723.15,125.21 723.4,120.1 723.65,122.99 723.9,120.66 724.15,119.89 724.4,125.82 724.65,125.1 724.9,128.09 725.15,128.26 725.4,127.33 725.65,125.99 725.9,132.26 726.15,129.13 726.4,134.21 726.65,131.96 726.9,133.17 727.15,133.33 727.4,133.79 727.65,133.16 727.9,139.42 728.15,133.28 728.4,132.73 728.65,137.47 728.9,136.22 729.15,140.62 729.4,138.91 729.65,142.75 729.9,141.19 730.15,140.07 730.4,141.92 730.65,145.06 730.9,142.93 731.15,143.27 731.4,145.58 731.65,147.54 731.9,150.5 732.15,149.5 732.4,151.35 732.65,149.77 732.9,155.39 733.15,157.07 733.4,151.26 733.65,154.24 733.9,154.24 734.15,156.17 734.4,155.55" fill="none" stroke="#000" stroke-width="1.7" stroke-linejoin="round"/>
<polyline points="575.6,19 576,24 576.6,17.5 577.4,22.5 578,17" fill="none" stroke="#000" stroke-width="1" />
<polyline points="706.8,90 707.2,97 707.6,80 708.4,86" fill="none" stroke="#000" stroke-width="1.2" />
<polyline points="679.2,45 679.6,48.5 680,42 680.6,45" fill="none" stroke="#000" stroke-width="1" />
<line x1="586.5" y1="15" x2="586.5" y2="27" stroke="#000" stroke-width="1.3" />
<line x1="582.6" y1="16" x2="582.6" y2="30" stroke="#000" stroke-width="1.2" />
<line x1="430.5" y1="130.7" x2="430.5" y2="147.9" stroke="#1a1aff" stroke-width="1.35" />
<circle cx="430.5" cy="138.6" r="1.7" fill="#1a1aff"/>
<line x1="431.5" y1="127" x2="431.5" y2="143.6" stroke="#1a1aff" stroke-width="1.35" />
<circle cx="431.5" cy="134.3" r="1.7" fill="#1a1aff"/>
<line x1="434.5" y1="119.4" x2="434.5" y2="128" stroke="#1a1aff" stroke-width="1.35" />
<circle cx="434.5" cy="123.7" r="1.7" fill="#1a1aff"/>
<line x1="437.5" y1="117.3" x2="437.5" y2="125.3" stroke="#1a1aff" stroke-width="1.35" />
<circle cx="437.5" cy="121.3" r="1.7" fill="#1a1aff"/>
<line x1="439.5" y1="122.4" x2="439.5" y2="128.8" stroke="#1a1aff" stroke-width="1.35" />
<circle cx="439.5" cy="125.6" r="1.7" fill="#1a1aff"/>
<line x1="441.5" y1="126.4" x2="441.5" y2="139.3" stroke="#1a1aff" stroke-width="1.35" />
<circle cx="441.5" cy="132.6" r="1.7" fill="#1a1aff"/>
<line x1="444.5" y1="107.5" x2="444.5" y2="114.5" stroke="#1a1aff" stroke-width="1.35" />
<circle cx="444.5" cy="111" r="1.7" fill="#1a1aff"/>
<line x1="447.5" y1="114.2" x2="447.5" y2="120.6" stroke="#1a1aff" stroke-width="1.35" />
<circle cx="447.5" cy="117.4" r="1.7" fill="#1a1aff"/>
<line x1="450.5" y1="117.6" x2="450.5" y2="123.6" stroke="#1a1aff" stroke-width="1.35" />
<circle cx="450.5" cy="120.6" r="1.7" fill="#1a1aff"/>
<line x1="452.5" y1="122.6" x2="452.5" y2="128.6" stroke="#1a1aff" stroke-width="1.35" />
<circle cx="452.5" cy="125.6" r="1.7" fill="#1a1aff"/>
<line x1="455.5" y1="121.2" x2="455.5" y2="126.2" stroke="#1a1aff" stroke-width="1.35" />
<circle cx="455.5" cy="123.7" r="1.7" fill="#1a1aff"/>
<line x1="458.5" y1="119.2" x2="458.5" y2="123.4" stroke="#1a1aff" stroke-width="1.35" />
<circle cx="458.5" cy="121.3" r="1.7" fill="#1a1aff"/>
<line x1="461.5" y1="115.6" x2="461.5" y2="119.2" stroke="#1a1aff" stroke-width="1.35" />
<circle cx="461.5" cy="117.4" r="1.7" fill="#1a1aff"/>
<line x1="465.5" y1="110.2" x2="465.5" y2="113.2" stroke="#1a1aff" stroke-width="1.35" />
<circle cx="465.5" cy="111.7" r="1.7" fill="#1a1aff"/>
<line x1="467.5" y1="110" x2="467.5" y2="112.6" stroke="#1a1aff" stroke-width="1.35" />
<circle cx="467.5" cy="111.3" r="1.7" fill="#1a1aff"/>
<line x1="472.5" y1="106" x2="472.5" y2="108" stroke="#1a1aff" stroke-width="1.35" />
<circle cx="472.5" cy="107" r="1.7" fill="#1a1aff"/>
<circle cx="474.55" cy="103.7" r="1.9" fill="#5050ff" fill-opacity="0.55"/>
<circle cx="477.85" cy="99.95" r="1.9" fill="#5050ff" fill-opacity="0.55"/>
<circle cx="481.15" cy="96.31" r="1.9" fill="#5050ff" fill-opacity="0.55"/>
<circle cx="484.45" cy="92.69" r="1.9" fill="#5050ff" fill-opacity="0.55"/>
<circle cx="487.75" cy="89.28" r="1.9" fill="#5050ff" fill-opacity="0.55"/>
<circle cx="491.05" cy="85.47" r="1.9" fill="#5050ff" fill-opacity="0.55"/>
<circle cx="494.35" cy="81.53" r="1.9" fill="#5050ff" fill-opacity="0.55"/>
<circle cx="497.65" cy="77.82" r="1.9" fill="#5050ff" fill-opacity="0.55"/>
<circle cx="500.95" cy="74.15" r="1.9" fill="#5050ff" fill-opacity="0.55"/>
<circle cx="504.25" cy="71.54" r="1.9" fill="#5050ff" fill-opacity="0.55"/>
<circle cx="507.55" cy="68.18" r="1.9" fill="#5050ff" fill-opacity="0.55"/>
<circle cx="510.85" cy="65.23" r="1.9" fill="#5050ff" fill-opacity="0.55"/>
<circle cx="514.15" cy="62.25" r="1.9" fill="#5050ff" fill-opacity="0.55"/>
<circle cx="517.45" cy="59.23" r="1.9" fill="#5050ff" fill-opacity="0.55"/>
<circle cx="520.75" cy="56.15" r="1.9" fill="#5050ff" fill-opacity="0.55"/>
<circle cx="524.05" cy="53.27" r="1.9" fill="#5050ff" fill-opacity="0.55"/>
<circle cx="527.35" cy="50.29" r="1.9" fill="#5050ff" fill-opacity="0.55"/>
<circle cx="530.65" cy="47.71" r="1.9" fill="#5050ff" fill-opacity="0.55"/>
<circle cx="533.95" cy="45.39" r="1.9" fill="#5050ff" fill-opacity="0.55"/>
<circle cx="537.25" cy="43.36" r="1.9" fill="#5050ff" fill-opacity="0.55"/>
<circle cx="540.55" cy="40.05" r="1.9" fill="#5050ff" fill-opacity="0.55"/>
<circle cx="543.85" cy="37.78" r="1.9" fill="#5050ff" fill-opacity="0.55"/>
<circle cx="547.15" cy="36.25" r="1.9" fill="#5050ff" fill-opacity="0.55"/>
<circle cx="550.45" cy="32.95" r="1.9" fill="#5050ff" fill-opacity="0.55"/>
<circle cx="553.75" cy="30.48" r="1.9" fill="#5050ff" fill-opacity="0.55"/>
<circle cx="557.05" cy="28.37" r="1.9" fill="#5050ff" fill-opacity="0.55"/>
<circle cx="560.35" cy="26.27" r="1.9" fill="#5050ff" fill-opacity="0.55"/>
<circle cx="563.65" cy="23.96" r="1.9" fill="#5050ff" fill-opacity="0.55"/>
<circle cx="566.95" cy="23.11" r="1.9" fill="#5050ff" fill-opacity="0.55"/>
<circle cx="570.25" cy="20.68" r="1.9" fill="#5050ff" fill-opacity="0.55"/>
<circle cx="573.55" cy="19.41" r="1.9" fill="#5050ff" fill-opacity="0.55"/>
<circle cx="576.85" cy="17.83" r="1.9" fill="#5050ff" fill-opacity="0.55"/>
<circle cx="580.15" cy="16.32" r="1.9" fill="#5050ff" fill-opacity="0.55"/>
<circle cx="583.45" cy="14.26" r="1.9" fill="#5050ff" fill-opacity="0.55"/>
<circle cx="587.3" cy="12.36" r="1.9" fill="#5050ff" fill-opacity="0.55"/>
<circle cx="592.75" cy="10.46" r="1.9" fill="#5050ff" fill-opacity="0.55"/>
<circle cx="599.5" cy="9.35" r="1.9" fill="#5050ff" fill-opacity="0.55"/>
<circle cx="606.25" cy="8.42" r="1.9" fill="#5050ff" fill-opacity="0.55"/>
<circle cx="613.25" cy="8" r="1.9" fill="#5050ff" fill-opacity="0.55"/>
<circle cx="621.25" cy="7.96" r="1.9" fill="#5050ff" fill-opacity="0.55"/>
<circle cx="629.75" cy="9.21" r="1.9" fill="#5050ff" fill-opacity="0.55"/>
<circle cx="638.75" cy="11.58" r="1.9" fill="#5050ff" fill-opacity="0.55"/>
<circle cx="649.25" cy="13.47" r="1.9" fill="#5050ff" fill-opacity="0.55"/>
<polyline points="430,130.6 433.3,130.6 433.3,129.73 436.6,129.73 436.6,128.73 439.9,128.73 439.9,127.7 443.2,127.7 443.2,126.62 446.5,126.62 446.5,125.36 449.8,125.36 449.8,123.88 453.1,123.88 453.1,121.93 456.4,121.93 456.4,119.07 459.7,119.07 459.7,116.01 463,116.01 463,112.95 466.3,112.95 466.3,109.85 469.6,109.85 469.6,106.91 472.9,106.91 472.9,103.85 476.2,103.85 476.2,100.28 479.5,100.28 479.5,96.4 482.8,96.4 482.8,92.62 486.1,92.62 486.1,88.91 489.4,88.91 489.4,85.25 492.7,85.25 492.7,81.59 496,81.59 496,77.96 499.3,77.96 499.3,74.54 502.6,74.54 502.6,71.28 505.9,71.28 505.9,68.09 509.2,68.09 509.2,64.99 512.5,64.99 512.5,61.97 515.8,61.97 515.8,59.01 519.1,59.01 519.1,56.13 522.4,56.13 522.4,53.3 525.7,53.3 525.7,50.54 529,50.54 529,47.84 532.3,47.84 532.3,45.21 535.6,45.21 535.6,42.64 538.9,42.64 538.9,40.12 542.2,40.12 542.2,37.66 545.5,37.66 545.5,35.25 548.8,35.25 548.8,32.87 552.1,32.87 552.1,30.54 555.4,30.54 555.4,28.32 558.7,28.32 558.7,26.3 562,26.3 562,24.49 565.3,24.49 565.3,22.82 568.6,22.82 568.6,21.17 571.9,21.17 571.9,19.55 575.2,19.55 575.2,17.93 578.5,17.93 578.5,16.16 581.8,16.16 581.8,14.3 585.1,14.3 585.1,12.47 589.5,12.47 589.5,10.7 596,10.7 596,9.26 603,9.26 603,8.5 609.5,8.5 609.5,8.2 617,8.2 617,8.35 625.5,8.35 625.5,9.46 634,9.46 634,11.53 643.5,11.53 643.5,13.94 655,13.94" fill="none" stroke="#ff0000" stroke-width="1.1" />
<polyline points="575.5,20 575.75,19.73 576,19.46 576.25,19.2 576.5,18.95 576.75,18.71 577,18.47 577.25,18.24 577.5,18.02 577.75,17.8 578,17.6 578.25,17.4 578.5,17.21 578.75,17.02 579,16.83 579.25,16.65 579.5,16.48 579.75,16.31 580,16.15 580.25,16 580.5,15.85 580.75,15.72 581,15.6 581.25,15.48 581.5,15.37 581.75,15.26 582,15.15 582.25,15.05 582.5,14.95 582.75,14.85 583,14.76 583.25,14.67 583.5,14.59 583.75,14.51 584,14.43 584.25,14.37 584.5,14.3 584.75,14.25 585,14.2 585.25,14.15 585.5,14.11 585.75,14.06 586,14.02 586.25,13.98 586.5,13.94 586.75,13.9 587,13.86 587.25,13.82 587.5,13.79 587.75,13.75 588,13.72 588.25,13.7 588.5,13.67 588.75,13.65 589,13.63 589.25,13.62 589.5,13.61 589.75,13.6 590,13.6 590.25,13.6 590.5,13.6 590.75,13.6 591,13.61 591.25,13.61 591.5,13.61 591.75,13.62 592,13.62 592.25,13.63 592.5,13.63 592.75,13.64 593,13.64 593.25,13.65 593.5,13.66 593.75,13.67 594,13.68 594.25,13.68 594.5,13.69 594.75,13.7 595,13.71 595.25,13.72 595.5,13.73 595.75,13.74 596,13.75 596.25,13.77 596.5,13.78 596.75,13.79 597,13.8 597.25,13.81 597.5,13.83 597.75,13.85 598,13.87 598.25,13.89 598.5,13.91 598.75,13.94 599,13.97 599.25,14 599.5,14.03 599.75,14.06 600,14.1 600.25,14.14 600.5,14.17 600.75,14.21 601,14.26 601.25,14.3 601.5,14.34 601.75,14.39 602,14.43 602.25,14.48 602.5,14.52 602.75,14.57 603,14.62 603.25,14.67 603.5,14.72 603.75,14.77 604,14.82 604.25,14.87 604.5,14.92 604.75,14.97 605,15.02 605.25,15.07 605.5,15.12 605.75,15.17 606,15.22 606.25,15.27 606.5,15.31 606.75,15.36 607,15.41 607.25,15.45 607.5,15.5 607.75,15.54 608,15.59 608.25,15.63 608.5,15.68 608.75,15.73 609,15.77 609.25,15.82 609.5,15.86 609.75,15.91 610,15.95 610.25,16 610.5,16.05 610.75,16.09 611,16.14 611.25,16.19 611.5,16.24 611.75,16.28 612,16.33 612.25,16.38 612.5,16.43 612.75,16.48 613,16.53 613.25,16.57 613.5,16.62 613.75,16.67 614,16.72 614.25,16.77 614.5,16.82 614.75,16.87 615,16.92 615.25,16.98 615.5,17.03 615.75,17.08 616,17.13 616.25,17.18 616.5,17.23 616.75,17.29 617,17.34 617.25,17.39 617.5,17.45 617.75,17.5 618,17.56 618.25,17.61 618.5,17.66 618.75,17.72 619,17.78 619.25,17.83 619.5,17.89 619.75,17.94 620,18 620.25,18.06 620.5,18.11 620.75,18.17 621,18.23 621.25,18.29 621.5,18.35 621.75,18.41 622,18.47 622.25,18.53 622.5,18.59 622.75,18.66 623,18.72 623.25,18.78 623.5,18.84 623.75,18.91 624,18.97 624.25,19.04 624.5,19.1 624.75,19.17 625,19.23 625.25,19.3 625.5,19.36 625.75,19.43 626,19.5 626.25,19.56 626.5,19.63 626.75,19.7 627,19.77 627.25,19.83 627.5,19.9 627.75,19.97 628,20.04 628.25,20.11 628.5,20.18 628.75,20.25 629,20.31 629.25,20.38 629.5,20.45 629.75,20.52 630,20.59 630.25,20.66 630.5,20.73 630.75,20.81 631,20.88 631.25,20.95 631.5,21.02 631.75,21.09 632,21.16 632.25,21.23 632.5,21.3 632.75,21.37 633,21.44 633.25,21.51 633.5,21.58 633.75,21.66 634,21.73 634.25,21.8 634.5,21.87 634.75,21.95 635,22.02 635.25,22.09 635.5,22.16 635.75,22.24 636,22.31 636.25,22.38 636.5,22.46 636.75,22.53 637,22.61 637.25,22.68 637.5,22.76 637.75,22.83 638,22.91 638.25,22.99 638.5,23.06 638.75,23.14 639,23.22 639.25,23.29 639.5,23.37 639.75,23.45 640,23.53 640.25,23.61 640.5,23.69 640.75,23.77 641,23.85 641.25,23.93 641.5,24.01 641.75,24.09 642,24.17 642.25,24.25 642.5,24.33 642.75,24.42 643,24.5 643.25,24.58 643.5,24.67 643.75,24.75 644,24.84 644.25,24.92 644.5,25.01 644.75,25.09 645,25.18 645.25,25.26 645.5,25.35 645.75,25.44 646,25.52 646.25,25.61 646.5,25.7 646.75,25.79 647,25.88 647.25,25.97 647.5,26.06 647.75,26.15 648,26.24 648.25,26.33 648.5,26.43 648.75,26.52 649,26.61 649.25,26.71 649.5,26.8 649.75,26.9 650,26.99 650.25,27.09 650.5,27.19 650.75,27.29 651,27.39 651.25,27.49 651.5,27.59 651.75,27.69 652,27.79 652.25,27.9 652.5,28 652.75,28.11 653,28.21 653.25,28.32 653.5,28.43 653.75,28.53 654,28.64 654.25,28.76 654.5,28.87 654.75,28.98 655,29.09 655.25,29.21 655.5,29.32 655.75,29.44 656,29.56 656.25,29.67 656.5,29.79 656.75,29.91 657,30.03 657.25,30.15 657.5,30.27 657.75,30.4 658,30.52 658.25,30.64 658.5,30.77 658.75,30.9 659,31.02 659.25,31.15 659.5,31.28 659.75,31.41 660,31.54 660.25,31.67 660.5,31.8 660.75,31.93 661,32.06 661.25,32.2 661.5,32.33 661.75,32.46 662,32.6 662.25,32.74 662.5,32.87 662.75,33.01 663,33.15 663.25,33.3 663.5,33.44 663.75,33.58 664,33.73 664.25,33.88 664.5,34.02 664.75,34.17 665,34.32 665.25,34.47 665.5,34.63 665.75,34.78 666,34.93 666.25,35.09 666.5,35.25 666.75,35.4 667,35.56 667.25,35.72 667.5,35.88 667.75,36.04 668,36.2 668.25,36.36 668.5,36.52 668.75,36.68 669,36.84 669.25,37.01 669.5,37.17 669.75,37.34 670,37.5 670.25,37.67 670.5,37.83 670.75,38 671,38.17 671.25,38.34 671.5,38.51 671.75,38.68 672,38.86 672.25,39.03 672.5,39.21 672.75,39.39 673,39.57 673.25,39.75 673.5,39.93 673.75,40.11 674,40.3 674.25,40.49 674.5,40.68 674.75,40.86 675,41.06 675.25,41.25 675.5,41.44 675.75,41.64 676,41.83 676.25,42.03 676.5,42.23 676.75,42.43 677,42.63 677.25,42.83 677.5,43.03 677.75,43.24 678,43.45 678.25,43.65 678.5,43.86 678.75,44.07 679,44.29 679.25,44.5 679.5,44.71 679.6,43.2 679.85,43.47 680.1,43.75 680.35,44.03 680.6,44.31 680.85,44.6 681.1,44.9 681.35,45.2 681.6,45.5 681.85,45.81 682.1,46.12 682.35,46.44 682.6,46.76 682.85,47.09 683.1,47.42 683.35,47.75 683.6,48.09 683.85,48.43 684.1,48.77 684.35,49.12 684.6,49.47 684.85,49.83 685.1,50.19 685.35,50.55 685.6,50.91 685.85,51.28 686.1,51.65 686.35,52.03 686.6,52.42 686.85,52.82 687.1,53.23 687.35,53.65 687.6,54.07 687.85,54.5 688.1,54.93 688.35,55.37 688.6,55.81 688.85,56.26 689.1,56.7 689.35,57.14 689.6,57.59 689.85,58.03 690.1,58.46 690.35,58.9 690.6,59.33 690.85,59.75 691.1,60.17 691.35,60.57 691.6,60.98 691.85,61.38 692.1,61.77 692.35,62.17 692.6,62.56 692.85,62.95 693.1,63.34 693.35,63.74 693.6,64.14 693.85,64.54 694.1,64.96 694.35,65.37 694.6,65.8 694.85,66.23 695.1,66.68 695.35,67.14 695.6,67.6 695.85,68.08 696.1,68.56 696.35,69.05 696.6,69.55 696.85,70.05 697.1,70.56 697.35,71.07 697.6,71.58 697.85,72.1 698.1,72.61 698.35,73.13 698.6,73.65 698.85,74.16 699.1,74.68 699.35,75.19 699.6,75.7 699.85,76.2 700.1,76.7 700.35,77.21 700.6,77.71 700.85,78.22 701.1,78.72 701.35,79.22 701.6,79.73 701.85,80.23 702.1,80.74 702.35,81.24 702.6,81.75 702.85,82.25 703.1,82.76 703.35,83.27 703.6,83.77 703.85,84.28 704.1,84.79 704.35,85.29 704.6,85.8 704.85,86.31 705.1,86.81 705.35,87.32 705.6,87.83 705.85,88.34 706.1,88.85 706.35,89.36 706.6,89.87 706.85,90.38 707.1,90.89 707.35,91.4 707.4,85 707.65,85.48 707.9,85.95 708.15,86.43 708.4,86.92 708.65,87.4 708.9,87.89 709.15,88.38 709.4,88.88 709.65,89.37 709.9,89.87 710.15,90.37 710.4,90.87 710.65,91.38 710.9,91.89 711.15,92.4 711.4,92.92 711.65,93.43 711.9,93.95 712.15,94.47 712.4,95 712.65,95.53 712.9,96.06 713.15,96.59 713.4,97.12 713.65,97.66 713.9,98.2 714.15,98.74 714.4,99.28 714.65,99.82 714.9,100.37 715.15,100.92 715.4,101.47 715.65,102.03 715.9,102.59 716.15,103.15 716.4,103.71 716.65,104.28 716.9,104.85 717.15,105.42 717.4,106 717.65,106.58 717.9,107.16 718.15,107.74 718.4,108.33 718.65,108.92 718.9,109.52 719.15,110.12 719.4,110.72 719.65,111.33 719.9,111.93 720.15,112.54 720.4,113.15 720.65,113.76 720.9,114.38 721.15,114.99 721.4,115.61 721.65,116.24 721.9,116.86 722.15,117.49 722.4,118.13 722.65,118.77 722.9,119.41 723.15,120.06 723.4,120.71 723.65,121.36 723.9,122.02 724.15,122.69 724.4,123.36 724.65,124.03 724.9,124.71 725.15,125.4 725.4,126.09 725.65,126.79 725.9,127.49 726.15,128.2 726.4,128.92 726.65,129.65 726.9,130.38 727.15,131.13 727.4,131.89 727.65,132.66 727.9,133.45 728.15,134.24 728.4,135.04 728.65,135.85 728.9,136.66 729.15,137.48 729.4,138.31 729.65,139.14 729.9,139.97 730.15,140.81 730.4,141.65 730.65,142.49 730.9,143.33 731.15,144.16 731.4,145 731.65,145.84 731.9,146.68 732.15,147.52 732.4,148.37 732.65,149.23 732.9,150.08 733.15,150.94 733.4,151.81 733.65,152.68 733.9,153.55 734.15,154.42 734.4,155.3" fill="none" stroke="#ff0000" stroke-width="1.3" />
<line x1="582.4" y1="14.99" x2="582.4" y2="47" stroke="#ff0000" stroke-width="1.4" />
<line x1="586.3" y1="13.97" x2="586.3" y2="26.3" stroke="#ff0000" stroke-width="1.2" />
<line x1="632.6" y1="21.33" x2="632.6" y2="24" stroke="#ff0000" stroke-width="1" />
<line x1="652.7" y1="28.08" x2="652.7" y2="30.5" stroke="#ff0000" stroke-width="1" />
<line x1="674.2" y1="40.45" x2="674.2" y2="48.8" stroke="#ff0000" stroke-width="1.2" />
<line x1="699.6" y1="75.7" x2="699.6" y2="87" stroke="#ff0000" stroke-width="1.2" />
<line x1="729" y1="136.99" x2="729" y2="144" stroke="#ff0000" stroke-width="1.5" />
</g>
<g id="right-ratio">
<polyline points="577,208.3 577.2,208.17 577.4,210.33 577.6,206.51 577.8,205.87 578,207.65 578.2,207.02 578.4,202.4 578.6,210.22 578.8,208.22 579,207.99 579.2,206.01 579.4,208.4 579.6,207.04 579.8,210.89 580,209.03 580.2,210.51 580.4,205.01 580.6,205.71 580.8,206.64 581,206.2 581.2,210.77 581.4,208.18 581.6,204.9 581.8,205.94 582,209.65 582.2,204.62 582.4,205.9 582.6,200.47 582.8,202.24 583,202.45 583.2,201.63 583.4,201.53 583.6,201.95 583.8,203.62 584,197.66 584.2,201.4 584.4,202.75 584.6,201.79 584.8,203.69 585,201.07 585.2,200.46 585.4,199.67 585.6,203.26 585.8,198.74 586,200.52 586.2,201.33 586.4,202.71 586.6,200.84 586.8,199.52 587,202.67 587.2,199.12 587.4,199.98 587.6,197.35 587.8,201.86 588,201.8 588.2,197.92 588.4,201.05 588.6,202.68 588.8,200.16 589,198.1 589.2,201.36 589.4,202.83 589.6,197.74 589.8,203.35 590,201.47 590.2,203.61 590.4,199.67 590.6,203.84 590.8,202.68 591,203.74 591.2,202.38 591.4,204.37 591.6,202.09 591.8,201.65 592,200.52 592.2,199.61 592.4,203.01 592.6,202.33 592.8,202.89 593,202.67 593.2,203.92 593.4,203.49 593.6,202.51 593.8,204.87 594,207.13 594.2,202.48 594.4,203.3 594.6,204.88 594.8,203.15 595,205.7 595.2,203.39 595.4,202.76 595.6,203.14 595.8,205.58 596,202 596.2,204.48 596.4,201.87 596.6,205.2 596.8,204.81 597,205.13 597.2,206.85 597.4,204.31 597.6,205.75 597.8,205.11 598,205.65 598.2,203.58 598.4,205.76 598.6,204.11 598.8,206.2 599,205.59 599.2,204.59 599.4,205.22 599.6,205.16 599.8,204.82 600,207.67 600.2,203.6 600.4,202.98 600.6,203.03 600.8,204.29 601,204.53 601.2,205.39 601.4,205.75 601.6,204.89 601.8,204.78 602,203.52 602.2,205.79 602.4,206.23 602.6,204.49 602.8,205.47 603,203.89 603.2,204.61 603.4,204.76 603.6,205.65 603.8,202.94 604,204.72 604.2,205.69 604.4,205.04 604.6,205.42 604.8,201.7 605,203.61 605.2,204.12 605.4,203.72 605.6,201.85 605.8,205.85 606,204.88 606.2,202.29 606.4,204 606.6,204.61 606.8,205.7 607,205.35 607.2,203.36 607.4,203.78 607.6,204.82 607.8,205.72 608,204.02 608.2,203.79 608.4,205.23 608.6,204.7 608.8,206.16 609,205.11 609.2,205.72 609.4,202.19 609.6,202.91 609.8,202.7 610,203.7 610.2,204.93 610.4,204.18 610.6,205.11 610.8,203.59 611,205.67 611.2,205.51 611.4,202.42 611.6,203.21 611.8,203.74 612,205.46 612.2,205.41 612.4,206.63 612.6,202.66 612.8,204.73 613,204.45 613.2,204.12 613.4,204.29 613.6,201.96 613.8,204.81 614,203.94 614.2,202.93 614.4,206.15 614.6,203.61 614.8,204.73 615,203.6 615.2,202.56 615.4,203.88 615.6,204.82 615.8,203.22 616,205.05 616.2,206.52 616.4,205.9 616.6,204.08 616.8,203.49 617,205.58 617.2,202.77 617.4,203.21 617.6,206.59 617.8,204.96 618,205.1 618.2,204.16 618.4,207.99 618.6,208.37 618.8,204.36 619,205.57 619.2,204.21 619.4,205.14 619.6,206.22 619.8,206.16 620,204.3 620.2,205.1 620.4,208.1 620.6,205.8 620.8,206.39 621,205.33 621.2,204.5 621.4,203.27 621.6,203.42 621.8,202.56 622,203.28 622.2,203.54 622.4,205.53 622.6,202.56 622.8,205.15 623,202.18 623.2,207.87 623.4,203.91 623.6,204.82 623.8,206.82 624,204.39 624.2,204.75 624.4,204.81 624.6,205.33 624.8,204.01 625,206.83 625.2,206.07 625.4,204.81 625.6,206.17 625.8,204.51 626,203.98 626.2,204.51 626.4,205.23 626.6,202.7 626.8,204.23 627,205.21 627.2,203.25 627.4,205.05 627.6,203.25 627.8,204.89 628,204.54 628.2,205.07 628.4,203.71 628.6,202.14 628.8,201.35 629,209.34 629.2,202.76 629.4,203.51 629.6,202.52 629.8,206.37 630,205.53 630.2,205.7 630.4,203.17 630.6,205.91 630.8,203.65 631,206.19 631.2,204.5 631.4,201.68 631.6,204.47 631.8,203.49 632,207.69 632.2,202.91 632.4,204.22 632.6,204.23 632.8,203.52 633,203.65 633.2,204.52 633.4,205.03 633.6,204.04 633.8,204.24 634,204.58 634.2,203.36 634.4,204.27 634.6,204.62 634.8,205.9 635,205.45 635.2,205.21 635.4,205.75 635.6,203.57 635.8,206.03 636,204.1 636.2,204.39 636.4,204.04 636.6,205.41 636.8,203.74 637,205.32 637.2,204.11 637.4,203.91 637.6,205.07 637.8,203.46 638,206.09 638.2,203.63 638.4,203.93 638.6,206.09 638.8,202.64 639,205.7 639.2,204.63 639.4,204.66 639.6,204.79 639.8,203.37 640,206.65 640.2,205.23 640.4,205.38 640.6,205.58 640.8,205.78 641,204.93 641.2,203.32 641.4,202.87 641.6,202.78 641.8,203.94 642,205.81 642.2,202.84 642.4,204.07 642.6,205.28 642.8,204.07 643,204.17 643.2,203.12 643.4,204.72 643.6,203.75 643.8,203.59 644,203.97 644.2,204.97 644.4,205.75 644.6,203 644.8,205.13 645,203.06 645.2,202.08 645.4,203.63 645.6,204.56 645.8,204.42 646,204.98 646.2,201.88 646.4,206.3 646.6,205.56 646.8,205.36 647,202.44 647.2,205.09 647.4,203.85 647.6,203.88 647.8,204.53 648,202.44 648.2,205.92 648.4,205.84 648.6,205.56 648.8,206.34 649,202.33 649.2,204.15 649.4,204.09 649.6,202.92 649.8,205.59 650,207.85 650.2,203.17 650.4,205.3 650.6,204.64 650.8,204.75 651,204.68 651.2,205.46 651.4,203.69 651.6,203.99 651.8,206.79 652,204.55 652.2,204.52 652.4,202.1 652.6,205.18 652.8,205.38 653,204.9 653.2,206.73 653.4,201.68 653.6,205.77 653.8,202.15 654,202.96 654.2,201.58 654.4,205.66 654.6,204.26 654.8,203.79 655,204.48 655.2,201.28 655.4,203.48 655.6,204.69 655.8,203.48 656,204.27 656.2,201.95 656.4,204.61 656.6,203.88 656.8,204.68 657,206.77 657.2,204.44 657.4,203.37 657.6,204.92 657.8,202.53 658,206.91 658.2,204.29 658.4,204.3 658.6,205.07 658.8,202.22 659,204.22 659.2,203.87 659.4,207.78 659.6,206.62 659.8,207.27 660,204.29 660.2,204.46 660.4,205.99 660.6,203.04 660.8,202.62 661,206.86 661.2,205 661.4,204.99 661.6,201.2 661.8,203.42 662,203.34 662.2,202.91 662.4,204.72 662.6,202.51 662.8,202.04 663,207.63 663.2,205 663.4,202.28 663.6,207.99 663.8,205.17 664,204.8 664.2,199.2 664.4,206.92 664.6,204.5 664.8,206.49 665,207.41 665.2,201.81 665.4,207.74 665.6,205.82 665.8,204.46 666,199.89 666.2,208.02 666.4,204.89 666.6,205.46 666.8,201.97 667,205.45 667.2,205.38 667.4,207.2 667.6,202.44 667.8,199.96 668,203.03 668.2,202.26 668.4,204.77 668.6,203.9 668.8,204.64 669,206.79 669.2,207.64 669.4,204.33 669.6,200.96 669.8,204.17 670,203.76 670.2,203.99 670.4,203.84 670.6,204.08 670.8,199.54 671,205.26 671.2,205.15 671.4,204.79 671.6,203.81 671.8,205.95 672,200.45 672.2,203.8 672.4,205.26 672.6,203.03 672.8,203.83 673,206.16 673.2,203.6 673.4,202.05 673.6,202.91 673.8,204.74 674,201.67 674.2,203.97 674.4,203.05 674.6,204.06 674.8,205.58 675,205.53 675.2,204.07 675.4,204.42 675.6,205.64 675.8,202.2 676,204.26 676.2,201.38 676.4,206.66 676.6,204.14 676.8,201.06 677,202.85 677.2,205.59 677.4,204.54 677.6,200.22 677.8,207.84 678,204.43 678.2,204.77 678.4,203.23 678.6,202.1 678.8,200.53 679,204.28 679.2,203.88 679.4,203.34 679.6,205.64 679.8,204.65 680,201.59 680.2,202.99 680.4,206.48 680.6,200.76 680.8,208.81 681,202.66 681.2,209.85 681.4,204.96 681.6,200.24 681.8,204.98 682,204.14 682.2,202.95 682.4,204.06 682.6,204.07 682.8,196.35 683,205.66 683.2,203.26 683.4,203.98 683.6,205.6 683.8,203.91 684,201.03 684.2,205.86 684.4,203.16 684.6,204.48 684.8,202.21 685,203.54 685.2,201.55 685.4,207.67 685.6,201.38 685.8,206.22 686,199.41 686.2,204.52 686.4,203.22 686.6,206.28 686.8,204.47 687,209.41 687.2,211.02 687.4,202.58 687.6,205.59 687.8,201.59 688,201.54 688.2,203.76 688.4,206.08 688.6,205.51 688.8,203.46 689,206.67 689.2,201 689.4,201.68 689.6,203.72 689.8,199.4 690,207.26 690.2,203.58 690.4,203.08 690.6,205.01 690.8,200.56 691,203.63 691.2,199.65 691.4,203.51 691.6,204.23 691.8,207.95 692,203.95 692.2,207.35 692.4,203.89 692.6,199.81 692.8,205.84 693,204.1 693.2,202.43 693.4,206.28 693.6,201.2 693.8,202.91 694,205.7 694.2,206.06 694.4,202.2 694.6,204.65 694.8,204.08 695,205.47 695.2,203.27 695.4,198.39 695.6,202.9 695.8,207.77 696,201.68 696.2,203.32 696.4,205.99 696.6,203.25 696.8,201.02 697,203.76 697.2,203.32 697.4,201.56 697.6,203.41 697.8,200.19 698,199.72 698.2,200.85 698.4,203.32 698.6,203.82 698.8,202.22 699,206.67 699.2,205.38 699.4,203.94 699.6,206.8 699.8,207.74 700,205.68 700.2,202.32 700.4,206.06 700.6,206.95 700.8,204.92 701,203.52 701.2,204.54 701.4,204.71 701.6,198.93 701.8,208.02 702,203.93 702.2,209.11 702.4,203.98 702.6,201.64 702.8,206.01 703,204.02 703.2,206.17 703.4,202.61 703.6,202.55 703.8,201.93 704,201.91 704.2,204.89 704.4,200.32 704.6,204.22 704.8,206.67 705,201.11 705.2,203.09 705.4,201.57 705.6,202.62 705.8,204.06 706,205.56 706.2,206.08 706.4,201.79 706.6,205.5 706.8,201.89 707,200.39 707.2,200.89 707.4,198.13 707.6,203.67 707.8,198.36 708,204.1 708.2,211.04 708.4,200.89 708.6,197.54 708.8,204.58 709,200.51 709.2,203.39 709.4,203.49 709.6,204.16 709.8,210.15 710,204.42 710.2,204.28 710.4,203.24 710.6,201.38 710.8,201.68 711,200.41 711.2,206.09 711.4,203.07 711.6,205.53 711.8,204.53 712,210.24 712.2,203.28 712.4,205.43 712.6,201.74 712.8,207.08 713,203 713.2,203.72 713.4,199.43 713.6,205.32 713.8,208.73 714,207.79 714.2,200.28 714.4,206.38 714.6,201.45 714.8,198.52 715,199.75 715.2,207.56 715.4,202.65 715.6,199.8 715.8,204.74 716,204.67 716.2,202.64 716.4,205.18 716.6,202.42 716.8,207.57 717,206.09 717.2,203.39 717.4,204.74 717.6,206.5 717.8,203.22 718,205.26 718.2,203.14 718.4,202.45 718.6,197.2 718.8,199.35 719,200.09 719.2,203.6 719.4,212.17 719.6,200.21 719.8,201.87 720,198.99 720.2,201.94 720.4,202.41 720.6,205.46 720.8,198.31 721,204.69 721.2,203.76 721.4,201.81 721.6,198.48 721.8,199.05 722,201.94 722.2,204.57 722.4,202.15 722.6,199.79 722.8,203.39 723,198.65 723.2,205.09 723.4,212.81 723.6,200.06 723.8,205.94 724,198.44 724.2,202.33 724.4,203.98 724.6,206.54 724.8,201.97 725,207.09 725.2,196.73 725.4,200.83 725.6,201.59 725.8,201.92 726,200.98 726.2,209.13 726.4,199.78 726.6,205.62 726.8,203.11 727,210.07 727.2,200.25 727.4,204.3 727.6,203.65 727.8,186.72 728,202.84 728.2,205.69 728.4,207.93 728.6,195.98 728.8,199.91 729,206.55 729.2,195.44 729.4,196.86 729.6,203.49 729.8,203.92 730,207.09 730.2,206.04 730.4,201.5 730.6,195.17 730.8,197.09 731,200.29 731.2,202.17 731.4,200.47 731.6,204.3 731.8,196.17 732,197.8 732.2,193.14 732.4,210.69 732.6,199.05 732.8,205.18 733,206.75 733.2,201.75 733.4,198.73 733.6,196.91 733.8,198.18 734,189.81 734.2,196.56 734.4,203.9 734.6,201.24" fill="none" stroke="#000" stroke-width="1.5" stroke-linejoin="round"/>
<polyline points="577.1,211.06 577.4,210.93 577.7,210.6 578,208.61 578.3,208.83 578.6,211.2 578.9,206.94 579.2,203.67 579.5,210.8 579.8,208.14 580.1,211.52 580.4,205.81 580.7,202.49 581,207.31 581.3,205.73 581.6,204.33 581.9,211.61 582.2,206.55 582.5,200.84 582.8,198.52 583.1,202.49 583.4,203.82 583.7,202.52 584,205.45 584.3,202.72 584.6,203.24 584.9,195.48 585.2,205.93 585.5,199.96 585.8,204.83 586.1,196.73 586.4,198.87 586.7,205.72 587,197.83 587.3,202.46 587.6,200.66 587.9,207.65 588.2,203.25 588.5,206.25 588.8,201.93 589.1,196.51 589.4,208.75 589.7,200.24 590,202.3 590.3,202.17 590.6,197.29 590.9,204.93 591.2,201.49 591.5,197.13 591.8,198.17 592.1,195.81 592.4,200.85 592.7,202.84 593,200.78 593.3,203.59 593.6,202.88 593.9,205.29 594.2,204.11 594.5,203.86 594.8,202.57 595.1,201.94 595.4,202.63 595.7,205.21 596,203.59 596.3,207.15 596.6,205.97 596.9,201.98 597.2,205.29 597.5,206.75 597.8,203.28 598.1,206.73 598.4,203.13 598.7,207.39 599,205.47 599.3,204.06 599.6,201.4 599.9,204.27 600.2,203.08 600.5,205.16 600.8,202.84 601.1,205.36 601.4,203.59 601.7,205.56 602,206.01 602.3,204.81 602.6,205.41 602.9,206.53 603.2,202.72 603.5,205.61 603.8,204.96 604.1,207.49 604.4,204.17 604.7,206.33 605,201.35 605.3,206.84 605.6,205.3 605.9,205.23 606.2,206.19 606.5,202.16 606.8,204.1 607.1,204.67 607.4,203.94 607.7,203.55 608,206.32 608.3,204.58 608.6,204.07 608.9,204.6 609.2,207 609.5,208.02 609.8,206.57 610.1,205.47 610.4,202 610.7,203.46 611,202.77 611.3,202.75 611.6,206.78 611.9,203.39 612.2,207.13 612.5,204.74 612.8,204.28 613.1,204.15 613.4,201.84 613.7,203.76 614,206.15 614.3,205.84 614.6,204.84 614.9,205.84 615.2,204.84 615.5,205.31 615.8,209.11 616.1,204.82 616.4,201.26 616.7,200.54 617,203.16 617.3,204.96 617.6,206.43 617.9,204.51 618.2,204.82 618.5,205.71 618.8,202.7 619.1,204.48 619.4,205.2 619.7,203.81 620,202.98 620.3,205.58 620.6,206.68 620.9,204.71 621.2,200.08 621.5,203.06 621.8,203.75 622.1,205.4 622.4,203.65 622.7,203.73 623,206.43 623.3,206.97 623.6,204.7 623.9,202.43 624.2,202.19 624.5,205.76 624.8,203.02 625.1,204.47 625.4,204.15 625.7,204.8 626,205.16 626.3,202.52 626.6,203.26 626.9,204.86 627.2,204.55 627.5,201.88 627.8,208.2 628.1,201.8 628.4,206.52 628.7,201.34 629,206.37 629.3,201.06 629.6,206.26 629.9,204.82 630.2,206.03 630.5,203.03 630.8,204.99 631.1,204.96 631.4,204.8 631.7,203.4 632,207.13 632.3,200.95 632.6,201.48 632.9,201.62 633.2,207.27 633.5,202.75 633.8,203.05 634.1,203.06 634.4,203.86 634.7,203.98 635,203.53 635.3,201.51 635.6,205.31 635.9,204.49 636.2,207.47 636.5,205.32 636.8,204.35 637.1,201.68 637.4,204.67 637.7,205.69 638,207.8 638.3,205.3 638.6,206.1 638.9,205.71 639.2,207.75 639.5,206.79 639.8,204.64 640.1,201.67 640.4,207.77 640.7,204.72 641,202.95 641.3,201.68 641.6,201.02 641.9,205.06 642.2,204.21 642.5,205.16 642.8,206.97 643.1,203.32 643.4,205.13 643.7,203.48 644,202.81 644.3,200.08 644.6,202.98 644.9,206.72 645.2,203.52 645.5,205.16 645.8,204.8 646.1,208.63 646.4,207.51 646.7,203.28 647,203.71 647.3,206.88 647.6,205.07 647.9,204.81 648.2,206.97 648.5,205.76 648.8,204.93 649.1,210.76 649.4,205.46 649.7,201.93 650,205.32 650.3,205.19 650.6,208.13 650.9,205.33 651.2,203.32 651.5,205.42 651.8,202.01 652.1,203.83 652.4,205.38 652.7,202.73 653,200.14 653.3,202.26 653.6,202.74 653.9,205.83 654.2,203.45 654.5,204.35 654.8,202.32 655.1,204.64 655.4,203 655.7,205.79 656,205 656.3,207.9 656.6,205.83 656.9,203.62 657.2,202.26 657.5,204.9 657.8,206.19 658.1,208.25 658.4,202.95 658.7,200.98 659,199.64 659.3,201.72 659.6,203.77 659.9,203.54 660.2,203.42 660.5,204.11 660.8,205.1 661.1,199.69 661.4,204.3 661.7,203.71 662,203.66 662.3,202.93 662.6,198.93 662.9,205.41 663.2,202.75 663.5,203.74 663.8,204.95 664.1,204.18 664.4,205.25 664.7,205.29 665,201.35 665.3,200.69 665.6,206.44 665.9,201.73 666.2,210.47 666.5,200.7 666.8,204.49 667.1,203.78 667.4,204.79 667.7,201.1 668,204.96 668.3,210.13 668.6,202.22 668.9,197 669.2,205.94 669.5,205.22 669.8,206.03 670.1,201.29 670.4,205.21 670.7,206.74 671,202.28 671.3,204.02 671.6,205.55 671.9,206.32 672.2,203.06 672.5,204.49 672.8,210.53 673.1,210.66 673.4,200.26 673.7,211.22 674,202.51 674.3,207.43 674.6,199.56 674.9,203.1 675.2,201.52 675.5,206.58 675.8,204.46 676.1,205.25 676.4,205.1 676.7,204.41 677,206.91 677.3,204.11 677.6,203.38 677.9,201.43 678.2,200.47 678.5,201.75 678.8,204.94 679.1,207.26 679.4,203.18 679.7,210.75 680,208.08 680.3,203.74 680.6,204.86 680.9,203.51 681.2,196.93 681.5,206.54 681.8,204.35 682.1,197.43 682.4,206.77 682.7,201.48 683,202.66 683.3,197.18 683.6,203.37 683.9,205.08 684.2,201.91 684.5,203.44 684.8,196.39 685.1,205.42 685.4,203.24 685.7,203.26 686,205.94 686.3,207.31 686.6,203.09 686.9,206.83 687.2,210.37 687.5,199.2 687.8,203.7 688.1,197.09 688.4,204.66 688.7,208.62 689,202.77 689.3,198.83 689.6,201.18 689.9,204.88 690.2,197.39 690.5,197.72 690.8,205.07 691.1,197.88 691.4,203.52 691.7,199 692,196.86 692.3,206.44 692.6,207.72 692.9,200.08 693.2,212.47 693.5,203.87 693.8,205.37 694.1,203.99 694.4,198.9 694.7,207.47 695,203.89 695.3,205.38 695.6,203.94 695.9,201.73 696.2,212.93 696.5,205.15 696.8,202.41 697.1,206.09 697.4,198.37 697.7,204.85 698,214.51 698.3,200.56 698.6,205.38 698.9,198.45 699.2,203.47 699.5,207.97 699.8,199.09 700.1,199.43 700.4,208.17 700.7,204.41 701,206.08 701.3,205.52 701.6,197.85 701.9,196.07 702.2,195.29 702.5,205.34 702.8,197.22 703.1,195.68 703.4,200.83 703.7,202.55 704,204.29 704.3,195.4 704.6,208.81 704.9,199.09 705.2,203.74 705.5,202.9 705.8,198.78 706.1,204.83 706.4,204.58 706.7,208.05 707,211.57 707.3,212.6 707.6,207.34 707.9,206.16 708.2,201.49 708.5,196.31 708.8,205.02 709.1,200.46 709.4,201.86 709.7,200.87 710,205.02 710.3,201.19 710.6,214.16 710.9,207.15 711.2,200.68 711.5,204.81 711.8,209.71 712.1,197.39 712.4,204.09 712.7,200.52 713,203.35 713.3,200.67 713.6,203.92 713.9,205.28 714.2,206.11 714.5,195.74 714.8,206.51 715.1,203.17 715.4,199.86 715.7,202.73 716,211.1 716.3,202.22 716.6,198.59 716.9,206.63 717.2,201.99 717.5,206.66 717.8,204.43 718.1,210.16 718.4,199.88 718.7,201.05 719,208.81 719.3,212.07 719.6,204.19 719.9,209.54 720.2,205.56 720.5,202.97 720.8,193.85 721.1,214.19 721.4,209.03 721.7,190.08 722,206.82 722.3,199.07 722.6,196.6 722.9,198.97 723.2,206.2 723.5,201.61 723.8,200.61 724.1,200.74 724.4,199.33 724.7,204.77 725,188.79 725.3,192.97 725.6,200.16 725.9,193.53 726.2,202.06 726.5,198.42 726.8,203.46 727.1,199.58 727.4,204.8 727.7,200.55 728,205.69 728.3,197.93 728.6,187.61 728.9,200.43 729.2,200.45 729.5,196.48 729.8,207.83 730.1,204.17 730.4,212.13 730.7,197.08 731,196.84 731.3,204.05 731.6,212.05 731.9,194.06 732.2,203.85 732.5,199.4 732.8,197.02 733.1,207.39 733.4,207.11 733.7,205.65 734,193.58 734.3,199.33" fill="none" stroke="#000" stroke-width="0.9" stroke-linejoin="round"/>
<polyline points="575.9,212 576.2,218.8 576.5,213" fill="none" stroke="#000" stroke-width="1" />
<polyline points="706.6,204 707,190 707.4,226.3 707.9,196 708.3,210" fill="none" stroke="#000" stroke-width="1.1" />
<polyline points="679.4,203 679.8,214.5 680.2,203" fill="none" stroke="#000" stroke-width="1" />
<line x1="430.5" y1="204.6" x2="480" y2="204.6" stroke="#333" stroke-width="0.8" stroke-dasharray="3.2 2.6"/>
<line x1="429.5" y1="207.5" x2="429.5" y2="229.95" stroke="#1818ff" stroke-width="1.35" />
<path d="M429.5 225.1l1.9 1.9l-1.9 1.9l-1.9 -1.9z" fill="#1818ff"/>
<line x1="432.5" y1="207.5" x2="432.5" y2="229.95" stroke="#1818ff" stroke-width="1.35" />
<path d="M432.5 214.4l1.9 1.9l-1.9 1.9l-1.9 -1.9z" fill="#1818ff"/>
<line x1="435.5" y1="173.55" x2="435.5" y2="195" stroke="#1818ff" stroke-width="1.35" />
<path d="M435.5 185.1l1.9 1.9l-1.9 1.9l-1.9 -1.9z" fill="#1818ff"/>
<line x1="437.5" y1="173.55" x2="437.5" y2="188.8" stroke="#1818ff" stroke-width="1.35" />
<path d="M437.5 175.6l1.9 1.9l-1.9 1.9l-1.9 -1.9z" fill="#1818ff"/>
<line x1="439.5" y1="186.3" x2="439.5" y2="217.5" stroke="#1818ff" stroke-width="1.35" />
<path d="M439.5 200.6l1.9 1.9l-1.9 1.9l-1.9 -1.9z" fill="#1818ff"/>
<line x1="442.5" y1="202.5" x2="442.5" y2="229.95" stroke="#1818ff" stroke-width="1.35" />
<path d="M442.5 216.4l1.9 1.9l-1.9 1.9l-1.9 -1.9z" fill="#1818ff"/>
<line x1="447.5" y1="173.8" x2="447.5" y2="191.3" stroke="#1818ff" stroke-width="1.35" />
<path d="M447.5 175.1l1.9 1.9l-1.9 1.9l-1.9 -1.9z" fill="#1818ff"/>
<line x1="450.5" y1="186.3" x2="450.5" y2="206.3" stroke="#1818ff" stroke-width="1.35" />
<path d="M450.5 194.4l1.9 1.9l-1.9 1.9l-1.9 -1.9z" fill="#1818ff"/>
<line x1="453.5" y1="207.5" x2="453.5" y2="223.8" stroke="#1818ff" stroke-width="1.35" />
<path d="M453.5 213.9l1.9 1.9l-1.9 1.9l-1.9 -1.9z" fill="#1818ff"/>
<line x1="455.5" y1="208" x2="455.5" y2="220.5" stroke="#1818ff" stroke-width="1.35" />
<path d="M455.5 212.6l1.9 1.9l-1.9 1.9l-1.9 -1.9z" fill="#1818ff"/>
<line x1="458.5" y1="207.5" x2="458.5" y2="218.8" stroke="#1818ff" stroke-width="1.35" />
<path d="M458.5 211.9l1.9 1.9l-1.9 1.9l-1.9 -1.9z" fill="#1818ff"/>
<line x1="462.5" y1="202.5" x2="462.5" y2="213.8" stroke="#1818ff" stroke-width="1.35" />
<path d="M462.5 206.1l1.9 1.9l-1.9 1.9l-1.9 -1.9z" fill="#1818ff"/>
<line x1="465.5" y1="196.3" x2="465.5" y2="205" stroke="#1818ff" stroke-width="1.35" />
<path d="M465.5 198.1l1.9 1.9l-1.9 1.9l-1.9 -1.9z" fill="#1818ff"/>
<line x1="468.5" y1="206.3" x2="468.5" y2="212.5" stroke="#1818ff" stroke-width="1.35" />
<path d="M468.5 207.6l1.9 1.9l-1.9 1.9l-1.9 -1.9z" fill="#1818ff"/>
<line x1="472.5" y1="203.8" x2="472.5" y2="210" stroke="#1818ff" stroke-width="1.35" />
<path d="M472.5 205.1l1.9 1.9l-1.9 1.9l-1.9 -1.9z" fill="#1818ff"/>
<line x1="475.5" y1="203.5" x2="475.5" y2="208" stroke="#1818ff" stroke-width="1.35" />
<path d="M475.5 203.9l1.9 1.9l-1.9 1.9l-1.9 -1.9z" fill="#1818ff"/>
<line x1="477.5" y1="204.99" x2="477.5" y2="207.59" stroke="#1818ff" stroke-width="1" />
<line x1="480.3" y1="205.6" x2="480.3" y2="208.2" stroke="#1818ff" stroke-width="1" />
<line x1="483.1" y1="204.03" x2="483.1" y2="206.63" stroke="#1818ff" stroke-width="1" />
<line x1="485.9" y1="202.6" x2="485.9" y2="205.2" stroke="#1818ff" stroke-width="1" />
<line x1="488.7" y1="202.33" x2="488.7" y2="204.93" stroke="#1818ff" stroke-width="1" />
<line x1="491.5" y1="201" x2="491.5" y2="203.6" stroke="#1818ff" stroke-width="1" />
<line x1="494.3" y1="201.35" x2="494.3" y2="203.95" stroke="#1818ff" stroke-width="1" />
<line x1="497.1" y1="201.47" x2="497.1" y2="204.07" stroke="#1818ff" stroke-width="1" />
<polyline points="477.5,206.29 480.3,206.9 483.1,205.33 485.9,203.9 488.7,203.63 491.5,202.3 494.3,202.65 497.1,202.77 499.9,203.64 502.7,203.18 505.5,203.78 508.3,203.96 511.1,204.73 513.9,204 516.7,204.23 519.5,204.58 522.3,204.02 525.1,204.97 527.9,205.01 530.7,205.27 533.5,205.24 536.3,204.94 539.1,205.05 541.9,204.56 544.7,204.4 547.5,204.59 550.3,204.57 553.1,204.31 555.9,204.36 558.7,204.27 561.5,204.51 564.3,204.06 567.1,204.02 569.9,204.3 572.7,204.27 575.5,204.39 578.3,204.67 581.1,204.02 583.9,204.4 586.7,204.55 589.5,204.52 592.3,203.81 595.1,204.09 597.9,204.48 600.7,204.15 603.5,204.25 606.3,204.1 609.1,204.44 611.9,204.17 614.7,204.02 617.5,204.11 620.3,204.43 623.1,204.16 625.9,203.64 628.7,203.51 631.5,204.2 634.3,203.59 637.1,204.03 639.9,203.8 642.7,204.03 645.5,203.77 648.3,203.35 651.1,204.28 653.9,203.91" fill="none" stroke="#1414ff" stroke-width="0.9" />
<circle cx="477.5" cy="206.29" r="1.45" fill="#2828ff" fill-opacity="0.75"/>
<circle cx="480.3" cy="206.9" r="1.45" fill="#2828ff" fill-opacity="0.75"/>
<circle cx="483.1" cy="205.33" r="1.45" fill="#2828ff" fill-opacity="0.75"/>
<circle cx="485.9" cy="203.9" r="1.45" fill="#2828ff" fill-opacity="0.75"/>
<circle cx="488.7" cy="203.63" r="1.45" fill="#2828ff" fill-opacity="0.75"/>
<circle cx="491.5" cy="202.3" r="1.45" fill="#2828ff" fill-opacity="0.75"/>
<circle cx="494.3" cy="202.65" r="1.45" fill="#2828ff" fill-opacity="0.75"/>
<circle cx="497.1" cy="202.77" r="1.45" fill="#2828ff" fill-opacity="0.75"/>
<circle cx="499.9" cy="203.64" r="1.45" fill="#2828ff" fill-opacity="0.75"/>
<circle cx="502.7" cy="203.18" r="1.45" fill="#2828ff" fill-opacity="0.75"/>
<circle cx="505.5" cy="203.78" r="1.45" fill="#2828ff" fill-opacity="0.75"/>
<circle cx="508.3" cy="203.96" r="1.45" fill="#2828ff" fill-opacity="0.75"/>
<circle cx="511.1" cy="204.73" r="1.45" fill="#2828ff" fill-opacity="0.75"/>
<circle cx="513.9" cy="204" r="1.45" fill="#2828ff" fill-opacity="0.75"/>
<circle cx="516.7" cy="204.23" r="1.45" fill="#2828ff" fill-opacity="0.75"/>
<circle cx="519.5" cy="204.58" r="1.45" fill="#2828ff" fill-opacity="0.75"/>
<circle cx="522.3" cy="204.02" r="1.45" fill="#2828ff" fill-opacity="0.75"/>
<circle cx="525.1" cy="204.97" r="1.45" fill="#2828ff" fill-opacity="0.75"/>
<circle cx="527.9" cy="205.01" r="1.45" fill="#2828ff" fill-opacity="0.75"/>
<circle cx="530.7" cy="205.27" r="1.45" fill="#2828ff" fill-opacity="0.75"/>
<circle cx="533.5" cy="205.24" r="1.45" fill="#2828ff" fill-opacity="0.75"/>
<circle cx="536.3" cy="204.94" r="1.45" fill="#2828ff" fill-opacity="0.75"/>
<circle cx="539.1" cy="205.05" r="1.45" fill="#2828ff" fill-opacity="0.75"/>
<circle cx="541.9" cy="204.56" r="1.45" fill="#2828ff" fill-opacity="0.75"/>
<circle cx="544.7" cy="204.4" r="1.45" fill="#2828ff" fill-opacity="0.75"/>
<circle cx="547.5" cy="204.59" r="1.45" fill="#2828ff" fill-opacity="0.75"/>
<circle cx="550.3" cy="204.57" r="1.45" fill="#2828ff" fill-opacity="0.75"/>
<circle cx="553.1" cy="204.31" r="1.45" fill="#2828ff" fill-opacity="0.75"/>
<circle cx="555.9" cy="204.36" r="1.45" fill="#2828ff" fill-opacity="0.75"/>
<circle cx="558.7" cy="204.27" r="1.45" fill="#2828ff" fill-opacity="0.75"/>
<circle cx="561.5" cy="204.51" r="1.45" fill="#2828ff" fill-opacity="0.75"/>
<circle cx="564.3" cy="204.06" r="1.45" fill="#2828ff" fill-opacity="0.75"/>
<circle cx="567.1" cy="204.02" r="1.45" fill="#2828ff" fill-opacity="0.75"/>
<circle cx="569.9" cy="204.3" r="1.45" fill="#2828ff" fill-opacity="0.75"/>
<circle cx="572.7" cy="204.27" r="1.45" fill="#2828ff" fill-opacity="0.75"/>
<circle cx="575.5" cy="204.39" r="1.45" fill="#2828ff" fill-opacity="0.75"/>
<circle cx="578.3" cy="204.67" r="1.45" fill="#2828ff" fill-opacity="0.75"/>
<circle cx="581.1" cy="204.02" r="1.45" fill="#2828ff" fill-opacity="0.75"/>
<circle cx="583.9" cy="204.4" r="1.45" fill="#2828ff" fill-opacity="0.75"/>
<circle cx="586.7" cy="204.55" r="1.45" fill="#2828ff" fill-opacity="0.75"/>
<circle cx="589.5" cy="204.52" r="1.45" fill="#2828ff" fill-opacity="0.75"/>
<circle cx="592.3" cy="203.81" r="1.45" fill="#2828ff" fill-opacity="0.75"/>
<circle cx="595.1" cy="204.09" r="1.45" fill="#2828ff" fill-opacity="0.75"/>
<circle cx="597.9" cy="204.48" r="1.45" fill="#2828ff" fill-opacity="0.75"/>
<circle cx="600.7" cy="204.15" r="1.45" fill="#2828ff" fill-opacity="0.75"/>
<circle cx="603.5" cy="204.25" r="1.45" fill="#2828ff" fill-opacity="0.75"/>
<circle cx="606.3" cy="204.1" r="1.45" fill="#2828ff" fill-opacity="0.75"/>
<circle cx="609.1" cy="204.44" r="1.45" fill="#2828ff" fill-opacity="0.75"/>
<circle cx="611.9" cy="204.17" r="1.45" fill="#2828ff" fill-opacity="0.75"/>
<circle cx="614.7" cy="204.02" r="1.45" fill="#2828ff" fill-opacity="0.75"/>
<circle cx="617.5" cy="204.11" r="1.45" fill="#2828ff" fill-opacity="0.75"/>
<circle cx="620.3" cy="204.43" r="1.45" fill="#2828ff" fill-opacity="0.75"/>
<circle cx="623.1" cy="204.16" r="1.45" fill="#2828ff" fill-opacity="0.75"/>
<circle cx="625.9" cy="203.64" r="1.45" fill="#2828ff" fill-opacity="0.75"/>
<circle cx="628.7" cy="203.51" r="1.45" fill="#2828ff" fill-opacity="0.75"/>
<circle cx="631.5" cy="204.2" r="1.45" fill="#2828ff" fill-opacity="0.75"/>
<circle cx="634.3" cy="203.59" r="1.45" fill="#2828ff" fill-opacity="0.75"/>
<circle cx="637.1" cy="204.03" r="1.45" fill="#2828ff" fill-opacity="0.75"/>
<circle cx="639.9" cy="203.8" r="1.45" fill="#2828ff" fill-opacity="0.75"/>
<circle cx="642.7" cy="204.03" r="1.45" fill="#2828ff" fill-opacity="0.75"/>
<circle cx="645.5" cy="203.77" r="1.45" fill="#2828ff" fill-opacity="0.75"/>
<circle cx="648.3" cy="203.35" r="1.45" fill="#2828ff" fill-opacity="0.75"/>
<circle cx="651.1" cy="204.28" r="1.45" fill="#2828ff" fill-opacity="0.75"/>
<circle cx="653.9" cy="203.91" r="1.45" fill="#2828ff" fill-opacity="0.75"/>
</g>
<g id="axes" stroke-width="1" fill="none">
<path d="M46.3 0.5L351.15 0.5M46.3 172.95L351.15 172.95M46.3 230.45L351.15 230.45M351.15 0L351.15 230.45M429.9 0.5L734.75 0.5M429.9 172.95L734.75 172.95M429.9 230.45L734.75 230.45M734.75 0L734.75 230.45M60.6 0.5L60.6 7M60.6 166.45L60.6 179.45M60.6 223.95L60.6 230.45M102.1 0.5L102.1 4M102.1 169.45L102.1 176.45M102.1 226.95L102.1 230.45M143.6 0.5L143.6 7M143.6 166.45L143.6 179.45M143.6 223.95L143.6 230.45M185.1 0.5L185.1 4M185.1 169.45L185.1 176.45M185.1 226.95L185.1 230.45M226.6 0.5L226.6 7M226.6 166.45L226.6 179.45M226.6 223.95L226.6 230.45M268.1 0.5L268.1 4M268.1 169.45L268.1 176.45M268.1 226.95L268.1 230.45M309.6 0.5L309.6 7M309.6 166.45L309.6 179.45M309.6 223.95L309.6 230.45M442.54 0.5L442.54 4M442.54 169.45L442.54 176.45M442.54 226.95L442.54 230.45M463.48 0.5L463.48 4M463.48 169.45L463.48 176.45M463.48 226.95L463.48 230.45M480.58 0.5L480.58 4M480.58 169.45L480.58 176.45M480.58 226.95L480.58 230.45M495.04 0.5L495.04 4M495.04 169.45L495.04 176.45M495.04 226.95L495.04 230.45M507.57 0.5L507.57 4M507.57 169.45L507.57 176.45M507.57 226.95L507.57 230.45M518.62 0.5L518.62 4M518.62 169.45L518.62 176.45M518.62 226.95L518.62 230.45M528.5 0.5L528.5 7M528.5 166.45L528.5 179.45M528.5 223.95L528.5 230.45M593.52 0.5L593.52 4M593.52 169.45L593.52 176.45M593.52 226.95L593.52 230.45M631.56 0.5L631.56 4M631.56 169.45L631.56 176.45M631.56 226.95L631.56 230.45M658.54 0.5L658.54 4M658.54 169.45L658.54 176.45M658.54 226.95L658.54 230.45M679.48 0.5L679.48 4M679.48 169.45L679.48 176.45M679.48 226.95L679.48 230.45M696.58 0.5L696.58 4M696.58 169.45L696.58 176.45M696.58 226.95L696.58 230.45M711.04 0.5L711.04 4M711.04 169.45L711.04 176.45M711.04 226.95L711.04 230.45M723.57 0.5L723.57 4M723.57 169.45L723.57 176.45M723.57 226.95L723.57 230.45M347.65 2.25L351.15 2.25M347.65 12.29L351.15 12.29M347.65 26.43L351.15 26.43M344.65 50.6L351.15 50.6M347.65 54.27L351.15 54.27M347.65 58.38L351.15 58.38M347.65 63.04L351.15 63.04M347.65 68.41L351.15 68.41M347.65 74.77L351.15 74.77M347.65 82.55L351.15 82.55M347.65 92.59L351.15 92.59M347.65 106.73L351.15 106.73M344.65 130.9L351.15 130.9M347.65 134.57L351.15 134.57M347.65 138.68L351.15 138.68M347.65 143.34L351.15 143.34M347.65 148.71L351.15 148.71M347.65 155.07L351.15 155.07M347.65 162.85L351.15 162.85M731.25 2.25L734.75 2.25M731.25 12.29L734.75 12.29M731.25 26.43L734.75 26.43M728.25 50.6L734.75 50.6M731.25 54.27L734.75 54.27M731.25 58.38L734.75 58.38M731.25 63.04L734.75 63.04M731.25 68.41L734.75 68.41M731.25 74.77L734.75 74.77M731.25 82.55L734.75 82.55M731.25 92.59L734.75 92.59M731.25 106.73L734.75 106.73M728.25 130.9L734.75 130.9M731.25 134.57L734.75 134.57M731.25 138.68L734.75 138.68M731.25 143.34L734.75 143.34M731.25 148.71L734.75 148.71M731.25 155.07L734.75 155.07M731.25 162.85L734.75 162.85M347.65 226.58L351.15 226.58M347.65 223.42L351.15 223.42M347.65 220.26L351.15 220.26M344.65 217.1L351.15 217.1M347.65 213.94L351.15 213.94M347.65 210.78L351.15 210.78M347.65 207.62L351.15 207.62M347.65 204.46L351.15 204.46M344.65 201.3L351.15 201.3M347.65 198.14L351.15 198.14M347.65 194.98L351.15 194.98M347.65 191.82L351.15 191.82M347.65 188.66L351.15 188.66M344.65 185.5L351.15 185.5M347.65 182.34L351.15 182.34M347.65 179.18L351.15 179.18M347.65 176.02L351.15 176.02M728.25 227L734.75 227M731.25 215.8L734.75 215.8M728.25 204.6L734.75 204.6M731.25 193.4L734.75 193.4M728.25 182.2L734.75 182.2" stroke="#828282"/>
<path d="M46.3 0L46.3 230.45M429.9 0L429.9 230.45M46.3 2.25L49.8 2.25M46.3 12.29L49.8 12.29M46.3 26.43L49.8 26.43M46.3 50.6L52.8 50.6M46.3 54.27L49.8 54.27M46.3 58.38L49.8 58.38M46.3 63.04L49.8 63.04M46.3 68.41L49.8 68.41M46.3 74.77L49.8 74.77M46.3 82.55L49.8 82.55M46.3 92.59L49.8 92.59M46.3 106.73L49.8 106.73M46.3 130.9L52.8 130.9M46.3 134.57L49.8 134.57M46.3 138.68L49.8 138.68M46.3 143.34L49.8 143.34M46.3 148.71L49.8 148.71M46.3 155.07L49.8 155.07M46.3 162.85L49.8 162.85M429.9 2.25L433.4 2.25M429.9 12.29L433.4 12.29M429.9 26.43L433.4 26.43M429.9 50.6L436.4 50.6M429.9 54.27L433.4 54.27M429.9 58.38L433.4 58.38M429.9 63.04L433.4 63.04M429.9 68.41L433.4 68.41M429.9 74.77L433.4 74.77M429.9 82.55L433.4 82.55M429.9 92.59L433.4 92.59M429.9 106.73L433.4 106.73M429.9 130.9L436.4 130.9M429.9 134.57L433.4 134.57M429.9 138.68L433.4 138.68M429.9 143.34L433.4 143.34M429.9 148.71L433.4 148.71M429.9 155.07L433.4 155.07M429.9 162.85L433.4 162.85M46.3 226.58L49.8 226.58M46.3 223.42L49.8 223.42M46.3 220.26L49.8 220.26M46.3 217.1L52.8 217.1M46.3 213.94L49.8 213.94M46.3 210.78L49.8 210.78M46.3 207.62L49.8 207.62M46.3 204.46L49.8 204.46M46.3 201.3L52.8 201.3M46.3 198.14L49.8 198.14M46.3 194.98L49.8 194.98M46.3 191.82L49.8 191.82M46.3 188.66L49.8 188.66M46.3 185.5L52.8 185.5M46.3 182.34L49.8 182.34M46.3 179.18L49.8 179.18M46.3 176.02L49.8 176.02M429.9 227L436.4 227M429.9 215.8L433.4 215.8M429.9 204.6L436.4 204.6M429.9 193.4L433.4 193.4M429.9 182.2L436.4 182.2" stroke="#979797"/>
</g>
<g id="labels" opacity="0.999">
<g transform="translate(60.6 248.1)" fill="#000"><text x="-4.45" y="0" font-size="16" font-family="Liberation Sans, sans-serif">2</text></g>
<g transform="translate(143.6 248.1)" fill="#000"><text x="-4.45" y="0" font-size="16" font-family="Liberation Sans, sans-serif">4</text></g>
<g transform="translate(226.6 248.1)" fill="#000"><text x="-4.45" y="0" font-size="16" font-family="Liberation Sans, sans-serif">6</text></g>
<g transform="translate(309.6 248.1)" fill="#000"><text x="-4.45" y="0" font-size="16" font-family="Liberation Sans, sans-serif">8</text></g>
<g transform="translate(463.48 248.1)" fill="#000"><text x="-11.12" y="0" font-size="16" font-family="Liberation Sans, sans-serif">0</text><text x="-2.22" y="0" font-size="16" font-family="Liberation Sans, sans-serif">.</text><text x="2.22" y="0" font-size="16" font-family="Liberation Sans, sans-serif">5</text></g>
<g transform="translate(528.5 248.1)" fill="#000"><path d="M763 0L583 0L583 1147Q518 1085 412.5 1023Q307 961 223 930L223 1104Q374 1175 487 1276Q600 1377 647 1472L763 1472Z" transform="translate(-4.45 0) scale(0.00781 -0.00781)"/></g>
<g transform="translate(593.52 248.1)" fill="#000"><text x="-4.45" y="0" font-size="16" font-family="Liberation Sans, sans-serif">2</text></g>
<g transform="translate(679.48 248.1)" fill="#000"><text x="-4.45" y="0" font-size="16" font-family="Liberation Sans, sans-serif">5</text></g>
<g transform="translate(36 50.4) rotate(-90)" fill="#000"><text x="-11.12" y="0" font-size="16" font-family="Liberation Sans, sans-serif">0</text><text x="-2.22" y="0" font-size="16" font-family="Liberation Sans, sans-serif">.</text><path d="M763 0L583 0L583 1147Q518 1085 412.5 1023Q307 961 223 930L223 1104Q374 1175 487 1276Q600 1377 647 1472L763 1472Z" transform="translate(2.22 0) scale(0.00781 -0.00781)"/></g>
<g transform="translate(36 131.1) rotate(-90)" fill="#000"><text x="-15.57" y="0" font-size="16" font-family="Liberation Sans, sans-serif">0</text><text x="-6.67" y="0" font-size="16" font-family="Liberation Sans, sans-serif">.</text><text x="-2.22" y="0" font-size="16" font-family="Liberation Sans, sans-serif">0</text><path d="M763 0L583 0L583 1147Q518 1085 412.5 1023Q307 961 223 930L223 1104Q374 1175 487 1276Q600 1377 647 1472L763 1472Z" transform="translate(6.67 0) scale(0.00781 -0.00781)"/></g>
<g transform="translate(420.2 50.4) rotate(-90)" fill="#000"><text x="-11.12" y="0" font-size="16" font-family="Liberation Sans, sans-serif">0</text><text x="-2.22" y="0" font-size="16" font-family="Liberation Sans, sans-serif">.</text><path d="M763 0L583 0L583 1147Q518 1085 412.5 1023Q307 961 223 930L223 1104Q374 1175 487 1276Q600 1377 647 1472L763 1472Z" transform="translate(2.22 0) scale(0.00781 -0.00781)"/></g>
<g transform="translate(420.2 131.1) rotate(-90)" fill="#000"><text x="-15.57" y="0" font-size="16" font-family="Liberation Sans, sans-serif">0</text><text x="-6.67" y="0" font-size="16" font-family="Liberation Sans, sans-serif">.</text><text x="-2.22" y="0" font-size="16" font-family="Liberation Sans, sans-serif">0</text><path d="M763 0L583 0L583 1147Q518 1085 412.5 1023Q307 961 223 930L223 1104Q374 1175 487 1276Q600 1377 647 1472L763 1472Z" transform="translate(6.67 0) scale(0.00781 -0.00781)"/></g>
<g transform="translate(36 217.4) rotate(-90)" fill="#000"><text x="-11.12" y="0" font-size="16" font-family="Liberation Sans, sans-serif">0</text><text x="-2.22" y="0" font-size="16" font-family="Liberation Sans, sans-serif">.</text><text x="2.22" y="0" font-size="16" font-family="Liberation Sans, sans-serif">9</text></g>
<g transform="translate(36 200.8) rotate(-90)" fill="#000"><path d="M763 0L583 0L583 1147Q518 1085 412.5 1023Q307 961 223 930L223 1104Q374 1175 487 1276Q600 1377 647 1472L763 1472Z" transform="translate(-4.45 0) scale(0.00781 -0.00781)"/></g>
<g transform="translate(36 185.8) rotate(-90)" fill="#000"><path d="M763 0L583 0L583 1147Q518 1085 412.5 1023Q307 961 223 930L223 1104Q374 1175 487 1276Q600 1377 647 1472L763 1472Z" transform="translate(-11.12 0) scale(0.00781 -0.00781)"/><text x="-2.22" y="0" font-size="16" font-family="Liberation Sans, sans-serif">.</text><path d="M763 0L583 0L583 1147Q518 1085 412.5 1023Q307 961 223 930L223 1104Q374 1175 487 1276Q600 1377 647 1472L763 1472Z" transform="translate(2.22 0) scale(0.00781 -0.00781)"/></g>
<g transform="translate(420.2 227.6) rotate(-90)" fill="#000"><text x="-11.12" y="0" font-size="16" font-family="Liberation Sans, sans-serif">0</text><text x="-2.22" y="0" font-size="16" font-family="Liberation Sans, sans-serif">.</text><text x="2.22" y="0" font-size="16" font-family="Liberation Sans, sans-serif">8</text></g>
<g transform="translate(420.2 205.2) rotate(-90)" fill="#000"><path d="M763 0L583 0L583 1147Q518 1085 412.5 1023Q307 961 223 930L223 1104Q374 1175 487 1276Q600 1377 647 1472L763 1472Z" transform="translate(-4.45 0) scale(0.00781 -0.00781)"/></g>
<g transform="translate(420.2 182.6) rotate(-90)" fill="#000"><path d="M763 0L583 0L583 1147Q518 1085 412.5 1023Q307 961 223 930L223 1104Q374 1175 487 1276Q600 1377 647 1472L763 1472Z" transform="translate(-11.12 0) scale(0.00781 -0.00781)"/><text x="-2.22" y="0" font-size="16" font-family="Liberation Sans, sans-serif">.</text><text x="2.22" y="0" font-size="16" font-family="Liberation Sans, sans-serif">2</text></g>
<text x="14.8" y="163.7" font-size="16" font-family="Liberation Serif, serif" fill="#000" text-anchor="start" transform="rotate(-90 14.8 163.7)" word-spacing="-1.15">Photons cm<tspan font-size="10.7" dy="-4.0">&#8722;2</tspan><tspan dy="4.0"> s</tspan><tspan font-size="10.7" dy="-4.0">&#8722;1</tspan><tspan dy="4.0"> &#197;</tspan><tspan font-size="10.7" dy="-4.0">&#8722;1</tspan></text>
<text x="399" y="163.7" font-size="16" font-family="Liberation Serif, serif" fill="#000" text-anchor="start" transform="rotate(-90 399 163.7)" word-spacing="-1.15">Photons cm<tspan font-size="10.7" dy="-4.0">&#8722;2</tspan><tspan dy="4.0"> s</tspan><tspan font-size="10.7" dy="-4.0">&#8722;1</tspan><tspan dy="4.0"> &#197;</tspan><tspan font-size="10.7" dy="-4.0">&#8722;1</tspan></text>
<text x="14.6" y="222.8" font-size="16" font-family="Liberation Serif, serif" fill="#000" text-anchor="start" transform="rotate(-90 14.6 222.8)" >Ratio</text>
<text x="398.8" y="222.8" font-size="16" font-family="Liberation Serif, serif" fill="#000" text-anchor="start" transform="rotate(-90 398.8 222.8)" >Ratio</text>
<text x="141.8" y="277.3" font-size="16" font-family="Liberation Serif, serif" fill="#000" text-anchor="start" letter-spacing="0.13">Wavelength (&#197;)</text>
<text x="525.6" y="277.3" font-size="16" font-family="Liberation Serif, serif" fill="#000" text-anchor="start" letter-spacing="0.1">Wavelength (&#197;)</text>
<text x="94" y="10.6" font-size="12" font-family="Liberation Sans, sans-serif" fill="#000" text-anchor="start" >Ca XX</text>
<text x="55.4" y="30.5" font-size="12" font-family="Liberation Sans, sans-serif" fill="#000" text-anchor="start" >Fe XXV</text>
<text x="52.3" y="47.3" font-size="12" font-family="Liberation Sans, sans-serif" fill="#000" text-anchor="start" >Fe XXVI</text>
<text x="135.4" y="19.8" font-size="12" font-family="Liberation Sans, sans-serif" fill="#000" text-anchor="start" >Ar XVIII</text>
<text x="151.8" y="59.8" font-size="12" font-family="Liberation Sans, sans-serif" fill="#000" text-anchor="start" >S XVI</text>
<text x="209.7" y="101.8" font-size="12" font-family="Liberation Sans, sans-serif" fill="#000" text-anchor="start" >Si XIV</text>
<text x="291.1" y="152.8" font-size="12" font-family="Liberation Sans, sans-serif" fill="#000" text-anchor="start" >Mg XII</text>
<text x="214.3" y="18.8" font-size="12" font-family="Liberation Sans, sans-serif" fill="#ff0000" text-anchor="start" >Disk+BB+PL Model</text>
<text x="214.3" y="30.6" font-size="12" font-family="Liberation Sans, sans-serif" fill="#0000ff" text-anchor="start" >Disk+BB+PL, No Pile&#8722;up</text>
<text x="442.8" y="19.2" font-size="10" font-family="Liberation Sans, sans-serif" fill="#ff0000" text-anchor="start" >Disk+BB+PL Model</text>
<text x="442.8" y="28.7" font-size="10" font-family="Liberation Sans, sans-serif" fill="#00f400" text-anchor="start" >Disk Contribution</text>
<text x="442.8" y="39.5" font-size="10" font-family="Liberation Sans, sans-serif" fill="#ff8c1a" text-anchor="start" >BB Contribution</text>
<text x="442.8" y="51.1" font-size="10" font-family="Liberation Sans, sans-serif" fill="#ff2cff" text-anchor="start" >PL Contribution</text>
</g>
</svg>
</body></html>
